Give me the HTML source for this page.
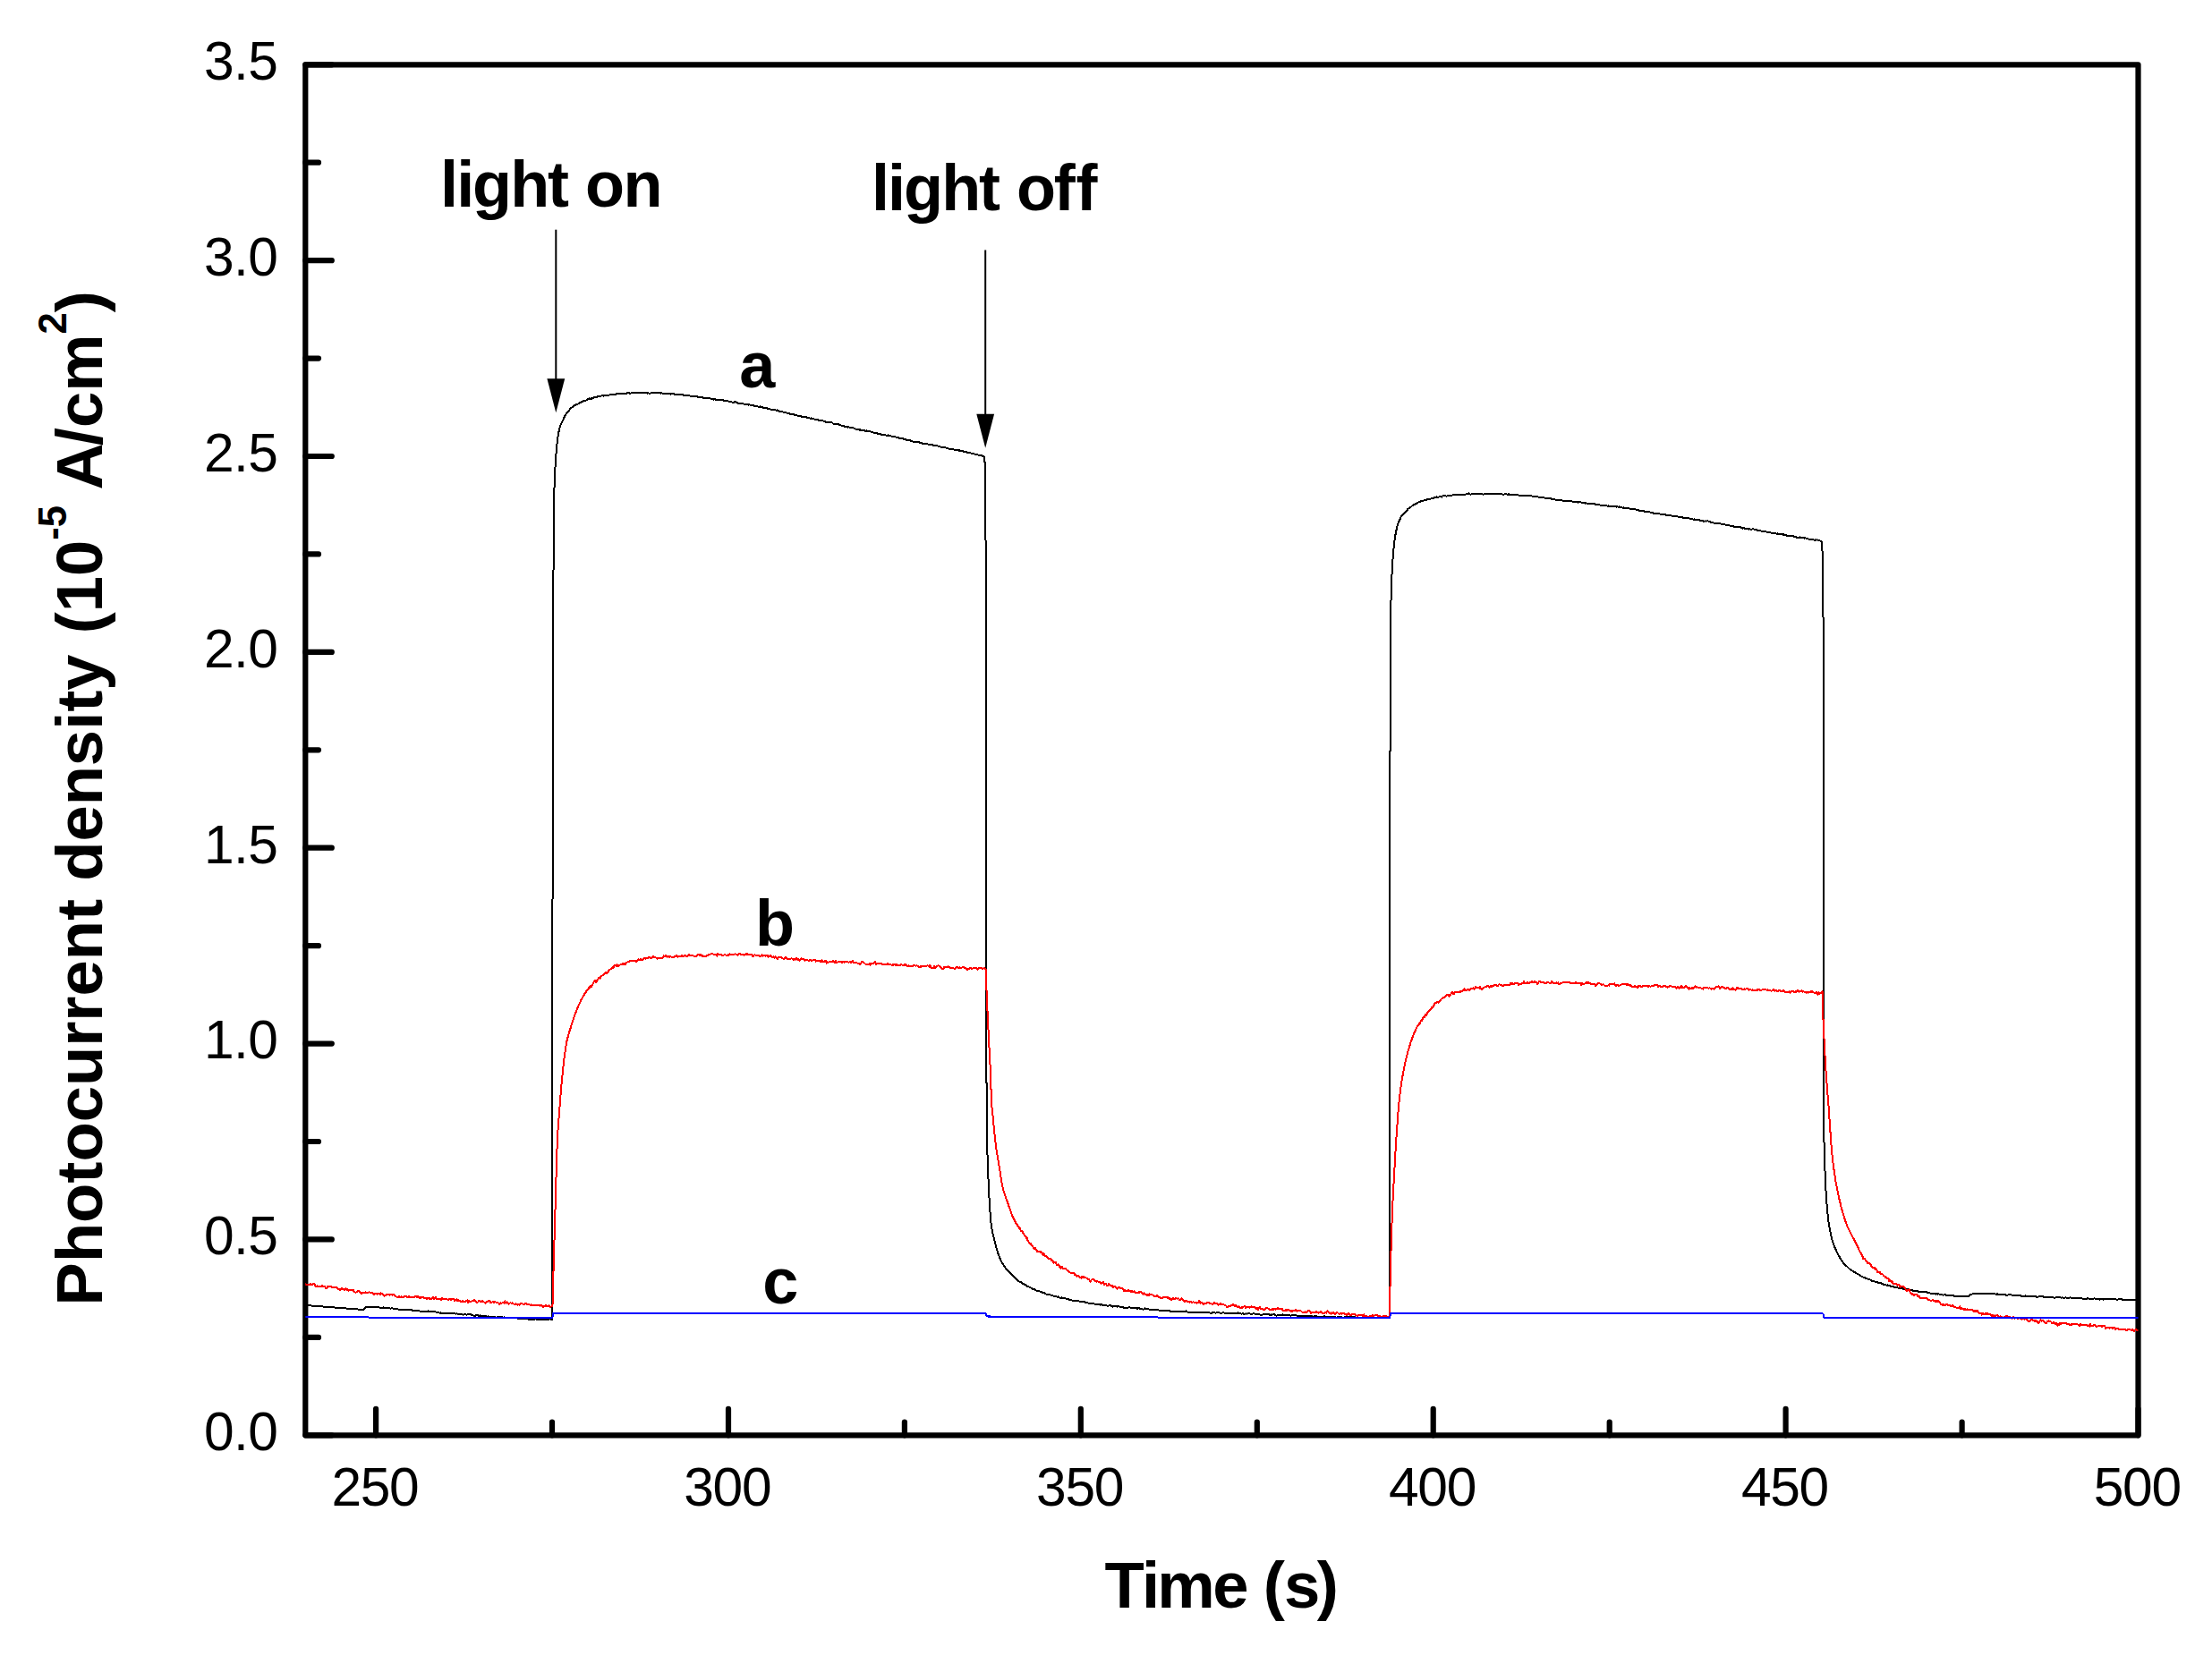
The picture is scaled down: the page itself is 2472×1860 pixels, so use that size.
<!DOCTYPE html>
<html lang="en">
<head>
<meta charset="utf-8">
<title>Photocurrent density vs time</title>
<style>
html,body{margin:0;padding:0;background:#ffffff;}
body{width:2472px;height:1860px;}
svg{display:block;}
</style>
</head>
<body>
<svg width="2472" height="1860" viewBox="0 0 2472 1860">
<rect x="0" y="0" width="2472" height="1860" fill="#ffffff"/>
<g fill="none" stroke="#000000" stroke-width="6.2" stroke-linecap="round" stroke-linejoin="round">
<path d="M341.3,72.3 L2389.5,72.3 L2389.5,1604.3 L341.3,1604.3 Z"/>
<path d="M341.3,1604.3 h29.5 M341.3,1494.9 h14.7 M341.3,1385.4 h29.5 M341.3,1276.0 h14.7 M341.3,1166.6 h29.5 M341.3,1057.2 h14.7 M341.3,947.7 h29.5 M341.3,838.3 h14.7 M341.3,728.9 h29.5 M341.3,619.4 h14.7 M341.3,510.0 h29.5 M341.3,400.6 h14.7 M341.3,291.2 h29.5 M341.3,181.7 h14.7 M341.3,72.3 h29.5 M420.1,1604.3 v-29.5 M617.0,1604.3 v-14.7 M814.0,1604.3 v-29.5 M1010.9,1604.3 v-14.7 M1207.8,1604.3 v-29.5 M1404.8,1604.3 v-14.7 M1601.7,1604.3 v-29.5 M1798.7,1604.3 v-14.7 M1995.6,1604.3 v-29.5 M2192.6,1604.3 v-14.7 M2389.5,1604.3 v-29.5"/>
</g>
<clipPath id="plot"><rect x="341.3" y="72.3" width="2048.2" height="1532.0"/></clipPath>
<g fill="none" stroke-width="2.0" stroke-linejoin="round" stroke-linecap="butt" clip-path="url(#plot)" shape-rendering="crispEdges">
<path stroke="#000000" d="M340.0,1458.9 L405.9,1464.0 L408.3,1461.5 L424.0,1461.4 L425.0,1461.7 L426.0,1461.9 L427.0,1461.5 L428.0,1461.7 L429.0,1461.4 L430.0,1462.2 L431.0,1461.9 L432.0,1462.0 L433.0,1462.4 L434.0,1462.3 L435.0,1462.3 L436.0,1462.5 L437.0,1462.5 L438.0,1462.3 L439.0,1462.6 L440.0,1462.6 L441.0,1462.6 L442.1,1463.3 L443.1,1463.4 L444.1,1463.2 L445.1,1463.5 L446.1,1463.7 L447.1,1463.9 L448.1,1463.7 L449.1,1463.9 L450.1,1464.4 L451.1,1464.1 L452.1,1464.2 L453.1,1464.4 L454.1,1464.2 L455.1,1464.1 L456.1,1464.3 L457.1,1463.5 L458.1,1464.4 L459.1,1464.2 L460.1,1464.1 L461.1,1464.8 L462.1,1464.9 L463.1,1464.9 L464.1,1464.7 L465.1,1465.0 L466.1,1464.9 L467.1,1465.1 L468.1,1465.3 L469.1,1465.6 L470.1,1465.9 L471.1,1465.8 L472.1,1465.5 L473.1,1465.7 L474.2,1466.0 L475.2,1465.7 L476.2,1465.7 L477.2,1465.9 L478.2,1465.4 L479.2,1466.4 L480.2,1466.3 L481.2,1466.0 L482.2,1466.3 L483.2,1465.8 L484.2,1466.3 L485.2,1465.7 L486.2,1466.1 L487.2,1466.6 L488.2,1467.0 L489.2,1466.5 L490.2,1467.1 L491.2,1467.6 L492.2,1467.4 L493.2,1468.2 L494.2,1467.6 L495.2,1467.9 L496.2,1467.6 L497.2,1467.9 L498.2,1467.7 L499.2,1467.7 L500.2,1467.6 L501.2,1468.4 L502.3,1468.1 L503.3,1468.1 L504.3,1468.2 L505.3,1468.0 L506.3,1467.9 L507.3,1468.0 L508.3,1468.0 L509.3,1468.7 L510.3,1468.3 L510.8,1468.5 L511.3,1468.5 L512.3,1468.6 L513.3,1468.9 L514.3,1468.6 L515.3,1468.8 L516.3,1469.3 L517.3,1469.5 L518.3,1469.5 L519.3,1469.4 L520.3,1469.4 L521.3,1469.6 L522.3,1469.5 L523.3,1469.4 L524.3,1469.2 L525.3,1469.4 L526.3,1469.4 L527.4,1469.9 L528.4,1470.0 L529.4,1470.7 L530.4,1470.5 L531.4,1470.6 L532.4,1469.9 L533.4,1470.3 L534.4,1470.4 L535.4,1470.8 L536.4,1470.2 L537.4,1471.0 L538.4,1471.1 L539.4,1470.6 L540.4,1471.0 L541.4,1471.0 L542.4,1471.2 L543.4,1471.5 L544.4,1471.9 L545.4,1471.5 L546.4,1471.8 L547.4,1471.6 L548.4,1472.0 L549.4,1471.9 L550.4,1472.2 L551.5,1472.0 L552.5,1472.1 L553.5,1472.3 L554.5,1472.7 L555.5,1472.4 L556.5,1472.4 L557.5,1472.1 L558.5,1472.4 L559.5,1472.2 L560.5,1472.1 L561.5,1472.5 L562.5,1472.8 L563.5,1472.5 L564.5,1472.7 L565.5,1472.6 L566.5,1472.8 L567.5,1473.3 L568.5,1473.2 L569.5,1473.2 L570.5,1473.3 L571.5,1473.2 L572.5,1473.4 L573.6,1472.9 L574.6,1472.9 L575.6,1473.2 L576.6,1473.0 L577.6,1473.4 L578.6,1473.7 L579.6,1473.9 L580.6,1474.1 L581.6,1473.6 L582.6,1473.7 L583.6,1473.9 L584.6,1474.0 L585.6,1474.5 L586.6,1473.9 L587.6,1474.4 L588.6,1474.1 L589.6,1474.4 L590.6,1474.6 L591.6,1474.7 L592.7,1474.7 L593.7,1474.6 L594.7,1474.7 L595.7,1474.6 L596.7,1474.5 L597.7,1474.5 L598.7,1474.3 L599.7,1474.8 L600.0,1474.9 L600.7,1475.2 L601.7,1475.0 L602.7,1475.1 L603.7,1475.2 L604.7,1475.4 L605.7,1474.8 L606.7,1474.8 L607.7,1474.6 L608.7,1475.0 L609.8,1474.9 L610.8,1475.4 L611.8,1474.9 L612.8,1474.6 L613.8,1474.5 L614.8,1474.4 L615.8,1474.7 L616.8,1474.9 L617.0,1475.0 L617.0,1474.0 L617.0,1473.0 L617.0,1472.0 L617.0,1471.0 L617.0,1470.0 L617.0,1469.0 L617.0,1468.0 L617.0,1467.0 L617.0,1466.0 L617.0,1465.0 L617.0,1464.0 L617.0,1463.0 L617.0,1462.0 L617.0,1461.0 L617.0,1460.0 L617.0,1459.0 L617.0,1458.0 L617.0,1457.0 L617.0,1456.0 L617.0,1455.0 L617.0,1454.0 L617.0,1453.0 L617.0,1452.0 L617.0,1451.0 L617.0,1450.0 L617.0,1449.0 L617.0,1448.0 L617.0,1447.0 L617.0,1446.0 L617.0,1445.0 L617.0,1444.0 L617.0,1443.0 L617.0,1442.0 L617.0,1441.0 L617.0,1440.0 L617.0,1439.0 L617.0,1438.0 L617.0,1437.0 L617.0,1436.0 L617.0,1435.0 L617.0,1434.0 L617.0,1433.0 L617.0,1432.0 L617.0,1431.0 L617.0,1430.0 L617.0,1429.0 L617.0,1428.0 L617.0,1427.0 L617.0,1426.0 L617.0,1425.0 L617.0,1424.0 L617.0,1423.0 L617.0,1422.0 L617.0,1421.0 L617.0,1420.0 L617.0,1419.0 L617.0,1418.0 L617.0,1417.0 L617.0,1416.0 L617.0,1415.0 L617.0,1414.0 L617.0,1413.0 L617.0,1412.0 L617.0,1411.0 L617.0,1410.0 L617.0,1409.0 L617.0,1408.0 L617.0,1407.0 L617.0,1406.0 L617.0,1405.0 L617.0,1404.0 L617.0,1403.0 L617.0,1402.0 L617.0,1401.0 L617.0,1399.9 L617.0,1398.9 L617.0,1397.9 L617.0,1396.9 L617.0,1395.9 L617.0,1394.9 L617.0,1393.9 L617.0,1392.9 L617.0,1391.9 L617.0,1390.9 L617.0,1389.9 L617.0,1388.9 L617.0,1387.9 L617.0,1386.9 L617.0,1385.9 L617.0,1384.9 L617.0,1383.9 L617.0,1382.9 L617.0,1381.9 L617.0,1380.9 L617.0,1379.9 L617.0,1378.9 L617.0,1377.9 L617.0,1376.9 L617.0,1375.9 L617.0,1374.9 L617.0,1373.9 L617.0,1372.9 L617.0,1371.9 L617.0,1370.9 L617.0,1369.9 L617.0,1368.9 L617.0,1367.9 L617.0,1366.9 L617.0,1365.9 L617.0,1364.9 L617.0,1363.9 L617.0,1362.9 L617.0,1361.9 L617.0,1360.9 L617.0,1359.9 L617.0,1358.9 L617.0,1357.9 L617.0,1356.9 L617.0,1355.9 L617.0,1354.9 L617.1,1353.9 L617.1,1352.9 L617.1,1351.9 L617.1,1350.9 L617.1,1349.9 L617.1,1348.9 L617.1,1347.9 L617.1,1346.9 L617.1,1345.9 L617.1,1344.9 L617.1,1343.9 L617.1,1342.9 L617.1,1341.9 L617.1,1340.9 L617.1,1339.9 L617.1,1338.9 L617.1,1337.9 L617.1,1336.9 L617.1,1335.9 L617.1,1334.9 L617.1,1333.9 L617.1,1332.9 L617.1,1331.9 L617.1,1330.9 L617.1,1329.9 L617.1,1328.9 L617.1,1327.9 L617.1,1326.9 L617.1,1325.9 L617.1,1324.9 L617.1,1323.9 L617.1,1322.9 L617.1,1321.9 L617.1,1320.9 L617.1,1319.9 L617.1,1318.9 L617.1,1317.9 L617.1,1316.9 L617.1,1315.9 L617.1,1314.9 L617.1,1313.9 L617.1,1312.9 L617.1,1311.9 L617.1,1310.9 L617.1,1309.9 L617.1,1308.9 L617.1,1307.9 L617.1,1306.9 L617.1,1305.9 L617.1,1304.9 L617.1,1303.9 L617.1,1302.9 L617.1,1301.9 L617.1,1300.9 L617.1,1299.9 L617.1,1298.9 L617.1,1297.9 L617.1,1296.9 L617.1,1295.9 L617.1,1294.9 L617.1,1293.9 L617.1,1292.9 L617.1,1291.9 L617.1,1290.9 L617.1,1289.9 L617.1,1288.9 L617.1,1287.9 L617.1,1286.9 L617.1,1285.9 L617.1,1284.9 L617.1,1283.9 L617.1,1282.9 L617.1,1281.9 L617.1,1280.9 L617.1,1279.9 L617.1,1278.9 L617.1,1277.9 L617.1,1276.9 L617.1,1275.9 L617.1,1274.9 L617.1,1273.9 L617.1,1272.9 L617.1,1271.9 L617.1,1270.9 L617.1,1269.9 L617.1,1268.9 L617.1,1267.9 L617.1,1266.9 L617.1,1265.9 L617.1,1264.9 L617.1,1263.9 L617.1,1262.9 L617.1,1261.9 L617.1,1260.9 L617.1,1259.9 L617.1,1258.9 L617.1,1257.9 L617.1,1256.9 L617.1,1255.9 L617.1,1254.9 L617.1,1253.9 L617.1,1252.9 L617.1,1251.8 L617.1,1250.8 L617.1,1249.8 L617.1,1248.8 L617.1,1247.8 L617.1,1246.8 L617.1,1245.8 L617.1,1244.8 L617.1,1243.8 L617.1,1242.8 L617.1,1241.8 L617.2,1240.8 L617.2,1239.8 L617.2,1238.8 L617.2,1237.8 L617.2,1236.8 L617.2,1235.8 L617.2,1234.8 L617.2,1233.8 L617.2,1232.8 L617.2,1231.8 L617.2,1230.8 L617.2,1229.8 L617.2,1228.8 L617.2,1227.8 L617.2,1226.8 L617.2,1225.8 L617.2,1224.8 L617.2,1223.8 L617.2,1222.8 L617.2,1221.8 L617.2,1220.8 L617.2,1219.8 L617.2,1218.8 L617.2,1217.8 L617.2,1216.8 L617.2,1215.8 L617.2,1214.8 L617.2,1213.8 L617.2,1212.8 L617.2,1211.8 L617.2,1210.8 L617.2,1209.8 L617.2,1208.8 L617.2,1207.8 L617.2,1206.8 L617.2,1205.8 L617.2,1204.8 L617.2,1203.8 L617.2,1202.8 L617.2,1201.8 L617.2,1200.8 L617.2,1199.8 L617.2,1198.8 L617.2,1197.8 L617.2,1196.8 L617.2,1195.8 L617.2,1194.8 L617.2,1193.8 L617.2,1192.8 L617.2,1191.8 L617.2,1190.8 L617.2,1189.8 L617.2,1188.8 L617.2,1187.8 L617.2,1186.8 L617.2,1185.8 L617.2,1184.8 L617.2,1183.8 L617.2,1182.8 L617.2,1181.8 L617.2,1180.8 L617.2,1179.8 L617.2,1178.8 L617.2,1177.8 L617.2,1176.8 L617.2,1175.8 L617.2,1174.8 L617.2,1173.8 L617.2,1172.8 L617.2,1171.8 L617.2,1170.8 L617.2,1169.8 L617.2,1168.8 L617.2,1167.8 L617.2,1166.8 L617.2,1165.8 L617.2,1164.8 L617.2,1163.8 L617.2,1162.8 L617.2,1161.8 L617.2,1160.8 L617.2,1159.8 L617.2,1158.8 L617.2,1157.8 L617.2,1156.8 L617.2,1155.8 L617.2,1154.8 L617.3,1153.8 L617.3,1152.8 L617.3,1151.8 L617.3,1150.8 L617.3,1149.8 L617.3,1148.8 L617.3,1147.8 L617.3,1146.8 L617.3,1145.8 L617.3,1144.8 L617.3,1143.8 L617.3,1142.8 L617.3,1141.8 L617.3,1140.8 L617.3,1139.8 L617.3,1138.8 L617.3,1137.8 L617.3,1136.8 L617.3,1135.8 L617.3,1134.8 L617.3,1133.8 L617.3,1132.8 L617.3,1131.8 L617.3,1130.8 L617.3,1129.8 L617.3,1128.8 L617.3,1127.8 L617.3,1126.8 L617.3,1125.8 L617.3,1124.8 L617.3,1123.8 L617.3,1122.8 L617.3,1121.8 L617.3,1120.8 L617.3,1119.8 L617.3,1118.8 L617.3,1117.8 L617.3,1116.8 L617.3,1115.8 L617.3,1114.8 L617.3,1113.8 L617.3,1112.8 L617.3,1111.8 L617.3,1110.8 L617.3,1109.8 L617.3,1108.8 L617.3,1107.8 L617.3,1106.8 L617.3,1105.8 L617.3,1104.8 L617.3,1103.8 L617.3,1102.7 L617.3,1101.7 L617.3,1100.7 L617.3,1099.7 L617.3,1098.7 L617.3,1097.7 L617.3,1096.7 L617.3,1095.7 L617.3,1094.7 L617.3,1093.7 L617.3,1092.7 L617.3,1091.7 L617.3,1090.7 L617.3,1089.7 L617.3,1088.7 L617.3,1087.7 L617.3,1086.7 L617.3,1085.7 L617.3,1084.7 L617.3,1083.7 L617.3,1082.7 L617.3,1081.7 L617.3,1080.7 L617.3,1079.7 L617.3,1078.7 L617.3,1077.7 L617.4,1076.7 L617.4,1075.7 L617.4,1074.7 L617.4,1073.7 L617.4,1072.7 L617.4,1071.7 L617.4,1070.7 L617.4,1069.7 L617.4,1068.7 L617.4,1067.7 L617.4,1066.7 L617.4,1065.7 L617.4,1064.7 L617.4,1063.7 L617.4,1062.7 L617.4,1061.7 L617.4,1060.7 L617.4,1059.7 L617.4,1058.7 L617.4,1057.7 L617.4,1056.7 L617.4,1055.7 L617.4,1054.7 L617.4,1053.7 L617.4,1052.7 L617.4,1051.7 L617.4,1050.7 L617.4,1049.7 L617.4,1048.7 L617.4,1047.7 L617.4,1046.7 L617.4,1045.7 L617.4,1044.7 L617.4,1043.7 L617.4,1042.7 L617.4,1041.7 L617.4,1040.7 L617.4,1040.0 L617.4,1039.7 L617.4,1038.7 L617.4,1037.7 L617.4,1036.7 L617.4,1035.7 L617.4,1034.7 L617.4,1033.7 L617.4,1032.7 L617.4,1031.7 L617.4,1030.7 L617.4,1029.7 L617.4,1028.7 L617.4,1027.7 L617.4,1026.7 L617.4,1025.7 L617.4,1024.7 L617.4,1023.7 L617.4,1022.7 L617.4,1021.7 L617.4,1020.7 L617.4,1019.7 L617.4,1018.7 L617.4,1017.7 L617.4,1016.7 L617.4,1015.7 L617.4,1014.7 L617.4,1013.7 L617.4,1012.7 L617.4,1011.7 L617.4,1010.7 L617.4,1009.7 L617.4,1008.7 L617.4,1007.7 L617.4,1006.7 L617.4,1005.7 L617.5,1004.7 L617.5,1003.7 L617.5,1002.7 L617.5,1001.7 L617.5,1000.7 L617.5,999.7 L617.5,998.7 L617.5,997.7 L617.5,996.7 L617.5,995.7 L617.5,994.7 L617.5,993.7 L617.5,992.7 L617.5,991.7 L617.5,990.7 L617.5,989.7 L617.5,988.7 L617.5,987.7 L617.5,986.7 L617.5,985.7 L617.5,984.7 L617.5,983.7 L617.5,982.7 L617.5,981.7 L617.5,980.7 L617.5,979.7 L617.5,978.7 L617.5,977.7 L617.5,976.7 L617.5,975.7 L617.5,974.7 L617.5,973.7 L617.5,972.7 L617.5,971.7 L617.5,970.7 L617.5,969.7 L617.5,968.7 L617.5,967.7 L617.5,966.7 L617.5,965.7 L617.5,964.7 L617.5,963.7 L617.5,962.7 L617.5,961.7 L617.5,960.7 L617.5,959.7 L617.5,958.7 L617.5,957.7 L617.5,956.7 L617.5,955.7 L617.5,954.7 L617.5,953.6 L617.5,952.6 L617.5,951.6 L617.5,950.6 L617.5,949.6 L617.5,948.6 L617.5,947.6 L617.5,946.6 L617.5,945.6 L617.5,944.6 L617.6,943.6 L617.6,942.6 L617.6,941.6 L617.6,940.6 L617.6,939.6 L617.6,938.6 L617.6,937.6 L617.6,936.6 L617.6,935.6 L617.6,934.6 L617.6,933.6 L617.6,932.6 L617.6,931.6 L617.6,930.6 L617.6,929.6 L617.6,928.6 L617.6,927.6 L617.6,926.6 L617.6,925.6 L617.6,924.6 L617.6,923.6 L617.6,922.6 L617.6,921.6 L617.6,920.6 L617.6,919.6 L617.6,918.6 L617.6,917.6 L617.6,916.6 L617.6,915.6 L617.6,914.6 L617.6,913.6 L617.6,912.6 L617.6,911.6 L617.6,910.6 L617.6,909.6 L617.6,908.6 L617.6,907.6 L617.6,906.6 L617.6,905.6 L617.6,904.6 L617.6,903.6 L617.6,902.6 L617.6,901.6 L617.6,900.6 L617.6,899.6 L617.6,898.6 L617.6,897.6 L617.6,896.6 L617.6,895.6 L617.6,894.6 L617.6,893.6 L617.7,892.6 L617.7,891.6 L617.7,890.6 L617.7,889.6 L617.7,888.6 L617.7,887.6 L617.7,886.6 L617.7,885.6 L617.7,884.6 L617.7,883.6 L617.7,882.6 L617.7,881.6 L617.7,880.6 L617.7,879.6 L617.7,878.6 L617.7,877.6 L617.7,876.6 L617.7,875.6 L617.7,874.6 L617.7,873.6 L617.7,872.6 L617.7,871.6 L617.7,870.6 L617.7,869.6 L617.7,868.6 L617.7,867.6 L617.7,866.6 L617.7,865.6 L617.7,864.6 L617.7,863.6 L617.7,862.6 L617.7,861.6 L617.7,860.6 L617.7,859.6 L617.7,858.6 L617.7,857.6 L617.7,856.6 L617.7,855.6 L617.7,854.6 L617.7,853.6 L617.7,852.6 L617.7,851.6 L617.7,850.6 L617.7,849.6 L617.8,848.6 L617.8,847.6 L617.8,846.6 L617.8,845.6 L617.8,844.6 L617.8,843.6 L617.8,842.6 L617.8,841.6 L617.8,840.6 L617.8,839.6 L617.8,838.6 L617.8,837.6 L617.8,836.6 L617.8,835.6 L617.8,834.6 L617.8,833.6 L617.8,832.6 L617.8,831.6 L617.8,830.6 L617.8,829.6 L617.8,828.6 L617.8,827.6 L617.8,826.6 L617.8,825.6 L617.8,824.6 L617.8,823.6 L617.8,822.6 L617.8,821.6 L617.8,820.6 L617.8,819.6 L617.8,818.6 L617.8,817.6 L617.8,816.6 L617.8,815.6 L617.8,814.6 L617.8,813.6 L617.8,812.6 L617.8,811.6 L617.8,810.6 L617.9,809.6 L617.9,808.6 L617.9,807.6 L617.9,806.6 L617.9,805.6 L617.9,804.5 L617.9,803.5 L617.9,802.5 L617.9,801.5 L617.9,800.5 L617.9,799.5 L617.9,798.5 L617.9,797.5 L617.9,796.5 L617.9,795.5 L617.9,794.5 L617.9,793.5 L617.9,792.5 L617.9,791.5 L617.9,790.5 L617.9,789.5 L617.9,788.5 L617.9,787.5 L617.9,786.5 L617.9,785.5 L617.9,784.5 L617.9,783.5 L617.9,782.5 L617.9,781.5 L617.9,780.5 L617.9,779.5 L617.9,778.5 L617.9,777.5 L617.9,776.5 L617.9,775.5 L618.0,774.5 L618.0,773.5 L618.0,772.5 L618.0,771.5 L618.0,770.5 L618.0,769.5 L618.0,768.5 L618.0,767.5 L618.0,766.5 L618.0,765.5 L618.0,764.5 L618.0,763.5 L618.0,762.5 L618.0,761.5 L618.0,760.5 L618.0,759.5 L618.0,758.5 L618.0,757.5 L618.0,756.5 L618.0,755.5 L618.0,754.5 L618.0,753.5 L618.0,752.5 L618.0,751.5 L618.0,750.5 L618.0,749.5 L618.0,748.5 L618.0,747.5 L618.0,746.5 L618.0,745.5 L618.0,744.5 L618.0,743.5 L618.1,742.5 L618.1,741.5 L618.1,740.5 L618.1,739.5 L618.1,738.5 L618.1,737.5 L618.1,736.5 L618.1,735.5 L618.1,734.5 L618.1,733.5 L618.1,732.5 L618.1,731.5 L618.1,730.5 L618.1,729.5 L618.1,728.5 L618.1,727.5 L618.1,726.5 L618.1,725.5 L618.1,724.5 L618.1,723.5 L618.1,722.5 L618.1,721.5 L618.1,720.5 L618.1,719.5 L618.1,718.5 L618.1,717.5 L618.1,716.5 L618.1,715.5 L618.1,714.5 L618.2,713.5 L618.2,712.5 L618.2,711.5 L618.2,710.5 L618.2,709.5 L618.2,708.5 L618.2,707.5 L618.2,706.5 L618.2,705.5 L618.2,704.5 L618.2,703.5 L618.2,702.5 L618.2,701.5 L618.2,700.5 L618.2,700.0 L618.2,699.5 L618.2,698.5 L618.2,697.5 L618.2,696.5 L618.2,695.5 L618.2,694.5 L618.2,693.5 L618.2,692.5 L618.2,691.5 L618.2,690.5 L618.2,689.5 L618.2,688.5 L618.2,687.5 L618.2,686.5 L618.3,685.5 L618.3,684.5 L618.3,683.5 L618.3,682.5 L618.3,681.5 L618.3,680.5 L618.3,679.5 L618.3,678.5 L618.3,677.5 L618.3,676.5 L618.3,675.5 L618.3,674.5 L618.3,673.5 L618.3,672.5 L618.3,671.5 L618.3,670.5 L618.3,669.5 L618.3,668.5 L618.3,667.5 L618.3,666.5 L618.3,665.5 L618.3,664.5 L618.3,663.5 L618.3,662.5 L618.3,661.5 L618.3,660.5 L618.4,659.5 L618.4,658.4 L618.4,657.4 L618.4,656.4 L618.4,655.4 L618.4,654.4 L618.4,653.4 L618.4,652.4 L618.4,651.4 L618.4,650.4 L618.4,649.4 L618.4,648.4 L618.4,647.4 L618.4,646.4 L618.4,645.4 L618.4,644.4 L618.4,643.4 L618.4,642.4 L618.4,641.4 L618.4,640.4 L618.4,639.4 L618.4,638.4 L618.5,637.4 L618.5,636.4 L618.5,635.4 L618.5,634.4 L618.5,633.4 L618.5,632.4 L618.5,631.4 L618.5,630.4 L618.5,629.4 L618.5,628.4 L618.5,627.4 L618.5,626.4 L618.5,625.4 L618.5,624.4 L618.5,623.4 L618.5,622.4 L618.5,621.4 L618.5,620.4 L618.6,619.4 L618.6,618.4 L618.6,617.4 L618.6,616.4 L618.6,615.4 L618.6,614.4 L618.6,613.4 L618.6,612.4 L618.6,611.4 L618.6,610.4 L618.6,609.4 L618.6,608.4 L618.6,607.4 L618.6,606.4 L618.7,605.4 L618.7,604.4 L618.7,603.4 L618.7,602.4 L618.7,601.4 L618.7,600.4 L618.7,599.4 L618.7,598.4 L618.7,597.4 L618.7,596.4 L618.7,595.4 L618.7,594.4 L618.7,593.4 L618.8,592.4 L618.8,591.4 L618.8,590.4 L618.8,589.4 L618.8,588.4 L618.8,587.4 L618.8,586.4 L618.8,585.4 L618.8,584.4 L618.8,583.4 L618.8,582.4 L618.9,581.4 L618.9,580.4 L618.9,579.4 L618.9,578.4 L618.9,577.4 L618.9,576.4 L618.9,575.4 L618.9,574.4 L618.9,573.4 L619.0,572.4 L619.0,571.4 L619.0,570.4 L619.0,569.4 L619.0,568.4 L619.0,567.4 L619.0,566.4 L619.0,565.4 L619.0,564.4 L619.1,563.4 L619.1,562.4 L619.1,561.4 L619.1,560.4 L619.1,560.0 L619.1,559.4 L619.1,558.4 L619.1,557.4 L619.2,556.4 L619.2,555.4 L619.2,554.4 L619.2,553.4 L619.2,552.4 L619.3,551.4 L619.3,550.4 L619.3,549.4 L619.4,548.4 L619.4,547.4 L619.4,546.4 L619.5,545.4 L619.5,544.4 L619.5,543.4 L619.6,542.4 L619.6,541.4 L619.7,540.4 L619.7,539.4 L619.7,538.4 L619.8,537.4 L619.8,536.4 L619.9,535.4 L619.9,534.4 L620.0,533.4 L620.0,532.4 L620.0,531.4 L620.1,530.4 L620.1,529.4 L620.2,528.4 L620.2,528.0 L620.2,527.4 L620.3,526.4 L620.3,525.4 L620.4,524.4 L620.4,523.4 L620.5,522.4 L620.5,521.4 L620.6,520.4 L620.7,519.4 L620.7,518.4 L620.8,517.4 L620.8,516.4 L620.9,515.4 L621.0,514.4 L621.0,513.4 L621.1,512.4 L621.2,511.4 L621.3,510.4 L621.3,509.4 L621.4,508.4 L621.5,507.4 L621.6,506.4 L621.7,505.4 L621.7,504.4 L621.8,503.4 L621.9,502.4 L622.0,501.4 L622.1,500.4 L622.2,499.4 L622.3,498.4 L622.4,497.4 L622.5,496.4 L622.6,495.4 L622.7,494.5 L622.8,493.5 L622.9,492.8 L622.9,492.5 L623.1,491.5 L623.2,490.5 L623.3,489.5 L623.5,488.5 L623.6,487.5 L623.8,486.5 L623.9,485.5 L624.1,484.5 L624.3,483.5 L624.5,482.5 L624.7,481.5 L624.9,480.6 L625.1,479.6 L625.3,478.6 L625.6,477.7 L625.6,477.6 L625.9,476.7 L626.2,475.8 L626.5,474.9 L626.9,474.0 L627.4,473.0 L627.8,472.1 L628.3,471.2 L628.7,470.3 L629.2,469.4 L629.4,469.0 L629.6,468.5 L630.1,467.6 L630.5,466.7 L631.0,465.8 L631.4,464.9 L631.9,464.0 L632.4,463.1 L632.9,462.3 L633.5,461.6 L634.0,460.6 L634.3,460.2 L634.6,460.0 L635.3,459.6 L636.0,458.7 L636.7,457.5 L637.4,457.2 L638.2,455.8 L639.0,455.5 L639.8,455.1 L640.7,454.7 L641.5,453.9 L642.3,453.0 L643.2,452.9 L643.5,452.5 L644.0,452.0 L644.9,451.9 L645.7,451.7 L646.6,451.4 L647.5,450.9 L648.4,449.8 L649.3,450.0 L650.2,449.1 L651.1,448.6 L652.0,448.4 L653.0,447.9 L653.9,448.0 L654.9,447.6 L655.8,446.8 L656.7,446.4 L657.7,446.0 L658.7,445.4 L659.6,445.6 L660.6,445.1 L660.9,445.8 L661.5,445.4 L662.5,445.1 L663.4,445.1 L664.4,443.9 L665.4,444.1 L666.3,444.0 L667.3,443.5 L668.3,443.3 L669.3,442.9 L670.3,442.8 L671.3,442.8 L672.3,442.4 L673.3,442.2 L674.2,442.6 L675.2,441.9 L676.2,441.9 L677.2,442.1 L677.2,442.0 L678.2,441.6 L679.2,441.6 L680.2,441.8 L681.2,441.4 L682.2,441.4 L683.2,441.1 L684.2,440.8 L685.1,440.9 L686.1,441.0 L687.1,441.1 L688.1,441.0 L689.1,440.2 L690.1,440.6 L691.1,440.0 L692.1,439.8 L693.1,440.1 L694.1,439.9 L695.1,440.1 L696.1,440.1 L697.1,439.7 L698.1,439.5 L699.1,439.6 L700.1,439.7 L701.0,439.5 L701.1,439.1 L702.1,439.1 L703.1,439.4 L704.1,439.8 L705.1,439.4 L706.1,439.4 L707.1,439.4 L708.1,439.1 L709.1,439.4 L710.1,439.3 L711.1,438.9 L712.1,439.0 L713.1,439.0 L714.1,438.9 L715.1,439.5 L716.1,439.4 L717.1,439.5 L718.1,439.1 L719.1,439.2 L720.1,439.5 L721.1,439.3 L722.1,438.9 L722.7,439.2 L723.1,439.6 L724.1,439.4 L725.1,439.6 L726.1,439.9 L727.1,439.4 L728.1,439.3 L729.1,439.1 L730.1,439.2 L731.1,439.5 L732.1,439.2 L733.1,439.0 L734.1,438.9 L735.1,439.2 L736.1,439.4 L737.1,439.1 L738.1,439.6 L739.1,439.3 L740.1,439.6 L741.1,439.9 L742.1,439.9 L743.1,439.8 L744.1,439.9 L745.1,440.0 L746.1,439.8 L747.1,440.2 L748.1,440.3 L749.1,440.6 L750.1,440.3 L751.1,440.2 L752.1,440.5 L753.1,440.3 L754.1,440.7 L755.1,441.1 L755.3,441.1 L756.1,440.9 L757.1,441.0 L758.1,440.5 L759.1,441.0 L760.1,440.9 L761.1,441.1 L762.1,441.0 L763.1,441.4 L764.1,441.7 L765.1,442.0 L766.1,441.7 L767.0,442.2 L768.0,441.9 L769.0,442.1 L770.0,442.5 L771.0,442.4 L772.0,442.7 L773.0,442.6 L774.0,442.8 L775.0,443.0 L776.0,443.0 L777.0,443.0 L778.0,443.2 L779.0,443.3 L780.0,443.7 L780.0,443.6 L780.9,443.9 L781.9,444.0 L782.9,443.8 L783.9,444.3 L784.9,444.3 L785.9,444.7 L786.9,444.7 L787.9,444.6 L788.9,444.7 L789.9,445.4 L790.9,445.3 L791.9,445.3 L792.9,445.5 L793.8,445.4 L794.8,445.7 L795.8,446.0 L796.8,445.6 L797.8,446.6 L798.8,446.3 L799.8,446.4 L800.0,446.7 L800.8,446.7 L801.8,446.5 L802.8,446.8 L803.7,446.9 L804.7,446.9 L805.7,446.8 L806.7,446.9 L807.7,447.3 L808.7,447.6 L809.7,447.9 L810.7,448.4 L811.7,448.2 L812.6,448.1 L813.6,448.3 L814.6,448.8 L815.6,448.7 L816.6,449.1 L817.6,449.4 L818.6,449.7 L819.6,449.8 L820.4,449.6 L820.5,449.2 L821.5,449.2 L822.5,449.4 L823.5,450.0 L824.5,450.5 L825.5,450.7 L826.5,450.8 L827.5,450.7 L828.4,451.0 L829.4,451.4 L830.4,451.2 L831.4,451.9 L832.4,452.1 L833.4,452.4 L834.4,452.0 L835.3,452.1 L836.3,452.6 L837.3,452.3 L838.3,452.7 L839.3,452.9 L840.3,453.0 L841.2,452.9 L842.2,453.4 L843.2,453.7 L844.2,453.7 L845.2,454.0 L846.1,454.2 L847.1,454.6 L848.1,454.7 L849.1,455.0 L849.3,454.3 L850.1,455.0 L851.1,455.0 L852.0,455.3 L853.0,455.7 L854.0,455.5 L855.0,455.8 L855.9,456.2 L856.9,456.3 L857.9,456.6 L858.9,456.8 L859.8,457.3 L860.8,457.5 L861.8,457.9 L862.8,458.3 L863.8,458.1 L864.7,458.1 L865.7,458.1 L866.7,458.4 L867.7,458.7 L868.6,458.5 L869.6,458.7 L870.4,459.2 L870.6,459.2 L871.6,460.2 L872.5,460.2 L873.5,460.4 L874.5,460.4 L875.5,460.8 L876.4,460.6 L877.4,460.9 L878.4,461.1 L879.4,461.6 L880.3,461.7 L881.3,461.9 L882.3,462.4 L883.3,462.7 L884.2,462.9 L885.2,462.8 L886.2,463.5 L887.2,463.2 L888.2,463.8 L889.1,463.8 L890.1,464.2 L891.1,464.6 L892.1,464.6 L893.0,464.9 L894.0,465.0 L895.0,465.1 L896.0,466.0 L896.9,465.8 L897.9,465.6 L898.9,466.2 L899.9,466.1 L900.8,465.7 L901.8,466.6 L902.8,467.1 L903.8,467.3 L904.7,467.2 L905.7,467.8 L906.7,467.4 L907.2,467.7 L907.7,467.9 L908.7,468.0 L909.6,468.5 L910.6,468.6 L911.6,468.7 L912.6,469.2 L913.5,468.9 L914.5,469.5 L915.5,470.1 L916.5,469.9 L917.4,470.3 L918.4,470.0 L919.4,470.3 L920.4,470.7 L921.3,471.1 L922.3,471.5 L923.3,471.7 L924.3,471.8 L925.3,471.9 L926.2,471.8 L927.2,472.2 L928.2,472.5 L929.2,472.4 L930.1,472.6 L931.1,473.5 L932.1,473.8 L933.1,474.0 L934.0,474.1 L935.0,474.2 L936.0,474.2 L936.1,474.2 L937.0,474.1 L937.9,474.9 L938.9,474.9 L939.9,475.4 L940.9,476.0 L941.8,476.3 L942.8,476.2 L943.8,476.7 L944.8,476.5 L945.7,476.6 L946.7,477.0 L947.7,477.6 L948.6,477.3 L949.6,478.0 L950.6,477.9 L951.6,477.7 L952.5,478.1 L953.5,478.4 L954.5,478.7 L955.5,479.1 L956.4,479.8 L957.4,479.7 L958.4,480.1 L959.4,480.1 L960.3,480.5 L960.8,480.7 L961.3,480.4 L962.3,480.7 L963.3,480.6 L964.2,480.8 L965.2,481.0 L966.2,481.4 L967.2,481.7 L968.2,481.4 L969.1,482.0 L970.1,481.9 L971.1,482.3 L972.1,482.4 L973.1,482.5 L974.0,483.1 L975.0,483.3 L976.0,483.5 L977.0,483.6 L977.9,483.9 L978.9,484.4 L979.9,484.3 L980.9,484.6 L981.9,484.5 L982.8,485.0 L983.8,485.2 L984.8,485.8 L985.8,485.9 L986.8,485.8 L987.7,486.0 L988.7,485.8 L989.7,486.4 L990.7,486.9 L991.7,487.2 L992.6,486.4 L993.6,486.9 L994.0,486.8 L994.6,486.8 L995.6,487.4 L996.5,487.7 L997.5,488.1 L998.5,488.3 L999.5,488.2 L1000.5,488.4 L1001.4,488.5 L1002.4,489.1 L1003.4,488.8 L1004.4,489.3 L1005.4,490.1 L1006.3,490.1 L1007.3,490.2 L1008.3,490.3 L1009.3,490.4 L1010.2,490.8 L1011.2,491.5 L1012.2,491.3 L1013.2,491.8 L1014.2,491.6 L1015.1,491.8 L1016.1,492.3 L1017.1,492.3 L1018.1,492.7 L1019.0,492.9 L1020.0,493.4 L1021.0,493.8 L1022.0,493.4 L1022.9,494.0 L1023.0,493.8 L1023.9,493.9 L1024.9,493.9 L1025.9,494.4 L1026.9,494.1 L1027.9,494.6 L1028.8,494.9 L1029.8,495.3 L1030.8,495.6 L1031.8,495.6 L1032.8,495.7 L1033.7,495.7 L1034.7,495.6 L1035.7,496.3 L1036.7,496.4 L1037.7,496.6 L1038.6,497.1 L1039.6,496.7 L1040.6,496.9 L1041.6,496.6 L1042.6,497.5 L1043.5,498.0 L1044.5,497.8 L1045.5,498.1 L1046.5,498.2 L1047.5,498.0 L1048.4,498.8 L1049.4,499.0 L1050.4,499.1 L1051.2,499.5 L1051.4,499.6 L1052.4,499.7 L1053.3,500.3 L1054.3,499.8 L1055.3,500.2 L1056.3,500.3 L1057.3,500.6 L1058.2,500.5 L1059.2,500.9 L1060.2,501.5 L1061.2,501.8 L1062.2,501.5 L1063.1,501.5 L1064.1,501.8 L1065.1,501.6 L1066.1,502.6 L1067.1,502.5 L1068.0,503.1 L1069.0,502.7 L1070.0,503.3 L1071.0,503.3 L1072.0,503.8 L1072.9,503.4 L1073.9,504.2 L1074.9,504.2 L1075.9,504.3 L1076.9,505.0 L1077.8,505.3 L1078.8,505.4 L1079.8,505.1 L1080.8,505.7 L1080.8,505.7 L1081.7,505.7 L1082.7,506.1 L1083.7,506.3 L1084.7,506.5 L1085.6,506.7 L1086.6,507.1 L1087.6,506.8 L1088.5,507.2 L1089.5,507.9 L1090.5,507.7 L1091.5,508.2 L1092.4,508.3 L1093.4,508.6 L1094.4,508.8 L1095.3,508.9 L1096.3,509.1 L1097.3,509.5 L1098.2,509.8 L1099.2,509.8 L1100.4,511.5 L1100.4,512.5 L1100.4,513.5 L1100.4,514.5 L1100.4,515.5 L1100.5,516.5 L1100.5,517.5 L1100.5,518.5 L1100.5,519.5 L1100.5,520.5 L1100.5,521.5 L1100.5,522.5 L1100.5,523.5 L1100.6,524.5 L1100.6,525.5 L1100.6,526.5 L1100.6,527.5 L1100.6,528.5 L1100.6,529.5 L1100.6,530.5 L1100.6,531.5 L1100.6,532.5 L1100.7,533.5 L1100.7,534.5 L1100.7,535.5 L1100.7,536.5 L1100.7,537.5 L1100.7,538.5 L1100.7,539.5 L1100.7,540.5 L1100.8,541.5 L1100.8,542.5 L1100.8,543.5 L1100.8,544.5 L1100.8,545.5 L1100.8,546.5 L1100.8,547.5 L1100.8,548.6 L1100.9,549.6 L1100.9,550.6 L1100.9,551.6 L1100.9,552.6 L1100.9,553.6 L1100.9,554.6 L1100.9,555.6 L1100.9,556.6 L1100.9,557.6 L1101.0,558.6 L1101.0,559.6 L1101.0,560.6 L1101.0,561.6 L1101.0,562.6 L1101.0,563.6 L1101.0,564.6 L1101.0,565.6 L1101.1,566.6 L1101.1,567.6 L1101.1,568.6 L1101.1,569.6 L1101.1,570.6 L1101.1,571.6 L1101.1,572.6 L1101.1,573.6 L1101.1,574.6 L1101.2,575.6 L1101.2,576.6 L1101.2,577.6 L1101.2,578.6 L1101.2,579.6 L1101.2,580.6 L1101.2,581.6 L1101.2,582.6 L1101.2,583.6 L1101.3,584.6 L1101.3,585.6 L1101.3,586.6 L1101.3,587.6 L1101.3,588.6 L1101.3,589.6 L1101.3,590.6 L1101.3,591.6 L1101.3,592.6 L1101.4,593.6 L1101.4,594.6 L1101.4,595.6 L1101.4,596.6 L1101.4,597.6 L1101.4,598.6 L1101.4,599.6 L1101.4,600.6 L1101.4,601.6 L1101.4,602.6 L1101.5,603.6 L1101.5,604.6 L1101.5,605.6 L1101.5,606.6 L1101.5,607.6 L1101.5,608.6 L1101.5,609.6 L1101.5,610.6 L1101.5,611.6 L1101.5,612.6 L1101.6,613.6 L1101.6,614.6 L1101.6,615.6 L1101.6,616.6 L1101.6,617.6 L1101.6,618.6 L1101.6,619.6 L1101.6,620.6 L1101.6,621.6 L1101.6,622.7 L1101.6,623.7 L1101.6,624.7 L1101.7,625.7 L1101.7,626.7 L1101.7,627.7 L1101.7,628.7 L1101.7,629.7 L1101.7,630.7 L1101.7,631.7 L1101.7,632.7 L1101.7,633.7 L1101.7,634.7 L1101.7,635.7 L1101.7,636.7 L1101.7,637.7 L1101.7,638.7 L1101.8,639.7 L1101.8,640.7 L1101.8,641.7 L1101.8,642.7 L1101.8,643.7 L1101.8,644.7 L1101.8,645.7 L1101.8,646.7 L1101.8,647.7 L1101.8,648.7 L1101.8,649.7 L1101.8,650.7 L1101.8,651.7 L1101.8,652.7 L1101.8,653.7 L1101.8,654.7 L1101.8,655.7 L1101.8,656.7 L1101.8,657.7 L1101.9,658.7 L1101.9,659.7 L1101.9,660.7 L1101.9,661.7 L1101.9,662.7 L1101.9,663.7 L1101.9,664.7 L1101.9,665.7 L1101.9,666.7 L1101.9,667.7 L1101.9,668.7 L1101.9,669.7 L1101.9,670.7 L1101.9,671.7 L1101.9,672.7 L1101.9,673.7 L1101.9,674.7 L1101.9,675.7 L1101.9,676.7 L1101.9,677.7 L1101.9,678.7 L1101.9,679.7 L1101.9,680.0 L1101.9,680.7 L1101.9,681.7 L1101.9,682.7 L1101.9,683.7 L1101.9,684.7 L1101.9,685.7 L1101.9,686.7 L1101.9,687.7 L1101.9,688.7 L1101.9,689.7 L1101.9,690.7 L1101.9,691.7 L1101.9,692.7 L1101.9,693.7 L1101.9,694.7 L1101.9,695.8 L1101.9,696.8 L1101.9,697.8 L1101.9,698.8 L1101.9,699.8 L1101.9,700.8 L1101.9,701.8 L1101.9,702.8 L1101.9,703.8 L1101.9,704.8 L1101.9,705.8 L1101.9,706.8 L1101.9,707.8 L1101.9,708.8 L1101.9,709.8 L1101.9,710.8 L1101.9,711.8 L1101.9,712.8 L1101.9,713.8 L1101.9,714.8 L1101.9,715.8 L1101.9,716.8 L1101.9,717.8 L1101.9,718.8 L1101.9,719.8 L1101.9,720.8 L1101.9,721.8 L1101.9,722.8 L1101.9,723.8 L1101.9,724.8 L1101.9,725.8 L1101.9,726.8 L1101.9,727.8 L1101.9,728.8 L1101.9,729.8 L1101.9,730.8 L1101.9,731.8 L1101.9,732.8 L1101.9,733.8 L1101.9,734.8 L1101.9,735.8 L1101.9,736.8 L1101.9,737.8 L1101.9,738.8 L1101.9,739.8 L1101.9,740.8 L1101.9,741.8 L1101.9,742.8 L1101.9,743.8 L1101.9,744.8 L1101.9,745.8 L1101.9,746.8 L1101.9,747.8 L1101.9,748.8 L1101.9,749.8 L1101.9,750.8 L1101.9,751.8 L1101.9,752.8 L1101.9,753.8 L1101.9,754.8 L1101.9,755.8 L1101.9,756.8 L1101.9,757.8 L1101.9,758.8 L1101.9,759.8 L1101.9,760.8 L1101.9,761.8 L1101.9,762.8 L1101.9,763.8 L1101.9,764.8 L1101.9,765.8 L1101.9,766.8 L1101.9,767.9 L1101.9,768.9 L1101.9,769.9 L1101.9,770.9 L1101.9,771.9 L1101.9,772.9 L1101.9,773.9 L1101.9,774.9 L1101.9,775.9 L1101.9,776.9 L1101.9,777.9 L1101.9,778.9 L1101.9,779.9 L1101.9,780.9 L1101.9,781.9 L1101.9,782.9 L1101.9,783.9 L1101.9,784.9 L1101.9,785.9 L1101.9,786.9 L1101.9,787.9 L1101.9,788.9 L1101.9,789.9 L1101.9,790.9 L1101.9,791.9 L1101.9,792.9 L1101.9,793.9 L1101.9,794.9 L1101.9,795.9 L1101.9,796.9 L1101.9,797.9 L1101.9,798.9 L1101.9,799.9 L1101.9,800.9 L1101.9,801.9 L1101.9,802.9 L1101.9,803.9 L1101.9,804.9 L1101.9,805.9 L1101.9,806.9 L1101.9,807.9 L1101.9,808.9 L1101.9,809.9 L1101.9,810.9 L1101.9,811.9 L1101.9,812.9 L1101.9,813.9 L1101.9,814.9 L1101.9,815.9 L1101.9,816.9 L1101.9,817.9 L1101.9,818.9 L1101.9,819.9 L1101.9,820.9 L1101.9,821.9 L1101.9,822.9 L1101.9,823.9 L1101.9,824.9 L1101.9,825.9 L1101.9,826.9 L1101.9,827.9 L1101.9,828.9 L1101.9,829.9 L1101.9,830.9 L1101.9,831.9 L1101.9,832.9 L1101.9,833.9 L1101.9,834.9 L1101.9,835.9 L1101.9,836.9 L1101.9,837.9 L1101.9,839.0 L1101.9,840.0 L1101.9,841.0 L1101.9,842.0 L1101.9,843.0 L1101.9,844.0 L1101.9,845.0 L1101.9,846.0 L1101.9,847.0 L1101.9,848.0 L1101.9,849.0 L1101.9,850.0 L1101.9,851.0 L1101.9,852.0 L1101.9,853.0 L1101.9,854.0 L1101.9,855.0 L1101.9,856.0 L1101.9,857.0 L1101.9,858.0 L1101.9,859.0 L1101.9,860.0 L1101.9,861.0 L1101.9,862.0 L1101.9,863.0 L1101.9,864.0 L1101.9,865.0 L1101.9,866.0 L1101.9,867.0 L1101.9,868.0 L1101.9,869.0 L1101.9,870.0 L1101.9,871.0 L1101.9,872.0 L1101.9,873.0 L1101.9,874.0 L1101.9,875.0 L1101.9,876.0 L1101.9,877.0 L1101.9,878.0 L1101.9,879.0 L1101.9,880.0 L1101.9,881.0 L1101.9,882.0 L1102.0,883.0 L1102.0,884.0 L1102.0,885.0 L1102.0,886.0 L1102.0,887.0 L1102.0,888.0 L1102.0,889.0 L1102.0,890.0 L1102.0,891.0 L1102.0,892.0 L1102.0,893.0 L1102.0,894.0 L1102.0,895.0 L1102.0,896.0 L1102.0,897.0 L1102.0,898.0 L1102.0,899.0 L1102.0,900.0 L1102.0,901.0 L1102.0,902.0 L1102.0,903.0 L1102.0,904.0 L1102.0,905.0 L1102.0,906.0 L1102.0,907.0 L1102.0,908.0 L1102.0,909.0 L1102.0,910.1 L1102.0,911.1 L1102.0,912.1 L1102.0,913.1 L1102.0,914.1 L1102.0,915.1 L1102.0,916.1 L1102.0,917.1 L1102.0,918.1 L1102.0,919.1 L1102.0,920.1 L1102.0,921.1 L1102.0,922.1 L1102.0,923.1 L1102.0,924.1 L1102.0,925.1 L1102.0,926.1 L1102.0,927.1 L1102.0,928.1 L1102.0,929.1 L1102.0,930.1 L1102.0,931.1 L1102.0,932.1 L1102.0,933.1 L1102.0,934.1 L1102.0,935.1 L1102.0,936.1 L1102.0,937.1 L1102.0,938.1 L1102.0,939.1 L1102.0,940.1 L1102.0,941.1 L1102.0,942.1 L1102.0,943.1 L1102.0,944.1 L1102.0,945.1 L1102.0,946.1 L1102.0,947.1 L1102.0,948.1 L1102.0,949.1 L1102.0,950.1 L1102.0,951.1 L1102.0,952.1 L1102.0,953.1 L1102.0,954.1 L1102.0,955.1 L1102.0,956.1 L1102.0,957.1 L1102.0,958.1 L1102.0,959.1 L1102.0,960.1 L1102.0,961.1 L1102.0,962.1 L1102.0,963.1 L1102.0,964.1 L1102.0,965.1 L1102.0,966.1 L1102.0,967.1 L1102.0,968.1 L1102.0,969.1 L1102.0,970.1 L1102.0,971.1 L1102.0,972.1 L1102.0,973.1 L1102.0,974.1 L1102.0,975.1 L1102.0,976.1 L1102.0,977.1 L1102.0,978.1 L1102.0,979.1 L1102.0,980.1 L1102.0,981.2 L1102.0,982.2 L1102.0,983.2 L1102.0,984.2 L1102.0,985.2 L1102.0,986.2 L1102.0,987.2 L1102.0,988.2 L1102.0,989.2 L1102.0,990.2 L1102.0,991.2 L1102.0,992.2 L1102.0,993.2 L1102.0,994.2 L1102.0,995.2 L1102.0,996.2 L1102.0,997.2 L1102.0,998.2 L1102.0,999.2 L1102.0,1000.2 L1102.0,1001.2 L1102.0,1002.2 L1102.0,1003.2 L1102.0,1004.2 L1102.0,1005.2 L1102.0,1006.2 L1102.0,1007.2 L1102.0,1008.2 L1102.0,1009.2 L1102.0,1010.2 L1102.0,1011.2 L1102.0,1012.2 L1102.0,1013.2 L1102.0,1014.2 L1102.0,1015.2 L1102.0,1016.2 L1102.0,1017.2 L1102.0,1018.2 L1102.0,1019.2 L1102.0,1020.2 L1102.0,1021.2 L1102.0,1022.2 L1102.0,1023.2 L1102.0,1024.2 L1102.0,1025.2 L1102.0,1026.2 L1102.0,1027.2 L1102.0,1028.2 L1102.0,1029.2 L1102.0,1030.2 L1102.0,1031.2 L1102.0,1032.2 L1102.0,1033.2 L1102.0,1034.2 L1102.0,1035.2 L1102.0,1036.2 L1102.0,1037.2 L1102.0,1038.2 L1102.0,1039.2 L1102.0,1040.2 L1102.0,1041.2 L1102.0,1042.2 L1102.0,1043.2 L1102.0,1044.2 L1102.0,1045.2 L1102.0,1046.2 L1102.0,1047.2 L1102.0,1048.2 L1102.0,1049.2 L1102.0,1050.2 L1102.0,1051.2 L1102.0,1052.3 L1102.0,1053.3 L1102.0,1054.3 L1102.0,1055.3 L1102.0,1056.3 L1102.0,1057.3 L1102.0,1058.3 L1102.0,1059.3 L1102.0,1060.3 L1102.0,1061.3 L1102.0,1062.3 L1102.0,1063.3 L1102.0,1064.3 L1102.0,1065.3 L1102.0,1066.3 L1102.0,1067.3 L1102.0,1068.3 L1102.0,1069.3 L1102.0,1070.3 L1102.0,1071.3 L1102.0,1072.3 L1102.0,1073.3 L1102.0,1074.3 L1102.0,1075.3 L1102.0,1076.3 L1102.0,1077.3 L1102.0,1078.3 L1102.0,1079.3 L1102.0,1080.3 L1102.0,1081.3 L1102.0,1082.3 L1102.0,1083.0 L1102.0,1083.3 L1102.0,1084.3 L1102.0,1085.3 L1102.0,1086.3 L1102.0,1087.3 L1102.0,1088.3 L1102.0,1089.3 L1102.0,1090.3 L1102.0,1091.3 L1102.0,1092.3 L1102.0,1093.3 L1102.0,1094.3 L1102.0,1095.3 L1102.0,1096.3 L1102.0,1097.3 L1102.0,1098.3 L1102.0,1099.3 L1102.0,1100.3 L1102.0,1101.3 L1102.0,1102.3 L1102.0,1103.3 L1102.0,1104.3 L1102.0,1105.3 L1102.0,1106.3 L1102.0,1107.3 L1102.0,1108.3 L1102.0,1109.3 L1102.0,1110.3 L1102.0,1111.3 L1102.0,1112.3 L1102.0,1113.3 L1102.1,1114.3 L1102.1,1115.3 L1102.1,1116.3 L1102.1,1117.3 L1102.1,1118.3 L1102.1,1119.3 L1102.1,1120.3 L1102.1,1121.3 L1102.1,1122.3 L1102.1,1123.4 L1102.1,1124.4 L1102.1,1125.4 L1102.1,1126.4 L1102.1,1127.4 L1102.1,1128.4 L1102.1,1129.4 L1102.1,1130.4 L1102.1,1131.4 L1102.1,1132.4 L1102.1,1133.4 L1102.1,1134.4 L1102.1,1135.4 L1102.1,1136.4 L1102.1,1137.4 L1102.1,1138.4 L1102.1,1139.4 L1102.1,1140.4 L1102.1,1141.4 L1102.1,1142.4 L1102.1,1143.4 L1102.1,1144.4 L1102.2,1145.4 L1102.2,1146.4 L1102.2,1147.4 L1102.2,1148.4 L1102.2,1149.4 L1102.2,1150.4 L1102.2,1151.4 L1102.2,1152.4 L1102.2,1153.4 L1102.2,1154.4 L1102.2,1155.4 L1102.2,1156.4 L1102.2,1157.4 L1102.2,1158.4 L1102.2,1159.4 L1102.2,1160.4 L1102.2,1161.4 L1102.2,1162.4 L1102.2,1163.4 L1102.2,1164.4 L1102.2,1165.4 L1102.2,1166.4 L1102.2,1167.4 L1102.2,1168.4 L1102.3,1169.4 L1102.3,1170.4 L1102.3,1171.4 L1102.3,1172.4 L1102.3,1173.4 L1102.3,1174.4 L1102.3,1175.4 L1102.3,1176.4 L1102.3,1177.4 L1102.3,1178.4 L1102.3,1179.4 L1102.3,1180.0 L1102.3,1180.4 L1102.3,1181.4 L1102.3,1182.4 L1102.3,1183.4 L1102.3,1184.4 L1102.3,1185.4 L1102.3,1186.4 L1102.3,1187.4 L1102.3,1188.4 L1102.3,1189.4 L1102.3,1190.4 L1102.4,1191.4 L1102.4,1192.4 L1102.4,1193.4 L1102.4,1194.4 L1102.4,1195.5 L1102.4,1196.5 L1102.4,1197.5 L1102.4,1198.5 L1102.4,1199.5 L1102.4,1200.5 L1102.4,1201.5 L1102.4,1202.5 L1102.4,1203.5 L1102.4,1204.5 L1102.4,1205.5 L1102.4,1206.5 L1102.4,1207.5 L1102.4,1208.5 L1102.4,1209.5 L1102.5,1210.5 L1102.5,1211.5 L1102.5,1212.5 L1102.5,1213.5 L1102.5,1214.5 L1102.5,1215.5 L1102.5,1216.5 L1102.5,1217.5 L1102.5,1218.5 L1102.5,1219.5 L1102.5,1220.5 L1102.5,1221.5 L1102.5,1222.5 L1102.5,1223.5 L1102.5,1224.5 L1102.6,1225.5 L1102.6,1226.5 L1102.6,1227.5 L1102.6,1228.5 L1102.6,1229.5 L1102.6,1230.5 L1102.6,1231.5 L1102.6,1232.5 L1102.6,1233.5 L1102.6,1234.5 L1102.6,1235.5 L1102.6,1236.5 L1102.6,1237.5 L1102.7,1238.5 L1102.7,1239.5 L1102.7,1240.5 L1102.7,1241.5 L1102.7,1242.5 L1102.7,1243.5 L1102.7,1244.5 L1102.7,1245.5 L1102.7,1246.5 L1102.7,1247.5 L1102.7,1248.5 L1102.8,1249.5 L1102.8,1250.5 L1102.8,1251.5 L1102.8,1252.5 L1102.8,1253.5 L1102.8,1254.5 L1102.8,1255.5 L1102.8,1256.5 L1102.8,1257.5 L1102.9,1258.5 L1102.9,1259.5 L1102.9,1260.5 L1102.9,1261.5 L1102.9,1262.5 L1102.9,1263.5 L1102.9,1264.5 L1102.9,1265.5 L1103.0,1266.5 L1103.0,1267.6 L1103.0,1268.6 L1103.0,1269.6 L1103.0,1270.4 L1103.0,1270.6 L1103.0,1271.6 L1103.0,1272.6 L1103.0,1273.6 L1103.1,1274.6 L1103.1,1275.6 L1103.1,1276.6 L1103.1,1277.6 L1103.1,1278.6 L1103.2,1279.6 L1103.2,1280.6 L1103.2,1281.6 L1103.2,1282.6 L1103.3,1283.6 L1103.3,1284.6 L1103.3,1285.6 L1103.3,1286.6 L1103.4,1287.6 L1103.4,1288.6 L1103.4,1289.6 L1103.5,1290.6 L1103.5,1291.6 L1103.5,1292.6 L1103.6,1293.6 L1103.6,1294.6 L1103.6,1295.6 L1103.7,1296.6 L1103.7,1297.6 L1103.7,1298.6 L1103.8,1299.6 L1103.8,1300.6 L1103.8,1301.6 L1103.9,1302.6 L1103.9,1303.6 L1103.9,1304.6 L1104.0,1305.6 L1104.0,1306.6 L1104.1,1307.6 L1104.1,1308.6 L1104.1,1309.6 L1104.2,1310.6 L1104.2,1311.6 L1104.3,1312.6 L1104.3,1313.6 L1104.4,1314.6 L1104.4,1315.6 L1104.4,1316.6 L1104.5,1317.6 L1104.5,1318.6 L1104.6,1319.6 L1104.6,1320.6 L1104.7,1321.6 L1104.7,1322.6 L1104.8,1323.6 L1104.8,1324.6 L1104.8,1324.7 L1104.8,1325.6 L1104.9,1326.6 L1104.9,1327.6 L1105.0,1328.6 L1105.0,1329.6 L1105.1,1330.6 L1105.1,1331.6 L1105.2,1332.6 L1105.2,1333.6 L1105.3,1334.6 L1105.3,1335.6 L1105.4,1336.6 L1105.4,1337.6 L1105.5,1338.6 L1105.5,1339.6 L1105.6,1340.6 L1105.6,1341.6 L1105.7,1342.6 L1105.7,1343.6 L1105.8,1344.6 L1105.9,1345.6 L1105.9,1346.6 L1106.0,1347.6 L1106.1,1348.6 L1106.1,1349.6 L1106.2,1350.6 L1106.3,1351.6 L1106.3,1352.6 L1106.4,1353.6 L1106.5,1354.6 L1106.6,1355.6 L1106.6,1356.6 L1106.7,1357.6 L1106.8,1358.6 L1106.9,1359.6 L1107.0,1360.6 L1107.1,1361.6 L1107.2,1362.6 L1107.2,1363.6 L1107.3,1364.6 L1107.4,1365.6 L1107.5,1366.6 L1107.6,1367.6 L1107.7,1368.1 L1107.8,1368.6 L1107.9,1369.5 L1108.0,1370.5 L1108.1,1371.5 L1108.3,1372.5 L1108.4,1373.5 L1108.6,1374.5 L1108.8,1375.5 L1109.0,1376.5 L1109.2,1377.4 L1109.4,1378.4 L1109.6,1379.4 L1109.8,1380.4 L1110.0,1381.4 L1110.3,1382.4 L1110.5,1383.3 L1110.7,1384.3 L1111.0,1385.3 L1111.2,1386.3 L1111.5,1387.2 L1111.7,1388.2 L1112.0,1389.2 L1112.2,1390.1 L1112.5,1391.1 L1112.6,1391.6 L1112.7,1392.1 L1113.0,1393.0 L1113.3,1394.0 L1113.5,1395.0 L1113.8,1396.0 L1114.1,1396.9 L1114.4,1397.9 L1114.7,1398.9 L1115.0,1399.8 L1115.3,1400.8 L1115.6,1401.8 L1116.0,1402.7 L1116.3,1403.7 L1116.7,1404.6 L1117.0,1405.5 L1117.4,1406.4 L1117.8,1407.4 L1118.2,1408.3 L1118.6,1409.1 L1118.9,1409.7 L1119.1,1410.0 L1119.5,1410.9 L1120.0,1411.7 L1120.5,1412.6 L1121.0,1413.4 L1121.6,1414.3 L1122.2,1414.9 L1122.8,1415.7 L1123.4,1416.5 L1124.0,1417.8 L1124.6,1418.6 L1125.3,1418.6 L1125.9,1420.4 L1126.6,1420.6 L1127.3,1421.7 L1127.9,1421.8 L1128.6,1422.7 L1128.9,1422.7 L1129.3,1423.5 L1130.0,1424.3 L1130.7,1424.7 L1131.4,1425.3 L1132.1,1426.3 L1132.9,1426.6 L1133.6,1427.4 L1134.4,1428.1 L1135.2,1429.2 L1135.9,1429.8 L1136.7,1430.4 L1137.5,1431.5 L1138.3,1432.0 L1139.1,1432.7 L1140.0,1432.7 L1140.6,1433.1 L1140.8,1433.5 L1141.6,1433.4 L1142.4,1434.2 L1143.3,1435.1 L1144.1,1435.4 L1145.0,1436.1 L1145.9,1436.3 L1146.8,1436.7 L1147.7,1437.7 L1148.6,1437.9 L1149.5,1438.1 L1150.4,1438.6 L1151.3,1439.0 L1152.2,1439.5 L1153.1,1440.1 L1154.0,1440.8 L1154.9,1440.6 L1155.1,1440.9 L1155.8,1440.9 L1156.8,1441.9 L1157.7,1442.5 L1158.6,1442.7 L1159.5,1442.8 L1160.5,1442.9 L1161.4,1443.0 L1162.3,1443.7 L1163.3,1444.4 L1164.2,1444.3 L1165.2,1445.2 L1166.1,1445.3 L1167.1,1445.4 L1168.0,1446.2 L1169.0,1446.6 L1169.9,1446.6 L1170.9,1446.8 L1171.9,1447.3 L1172.8,1447.2 L1173.8,1447.5 L1174.7,1447.8 L1175.7,1447.9 L1176.7,1448.1 L1176.8,1448.3 L1177.6,1448.7 L1178.6,1449.1 L1179.6,1448.7 L1180.5,1449.2 L1181.5,1449.9 L1182.5,1449.4 L1183.4,1450.3 L1184.4,1450.7 L1185.4,1450.8 L1186.4,1450.5 L1187.3,1450.8 L1188.3,1450.5 L1189.3,1451.3 L1190.3,1451.0 L1191.3,1451.6 L1192.3,1451.7 L1193.2,1452.3 L1194.2,1452.2 L1195.2,1452.9 L1196.2,1453.2 L1197.2,1453.2 L1198.2,1453.7 L1199.1,1453.5 L1200.1,1453.6 L1201.1,1453.8 L1202.1,1454.4 L1202.1,1454.0 L1203.1,1454.2 L1204.1,1454.2 L1205.1,1454.4 L1206.0,1454.5 L1207.0,1454.9 L1208.0,1455.0 L1209.0,1455.0 L1210.0,1455.1 L1211.0,1455.4 L1212.0,1455.0 L1212.9,1455.8 L1213.9,1455.7 L1214.9,1456.1 L1215.9,1456.5 L1216.9,1456.7 L1217.9,1456.5 L1218.9,1456.7 L1219.9,1457.1 L1220.9,1457.1 L1221.9,1457.5 L1222.9,1457.4 L1223.8,1457.7 L1224.8,1458.3 L1225.8,1458.4 L1226.8,1458.1 L1227.8,1458.0 L1228.8,1457.8 L1229.8,1458.7 L1230.8,1458.3 L1231.8,1458.7 L1232.8,1459.1 L1233.8,1459.5 L1234.7,1459.1 L1234.8,1459.1 L1235.8,1459.2 L1236.7,1459.5 L1237.7,1459.7 L1238.7,1459.6 L1239.7,1459.3 L1240.7,1459.1 L1241.7,1459.9 L1242.7,1460.0 L1243.7,1460.6 L1244.7,1460.2 L1245.7,1460.4 L1246.7,1460.1 L1247.7,1460.1 L1248.7,1460.6 L1249.7,1460.4 L1250.7,1460.5 L1251.7,1460.7 L1252.7,1460.5 L1253.7,1460.9 L1254.7,1461.1 L1255.7,1461.8 L1256.7,1461.7 L1257.7,1461.7 L1258.7,1461.8 L1259.7,1461.5 L1260.7,1461.6 L1261.7,1461.2 L1262.7,1461.5 L1263.7,1461.8 L1264.7,1461.7 L1265.7,1462.3 L1266.7,1462.0 L1267.7,1462.4 L1268.6,1462.2 L1269.6,1462.2 L1270.6,1462.4 L1270.8,1462.8 L1271.6,1462.3 L1272.6,1462.5 L1273.6,1462.4 L1274.6,1463.2 L1275.6,1463.1 L1276.6,1463.3 L1277.6,1463.7 L1278.6,1463.1 L1279.6,1462.5 L1280.6,1462.7 L1281.6,1462.7 L1282.6,1463.5 L1283.6,1463.2 L1284.6,1463.7 L1285.6,1463.7 L1286.6,1463.9 L1287.6,1463.9 L1288.6,1464.1 L1289.6,1464.1 L1290.6,1464.0 L1291.6,1464.3 L1292.6,1464.3 L1293.6,1464.2 L1294.6,1464.5 L1295.6,1464.6 L1296.6,1464.9 L1297.6,1464.8 L1298.6,1465.4 L1299.6,1464.9 L1300.6,1464.8 L1301.6,1465.3 L1302.6,1465.1 L1303.6,1465.2 L1304.6,1465.2 L1305.6,1465.2 L1306.6,1465.1 L1307.6,1465.5 L1308.6,1465.8 L1309.6,1465.8 L1310.6,1465.9 L1311.6,1466.2 L1312.6,1465.7 L1313.6,1465.7 L1314.6,1465.6 L1315.6,1465.7 L1316.6,1466.0 L1317.6,1465.8 L1318.6,1466.0 L1319.6,1466.0 L1320.6,1466.0 L1321.6,1466.3 L1322.6,1466.4 L1323.6,1466.1 L1324.6,1466.1 L1325.1,1465.9 L1325.6,1465.5 L1326.6,1466.5 L1327.6,1466.7 L1328.6,1466.8 L1329.6,1467.0 L1330.6,1466.9 L1331.6,1467.1 L1332.6,1466.6 L1333.6,1466.7 L1334.6,1466.9 L1335.6,1467.0 L1336.6,1466.9 L1337.6,1466.8 L1338.6,1466.6 L1339.6,1467.3 L1340.6,1467.0 L1341.6,1467.0 L1342.6,1467.1 L1343.6,1466.9 L1344.6,1467.5 L1345.6,1467.2 L1346.6,1467.4 L1347.6,1467.0 L1348.6,1467.0 L1349.6,1467.3 L1350.6,1466.9 L1351.6,1467.2 L1352.6,1467.8 L1353.6,1467.7 L1354.6,1467.5 L1355.6,1467.3 L1356.6,1467.2 L1357.6,1467.2 L1358.6,1467.7 L1359.6,1467.1 L1360.6,1467.3 L1361.6,1467.0 L1362.6,1467.3 L1363.6,1467.6 L1364.6,1467.6 L1365.6,1467.6 L1366.6,1467.4 L1367.6,1467.5 L1368.6,1467.5 L1369.6,1467.7 L1370.6,1468.1 L1371.6,1468.1 L1372.6,1468.0 L1373.6,1467.9 L1374.6,1467.9 L1375.6,1468.3 L1376.6,1468.0 L1377.6,1467.7 L1378.6,1468.3 L1379.3,1468.0 L1379.6,1468.2 L1380.6,1467.6 L1381.6,1467.7 L1382.6,1467.9 L1383.6,1467.4 L1384.6,1467.9 L1385.6,1467.9 L1386.6,1468.5 L1387.6,1468.5 L1388.6,1468.4 L1389.6,1468.5 L1390.6,1468.9 L1391.6,1468.7 L1392.7,1468.4 L1393.7,1468.7 L1394.7,1468.3 L1395.7,1468.2 L1396.7,1468.4 L1397.7,1468.9 L1398.7,1469.0 L1399.7,1468.7 L1400.7,1468.4 L1401.7,1468.5 L1402.7,1468.9 L1403.7,1468.9 L1404.7,1468.8 L1405.7,1469.0 L1406.7,1468.8 L1407.7,1469.4 L1408.7,1469.6 L1409.7,1469.6 L1410.7,1469.7 L1411.7,1469.4 L1412.7,1469.0 L1413.7,1468.9 L1414.7,1469.3 L1415.7,1469.1 L1416.7,1468.7 L1417.7,1468.7 L1418.7,1469.5 L1419.7,1470.0 L1420.7,1469.5 L1421.7,1469.6 L1422.7,1469.4 L1423.7,1469.1 L1424.7,1469.8 L1425.7,1470.3 L1426.7,1470.7 L1427.7,1469.9 L1428.7,1470.5 L1429.7,1470.1 L1430.7,1470.1 L1431.7,1469.5 L1432.7,1469.6 L1433.6,1469.5 L1433.7,1469.8 L1434.7,1470.2 L1435.7,1469.6 L1436.7,1469.9 L1437.7,1469.7 L1438.7,1470.1 L1439.7,1470.3 L1440.7,1469.7 L1441.7,1470.5 L1442.7,1470.6 L1443.7,1470.3 L1444.7,1470.1 L1445.7,1469.9 L1446.7,1469.7 L1447.7,1469.9 L1448.7,1470.5 L1449.7,1470.5 L1450.7,1470.9 L1451.7,1470.8 L1452.7,1470.8 L1453.7,1470.6 L1454.7,1470.7 L1455.7,1471.0 L1456.7,1471.1 L1457.7,1471.0 L1458.7,1470.8 L1459.7,1470.8 L1460.7,1471.2 L1461.7,1471.1 L1462.7,1470.7 L1463.7,1471.3 L1464.7,1471.4 L1465.7,1471.5 L1466.7,1471.3 L1467.7,1471.7 L1468.7,1471.2 L1469.7,1470.9 L1470.7,1471.1 L1471.7,1471.6 L1472.7,1471.9 L1473.7,1471.8 L1474.7,1471.8 L1475.7,1471.8 L1476.7,1471.5 L1477.7,1471.5 L1478.7,1471.9 L1479.7,1471.1 L1480.7,1471.8 L1481.7,1472.2 L1482.7,1471.7 L1483.7,1471.7 L1484.7,1472.3 L1485.7,1472.0 L1486.7,1472.0 L1487.7,1471.8 L1488.7,1471.9 L1489.7,1471.9 L1490.7,1472.0 L1491.7,1472.1 L1492.7,1472.6 L1493.7,1472.6 L1494.7,1472.1 L1495.7,1472.1 L1496.7,1472.2 L1497.7,1471.9 L1498.7,1471.7 L1499.7,1472.5 L1500.7,1472.6 L1501.7,1472.5 L1502.7,1472.3 L1503.0,1472.4 L1503.7,1472.4 L1504.7,1471.9 L1505.7,1472.2 L1506.7,1472.2 L1507.7,1472.3 L1508.7,1472.0 L1509.7,1472.1 L1510.7,1472.4 L1511.7,1472.4 L1512.7,1472.4 L1513.7,1472.1 L1514.7,1472.6 L1515.7,1472.6 L1516.8,1473.0 L1517.8,1472.6 L1518.8,1473.0 L1519.8,1472.5 L1520.8,1472.5 L1521.8,1472.6 L1522.8,1472.0 L1523.8,1472.1 L1524.8,1472.8 L1525.8,1472.3 L1526.8,1472.7 L1527.8,1472.9 L1528.8,1472.9 L1529.8,1472.4 L1530.8,1472.4 L1531.8,1472.4 L1532.8,1472.7 L1533.8,1473.1 L1534.8,1473.0 L1535.8,1472.7 L1536.8,1473.0 L1537.8,1472.8 L1538.8,1473.0 L1539.8,1473.1 L1540.8,1473.0 L1541.8,1473.4 L1542.8,1472.8 L1543.8,1473.3 L1544.8,1473.4 L1545.8,1473.3 L1546.8,1473.4 L1547.8,1472.5 L1548.8,1472.9 L1549.8,1472.5 L1550.8,1472.6 L1551.8,1472.4 L1552.8,1472.6 L1553.0,1473.0 L1553.0,1472.0 L1553.0,1471.0 L1553.0,1470.0 L1553.0,1469.0 L1553.0,1468.0 L1553.0,1467.0 L1553.0,1466.0 L1553.0,1465.0 L1553.0,1464.0 L1553.0,1463.0 L1553.0,1462.0 L1553.0,1461.0 L1553.0,1460.0 L1553.0,1459.0 L1553.0,1458.0 L1553.0,1457.0 L1553.0,1456.0 L1553.0,1455.0 L1553.0,1454.0 L1553.0,1453.0 L1553.0,1452.0 L1553.0,1451.0 L1553.0,1450.0 L1553.0,1449.0 L1553.0,1448.0 L1553.0,1447.0 L1553.0,1446.0 L1553.0,1445.0 L1553.0,1444.0 L1553.0,1443.0 L1553.0,1442.0 L1553.0,1441.0 L1553.0,1440.0 L1553.0,1439.0 L1553.0,1438.0 L1553.0,1437.0 L1553.0,1436.0 L1553.0,1435.0 L1553.0,1434.0 L1553.0,1433.0 L1553.0,1432.0 L1553.0,1431.0 L1553.0,1430.0 L1553.0,1429.0 L1553.0,1428.0 L1553.0,1427.0 L1553.0,1426.0 L1553.0,1425.0 L1553.0,1424.0 L1553.0,1423.0 L1553.0,1422.0 L1553.0,1421.0 L1553.0,1420.0 L1553.0,1419.0 L1553.0,1418.0 L1553.0,1417.0 L1553.0,1416.0 L1553.0,1415.0 L1553.0,1413.9 L1553.0,1412.9 L1553.0,1411.9 L1553.0,1410.9 L1553.0,1409.9 L1553.0,1408.9 L1553.0,1407.9 L1553.0,1406.9 L1553.0,1405.9 L1553.0,1404.9 L1553.0,1403.9 L1553.0,1402.9 L1553.0,1401.9 L1553.0,1400.9 L1553.0,1399.9 L1553.0,1398.9 L1553.0,1397.9 L1553.0,1396.9 L1553.0,1395.9 L1553.0,1394.9 L1553.0,1393.9 L1553.0,1392.9 L1553.0,1391.9 L1553.0,1390.9 L1553.0,1389.9 L1553.0,1388.9 L1553.0,1387.9 L1553.0,1386.9 L1553.0,1385.9 L1553.0,1384.9 L1553.0,1383.9 L1553.0,1382.9 L1553.0,1381.9 L1553.0,1380.9 L1553.0,1379.9 L1553.0,1378.9 L1553.0,1377.9 L1553.0,1376.9 L1553.0,1375.9 L1553.0,1374.9 L1553.0,1373.9 L1553.0,1372.9 L1553.0,1371.9 L1553.0,1370.9 L1553.0,1369.9 L1553.0,1368.9 L1553.0,1367.9 L1553.0,1366.9 L1553.0,1365.9 L1553.0,1364.9 L1553.0,1363.9 L1553.0,1362.9 L1553.0,1361.9 L1553.0,1360.9 L1553.0,1359.9 L1553.0,1358.9 L1553.0,1357.9 L1553.0,1356.9 L1553.0,1355.9 L1553.0,1354.9 L1553.0,1353.9 L1553.0,1352.9 L1553.0,1351.9 L1553.0,1350.9 L1553.0,1349.9 L1553.0,1348.9 L1553.0,1347.9 L1553.0,1346.9 L1553.0,1345.9 L1553.0,1344.9 L1553.0,1343.9 L1553.0,1342.9 L1553.0,1341.9 L1553.0,1340.9 L1553.0,1339.9 L1553.0,1338.9 L1553.0,1337.9 L1553.0,1336.9 L1553.0,1335.9 L1553.0,1334.9 L1553.0,1333.9 L1553.0,1332.9 L1553.0,1331.9 L1553.0,1330.9 L1553.0,1329.9 L1553.0,1328.9 L1553.0,1327.9 L1553.0,1326.9 L1553.0,1325.9 L1553.0,1324.9 L1553.0,1323.9 L1553.0,1322.9 L1553.0,1321.9 L1553.0,1320.9 L1553.0,1319.9 L1553.0,1318.9 L1553.0,1317.9 L1553.0,1316.9 L1553.0,1315.9 L1553.0,1314.9 L1553.0,1313.9 L1553.0,1312.9 L1553.0,1311.9 L1553.0,1310.9 L1553.0,1309.9 L1553.0,1308.9 L1553.0,1307.9 L1553.0,1306.9 L1553.0,1305.9 L1553.0,1304.9 L1553.0,1303.9 L1553.0,1302.9 L1553.0,1301.9 L1553.0,1300.9 L1553.0,1299.9 L1553.0,1298.9 L1553.0,1297.9 L1553.0,1296.9 L1553.0,1295.8 L1553.0,1294.8 L1553.0,1293.8 L1553.0,1292.8 L1553.0,1291.8 L1553.0,1290.8 L1553.0,1289.8 L1553.0,1288.8 L1553.0,1287.8 L1553.0,1286.8 L1553.0,1285.8 L1553.0,1284.8 L1553.0,1283.8 L1553.0,1282.8 L1553.0,1281.8 L1553.0,1280.8 L1553.0,1279.8 L1553.0,1278.8 L1553.0,1277.8 L1553.0,1276.8 L1553.0,1275.8 L1553.0,1274.8 L1553.0,1273.8 L1553.0,1272.8 L1553.0,1271.8 L1553.0,1270.8 L1553.0,1269.8 L1553.0,1268.8 L1553.0,1267.8 L1553.0,1266.8 L1553.0,1265.8 L1553.0,1264.8 L1553.0,1263.8 L1553.0,1262.8 L1553.0,1261.8 L1553.0,1260.8 L1553.0,1259.8 L1553.0,1258.8 L1553.0,1257.8 L1553.0,1256.8 L1553.0,1255.8 L1553.0,1254.8 L1553.0,1253.8 L1553.0,1252.8 L1553.0,1251.8 L1553.0,1250.8 L1553.0,1249.8 L1553.0,1248.8 L1553.0,1247.8 L1553.0,1246.8 L1553.0,1245.8 L1553.0,1244.8 L1553.0,1243.8 L1553.0,1242.8 L1553.0,1241.8 L1553.0,1240.8 L1553.0,1239.8 L1553.0,1238.8 L1553.0,1237.8 L1553.0,1236.8 L1553.0,1235.8 L1553.0,1234.8 L1553.0,1233.8 L1553.0,1232.8 L1553.0,1231.8 L1553.0,1230.8 L1553.0,1229.8 L1553.0,1228.8 L1553.0,1227.8 L1553.0,1226.8 L1553.0,1225.8 L1553.0,1224.8 L1553.0,1223.8 L1553.0,1222.8 L1553.0,1221.8 L1553.0,1220.8 L1553.0,1219.8 L1553.0,1218.8 L1553.0,1217.8 L1553.0,1216.8 L1553.0,1215.8 L1553.0,1214.8 L1553.0,1213.8 L1553.0,1212.8 L1553.0,1211.8 L1553.0,1210.8 L1553.0,1209.8 L1553.0,1208.8 L1553.0,1207.8 L1553.0,1206.8 L1553.0,1205.8 L1553.0,1204.8 L1553.0,1203.8 L1553.0,1202.8 L1553.0,1201.8 L1553.0,1200.8 L1553.0,1199.8 L1553.0,1198.8 L1553.0,1197.8 L1553.0,1196.8 L1553.0,1195.8 L1553.0,1194.8 L1553.0,1193.8 L1553.0,1192.8 L1553.0,1191.8 L1553.0,1190.8 L1553.0,1189.8 L1553.0,1188.8 L1553.0,1187.8 L1553.0,1186.8 L1553.0,1185.8 L1553.0,1184.8 L1553.0,1183.8 L1553.0,1182.8 L1553.0,1181.8 L1553.0,1180.8 L1553.0,1179.8 L1553.0,1178.7 L1553.0,1177.7 L1553.0,1176.7 L1553.0,1175.7 L1553.0,1174.7 L1553.0,1173.7 L1553.0,1172.7 L1553.0,1171.7 L1553.0,1170.7 L1553.0,1169.7 L1553.0,1168.7 L1553.0,1167.7 L1553.0,1166.7 L1553.0,1165.7 L1553.0,1164.7 L1553.0,1163.7 L1553.0,1162.7 L1553.0,1161.7 L1553.0,1160.7 L1553.0,1159.7 L1553.0,1158.7 L1553.0,1157.7 L1553.0,1156.7 L1553.0,1155.7 L1553.0,1154.7 L1553.0,1153.7 L1553.0,1152.7 L1553.0,1151.7 L1553.0,1150.7 L1553.0,1149.7 L1553.0,1148.7 L1553.0,1147.7 L1553.0,1146.7 L1553.0,1145.7 L1553.0,1144.7 L1553.0,1143.7 L1553.0,1142.7 L1553.0,1141.7 L1553.0,1140.7 L1553.0,1139.7 L1553.0,1138.7 L1553.0,1137.7 L1553.0,1136.7 L1553.0,1135.7 L1553.0,1134.7 L1553.0,1133.7 L1553.0,1132.7 L1553.0,1131.7 L1553.0,1130.7 L1553.0,1129.7 L1553.0,1128.7 L1553.0,1127.7 L1553.0,1126.7 L1553.0,1125.7 L1553.0,1124.7 L1553.0,1123.7 L1553.0,1122.7 L1553.0,1121.7 L1553.0,1120.7 L1553.0,1119.7 L1553.0,1118.7 L1553.0,1117.7 L1553.0,1116.7 L1553.0,1115.7 L1553.0,1114.7 L1553.0,1113.7 L1553.0,1112.7 L1553.0,1111.7 L1553.0,1110.7 L1553.0,1109.7 L1553.0,1108.7 L1553.0,1107.7 L1553.0,1106.7 L1553.0,1105.7 L1553.0,1104.7 L1553.0,1103.7 L1553.0,1102.7 L1553.0,1101.7 L1553.0,1100.7 L1553.0,1100.0 L1553.0,1099.7 L1553.0,1098.7 L1553.0,1097.7 L1553.0,1096.7 L1553.0,1095.7 L1553.0,1094.7 L1553.0,1093.7 L1553.0,1092.7 L1553.0,1091.7 L1553.0,1090.7 L1553.0,1089.7 L1553.0,1088.7 L1553.0,1087.7 L1553.0,1086.7 L1553.0,1085.7 L1553.0,1084.7 L1553.0,1083.7 L1553.0,1082.7 L1553.0,1081.7 L1553.0,1080.7 L1553.0,1079.7 L1553.0,1078.7 L1553.0,1077.7 L1553.0,1076.7 L1553.0,1075.7 L1553.0,1074.7 L1553.0,1073.7 L1553.0,1072.7 L1553.0,1071.7 L1553.0,1070.7 L1553.0,1069.7 L1553.0,1068.7 L1553.0,1067.7 L1553.0,1066.7 L1553.0,1065.7 L1553.0,1064.7 L1553.0,1063.7 L1553.0,1062.7 L1553.0,1061.7 L1553.0,1060.6 L1553.0,1059.6 L1553.0,1058.6 L1553.0,1057.6 L1553.0,1056.6 L1553.0,1055.6 L1553.0,1054.6 L1553.0,1053.6 L1553.0,1052.6 L1553.0,1051.6 L1553.0,1050.6 L1553.0,1049.6 L1553.0,1048.6 L1553.0,1047.6 L1553.0,1046.6 L1553.0,1045.6 L1553.0,1044.6 L1553.0,1043.6 L1553.0,1042.6 L1553.0,1041.6 L1553.0,1040.6 L1553.0,1039.6 L1553.0,1038.6 L1553.0,1037.6 L1553.0,1036.6 L1553.0,1035.6 L1553.0,1034.6 L1553.0,1033.6 L1553.0,1032.6 L1553.0,1031.6 L1553.0,1030.6 L1553.0,1029.6 L1553.0,1028.6 L1553.0,1027.6 L1553.1,1026.6 L1553.1,1025.6 L1553.1,1024.6 L1553.1,1023.6 L1553.1,1022.6 L1553.1,1021.6 L1553.1,1020.6 L1553.1,1019.6 L1553.1,1018.6 L1553.1,1017.6 L1553.1,1016.6 L1553.1,1015.6 L1553.1,1014.6 L1553.1,1013.6 L1553.1,1012.6 L1553.1,1011.6 L1553.1,1010.6 L1553.1,1009.6 L1553.1,1008.6 L1553.1,1007.6 L1553.1,1006.6 L1553.1,1005.6 L1553.1,1004.6 L1553.1,1003.6 L1553.1,1002.6 L1553.1,1001.6 L1553.1,1000.6 L1553.1,999.6 L1553.1,998.6 L1553.1,997.6 L1553.1,996.6 L1553.1,995.6 L1553.1,994.6 L1553.1,993.6 L1553.1,992.6 L1553.1,991.6 L1553.1,990.6 L1553.1,989.6 L1553.1,988.6 L1553.1,987.6 L1553.1,986.6 L1553.1,985.6 L1553.1,984.6 L1553.1,983.6 L1553.1,982.6 L1553.1,981.6 L1553.1,980.6 L1553.1,979.6 L1553.1,978.6 L1553.1,977.6 L1553.1,976.6 L1553.1,975.6 L1553.1,974.6 L1553.1,973.6 L1553.1,972.6 L1553.1,971.6 L1553.1,970.6 L1553.1,969.6 L1553.1,968.6 L1553.1,967.6 L1553.2,966.6 L1553.2,965.6 L1553.2,964.6 L1553.2,963.6 L1553.2,962.6 L1553.2,961.6 L1553.2,960.6 L1553.2,959.6 L1553.2,958.6 L1553.2,957.6 L1553.2,956.6 L1553.2,955.6 L1553.2,954.6 L1553.2,953.6 L1553.2,952.6 L1553.2,951.6 L1553.2,950.6 L1553.2,949.6 L1553.2,948.6 L1553.2,947.6 L1553.2,946.6 L1553.2,945.6 L1553.2,944.6 L1553.2,943.6 L1553.2,942.5 L1553.2,941.5 L1553.2,940.5 L1553.2,939.5 L1553.2,938.5 L1553.2,937.5 L1553.2,936.5 L1553.2,935.5 L1553.2,934.5 L1553.2,933.5 L1553.2,932.5 L1553.2,931.5 L1553.2,930.5 L1553.2,929.5 L1553.2,928.5 L1553.2,927.5 L1553.2,926.5 L1553.2,925.5 L1553.2,924.5 L1553.2,923.5 L1553.2,922.5 L1553.3,921.5 L1553.3,920.5 L1553.3,919.5 L1553.3,918.5 L1553.3,917.5 L1553.3,916.5 L1553.3,915.5 L1553.3,914.5 L1553.3,913.5 L1553.3,912.5 L1553.3,911.5 L1553.3,910.5 L1553.3,909.5 L1553.3,908.5 L1553.3,907.5 L1553.3,906.5 L1553.3,905.5 L1553.3,904.5 L1553.3,903.5 L1553.3,902.5 L1553.3,901.5 L1553.3,900.5 L1553.3,899.5 L1553.3,898.5 L1553.3,897.5 L1553.3,896.5 L1553.3,895.5 L1553.3,894.5 L1553.3,893.5 L1553.3,892.5 L1553.3,891.5 L1553.3,890.5 L1553.3,889.5 L1553.3,888.5 L1553.3,887.5 L1553.3,886.5 L1553.3,885.5 L1553.3,884.5 L1553.3,883.5 L1553.3,882.5 L1553.3,881.5 L1553.3,880.5 L1553.4,879.5 L1553.4,878.5 L1553.4,877.5 L1553.4,876.5 L1553.4,875.5 L1553.4,874.5 L1553.4,873.5 L1553.4,872.5 L1553.4,871.5 L1553.4,870.5 L1553.4,869.5 L1553.4,868.5 L1553.4,867.5 L1553.4,866.5 L1553.4,865.5 L1553.4,864.5 L1553.4,863.5 L1553.4,862.5 L1553.4,861.5 L1553.4,860.5 L1553.4,859.5 L1553.4,858.5 L1553.4,857.5 L1553.4,856.5 L1553.4,855.5 L1553.4,854.5 L1553.4,853.5 L1553.4,852.5 L1553.4,851.5 L1553.4,850.5 L1553.4,849.5 L1553.4,848.5 L1553.4,847.5 L1553.4,846.5 L1553.4,845.5 L1553.4,844.5 L1553.4,843.5 L1553.4,842.5 L1553.4,841.5 L1553.4,840.5 L1553.5,839.5 L1553.5,838.5 L1553.5,837.5 L1553.5,836.5 L1553.5,835.5 L1553.5,834.5 L1553.5,833.5 L1553.5,832.5 L1553.5,831.5 L1553.5,830.5 L1553.5,829.5 L1553.5,828.5 L1553.5,827.5 L1553.5,826.5 L1553.5,825.5 L1553.5,824.4 L1553.5,823.4 L1553.5,822.4 L1553.5,821.4 L1553.5,820.4 L1553.5,820.0 L1553.5,819.4 L1553.5,818.4 L1553.5,817.4 L1553.5,816.4 L1553.5,815.4 L1553.5,814.4 L1553.5,813.4 L1553.5,812.4 L1553.5,811.4 L1553.5,810.4 L1553.5,809.4 L1553.5,808.4 L1553.5,807.4 L1553.5,806.4 L1553.5,805.4 L1553.5,804.4 L1553.5,803.4 L1553.5,802.4 L1553.5,801.4 L1553.5,800.4 L1553.5,799.4 L1553.5,798.4 L1553.6,797.4 L1553.6,796.4 L1553.6,795.4 L1553.6,794.4 L1553.6,793.4 L1553.6,792.4 L1553.6,791.4 L1553.6,790.4 L1553.6,789.4 L1553.6,788.4 L1553.6,787.4 L1553.6,786.4 L1553.6,785.4 L1553.6,784.4 L1553.6,783.4 L1553.6,782.4 L1553.6,781.4 L1553.6,780.4 L1553.6,779.4 L1553.6,778.4 L1553.6,777.4 L1553.6,776.4 L1553.6,775.4 L1553.6,774.4 L1553.6,773.4 L1553.6,772.4 L1553.6,771.4 L1553.6,770.4 L1553.6,769.4 L1553.6,768.4 L1553.6,767.4 L1553.6,766.4 L1553.6,765.4 L1553.6,764.4 L1553.6,763.4 L1553.6,762.4 L1553.6,761.4 L1553.6,760.4 L1553.6,759.4 L1553.6,758.4 L1553.6,757.4 L1553.6,756.4 L1553.7,755.4 L1553.7,754.4 L1553.7,753.4 L1553.7,752.4 L1553.7,751.4 L1553.7,750.4 L1553.7,749.4 L1553.7,748.4 L1553.7,747.4 L1553.7,746.4 L1553.7,745.4 L1553.7,744.4 L1553.7,743.4 L1553.7,742.4 L1553.7,741.4 L1553.7,740.4 L1553.7,739.4 L1553.7,738.4 L1553.7,737.4 L1553.7,736.4 L1553.7,735.4 L1553.7,734.4 L1553.7,733.4 L1553.7,732.4 L1553.7,731.4 L1553.7,730.4 L1553.7,729.4 L1553.8,728.4 L1553.8,727.4 L1553.8,726.4 L1553.8,725.4 L1553.8,724.4 L1553.8,723.4 L1553.8,722.4 L1553.8,721.4 L1553.8,720.4 L1553.8,719.4 L1553.8,718.4 L1553.8,717.4 L1553.8,716.4 L1553.8,715.4 L1553.8,714.4 L1553.8,713.4 L1553.8,712.4 L1553.8,711.4 L1553.8,710.4 L1553.8,709.4 L1553.9,708.4 L1553.9,707.3 L1553.9,706.3 L1553.9,705.3 L1553.9,704.3 L1553.9,703.3 L1553.9,702.3 L1553.9,701.3 L1553.9,700.8 L1553.9,700.3 L1553.9,699.3 L1553.9,698.3 L1553.9,697.3 L1553.9,696.3 L1553.9,695.3 L1554.0,694.3 L1554.0,693.3 L1554.0,692.3 L1554.0,691.3 L1554.0,690.3 L1554.0,689.3 L1554.1,688.3 L1554.1,687.3 L1554.1,686.3 L1554.1,685.3 L1554.1,684.3 L1554.2,683.3 L1554.2,682.3 L1554.2,681.3 L1554.2,680.3 L1554.2,679.3 L1554.3,678.3 L1554.3,677.3 L1554.3,676.3 L1554.3,675.3 L1554.4,674.3 L1554.4,673.3 L1554.4,672.3 L1554.5,671.3 L1554.5,670.3 L1554.5,669.3 L1554.5,668.3 L1554.6,667.3 L1554.6,666.3 L1554.6,665.3 L1554.7,664.3 L1554.7,663.3 L1554.7,662.3 L1554.8,661.3 L1554.8,660.3 L1554.8,659.3 L1554.9,658.3 L1554.9,657.3 L1554.9,656.3 L1555.0,655.3 L1555.0,654.3 L1555.0,653.3 L1555.1,652.3 L1555.1,651.3 L1555.2,650.3 L1555.2,649.3 L1555.2,648.3 L1555.3,647.3 L1555.3,646.6 L1555.3,646.3 L1555.4,645.3 L1555.4,644.3 L1555.4,643.3 L1555.5,642.3 L1555.5,641.3 L1555.6,640.3 L1555.6,639.3 L1555.7,638.3 L1555.7,637.3 L1555.8,636.3 L1555.8,635.3 L1555.9,634.3 L1556.0,633.3 L1556.0,632.3 L1556.1,631.3 L1556.1,630.3 L1556.2,629.3 L1556.3,628.3 L1556.3,627.3 L1556.4,626.3 L1556.5,625.3 L1556.6,624.3 L1556.6,623.3 L1556.7,622.3 L1556.8,621.3 L1556.9,620.3 L1557.0,619.3 L1557.0,618.3 L1557.1,617.6 L1557.1,617.3 L1557.2,616.4 L1557.3,615.4 L1557.4,614.4 L1557.5,613.4 L1557.6,612.4 L1557.7,611.4 L1557.8,610.4 L1557.9,609.4 L1558.0,608.4 L1558.1,607.4 L1558.2,606.4 L1558.4,605.4 L1558.5,604.4 L1558.6,603.4 L1558.8,602.4 L1558.9,601.4 L1559.1,600.4 L1559.2,599.4 L1559.4,598.4 L1559.5,597.5 L1559.7,596.5 L1559.8,595.9 L1559.9,595.5 L1560.1,594.5 L1560.3,593.5 L1560.5,592.5 L1560.7,591.5 L1560.9,590.6 L1561.2,589.6 L1561.4,588.6 L1561.7,587.6 L1562.0,586.6 L1562.3,585.7 L1562.6,584.8 L1562.9,583.8 L1563.3,582.9 L1563.5,582.4 L1563.7,582.0 L1564.1,581.2 L1564.5,580.3 L1565.1,579.4 L1565.6,577.9 L1566.2,577.1 L1566.8,576.4 L1567.4,575.8 L1568.1,574.5 L1568.7,574.1 L1569.4,573.4 L1569.8,573.3 L1570.0,572.9 L1570.7,572.3 L1571.4,571.5 L1572.1,570.4 L1572.8,570.0 L1573.5,568.8 L1574.3,568.5 L1575.0,568.0 L1575.8,567.1 L1576.6,566.8 L1577.4,566.1 L1578.2,565.4 L1578.8,565.2 L1579.0,564.9 L1579.8,564.4 L1580.7,563.8 L1581.6,563.5 L1582.5,563.1 L1583.4,562.3 L1584.3,562.2 L1585.2,561.4 L1586.1,561.2 L1587.1,560.9 L1588.0,560.3 L1589.0,560.3 L1589.9,559.7 L1590.9,559.7 L1591.8,559.1 L1592.8,558.7 L1593.3,559.0 L1593.7,559.0 L1594.7,558.4 L1595.6,558.2 L1596.6,557.8 L1597.6,557.6 L1598.5,557.6 L1599.5,557.2 L1600.5,556.7 L1601.5,556.8 L1602.5,556.6 L1603.4,556.2 L1604.4,556.2 L1605.4,555.2 L1606.4,555.7 L1607.4,555.7 L1608.4,555.3 L1609.4,555.0 L1610.4,555.4 L1611.3,555.6 L1611.4,555.0 L1612.3,554.4 L1613.3,554.4 L1614.3,554.3 L1615.3,554.4 L1616.3,554.6 L1617.3,554.4 L1618.3,553.9 L1619.3,554.0 L1620.3,554.2 L1621.3,554.4 L1622.3,553.9 L1623.3,553.5 L1624.3,553.3 L1625.3,553.3 L1626.3,552.8 L1627.3,553.4 L1628.3,553.2 L1629.3,553.1 L1630.3,552.6 L1631.3,552.6 L1632.3,552.6 L1633.3,552.9 L1634.3,552.6 L1635.3,552.7 L1636.3,553.0 L1637.3,552.5 L1638.3,552.5 L1638.5,552.4 L1639.3,552.0 L1640.3,552.2 L1641.3,551.4 L1642.3,552.2 L1643.3,552.6 L1644.3,552.4 L1645.3,552.3 L1646.3,552.0 L1647.3,551.9 L1648.3,551.8 L1649.3,551.9 L1650.3,552.0 L1651.3,552.3 L1652.3,552.2 L1653.3,552.2 L1654.3,552.1 L1655.3,552.2 L1656.3,552.1 L1657.3,552.6 L1658.3,552.4 L1659.3,551.8 L1660.3,552.0 L1661.3,552.1 L1662.3,551.9 L1663.3,552.2 L1664.3,551.7 L1665.3,552.0 L1666.3,552.0 L1667.3,552.0 L1668.3,552.0 L1669.3,552.0 L1670.3,552.1 L1671.0,552.0 L1671.3,552.3 L1672.3,552.4 L1673.3,552.1 L1674.3,551.8 L1675.3,551.6 L1676.3,551.5 L1677.3,551.6 L1678.3,552.1 L1679.3,552.7 L1680.3,552.6 L1681.3,552.4 L1682.3,552.3 L1683.3,552.4 L1684.3,552.6 L1685.3,552.7 L1686.3,552.2 L1687.3,553.0 L1688.3,552.6 L1689.3,552.8 L1690.3,552.8 L1691.3,552.5 L1692.3,552.5 L1693.3,553.5 L1694.3,553.4 L1695.3,553.0 L1696.3,553.2 L1697.3,553.7 L1698.3,553.5 L1699.3,553.8 L1700.3,554.0 L1701.3,553.9 L1701.8,553.9 L1702.3,553.7 L1703.3,553.6 L1704.3,553.8 L1705.3,553.6 L1706.3,554.1 L1707.2,553.7 L1708.2,553.9 L1709.2,553.9 L1710.2,554.0 L1711.2,554.4 L1712.2,554.5 L1713.2,554.6 L1714.2,555.1 L1715.2,555.1 L1716.2,554.9 L1717.2,555.4 L1718.2,555.1 L1719.2,555.5 L1720.2,555.6 L1721.2,555.7 L1722.1,555.5 L1723.1,555.7 L1724.1,555.8 L1725.1,555.9 L1726.1,556.6 L1727.1,556.6 L1728.1,556.7 L1729.1,557.2 L1730.1,556.8 L1731.1,556.7 L1731.5,557.1 L1732.1,557.3 L1733.1,557.4 L1734.1,557.9 L1735.0,557.4 L1736.0,557.9 L1737.0,558.2 L1738.0,558.5 L1739.0,558.5 L1740.0,558.7 L1741.0,558.8 L1742.0,558.8 L1743.0,559.0 L1744.0,559.2 L1745.0,558.8 L1746.0,559.5 L1746.9,559.5 L1747.9,559.7 L1748.9,559.6 L1749.9,560.0 L1750.9,559.7 L1751.9,560.3 L1752.9,559.8 L1753.9,560.2 L1754.9,560.1 L1755.9,560.3 L1756.9,560.4 L1757.9,561.0 L1758.9,561.1 L1759.8,561.5 L1760.4,561.1 L1760.8,561.0 L1761.8,560.7 L1762.8,561.3 L1763.8,561.6 L1764.8,561.3 L1765.8,561.3 L1766.8,561.4 L1767.8,561.9 L1768.8,561.5 L1769.8,562.4 L1770.8,562.3 L1771.8,562.6 L1772.8,562.3 L1773.8,562.9 L1774.8,562.6 L1775.7,562.8 L1776.7,562.9 L1777.7,562.7 L1778.7,563.1 L1779.7,563.2 L1780.7,563.2 L1781.7,563.3 L1782.7,563.6 L1783.7,563.7 L1784.7,563.7 L1785.7,564.1 L1786.7,564.0 L1787.7,564.3 L1788.7,564.7 L1789.7,565.0 L1790.7,564.9 L1791.6,564.9 L1792.6,565.0 L1793.6,564.9 L1794.6,565.5 L1795.6,565.4 L1796.6,565.8 L1797.6,565.4 L1798.6,565.6 L1799.6,565.5 L1800.6,565.8 L1801.2,565.7 L1801.6,565.6 L1802.6,566.4 L1803.6,566.5 L1804.5,566.4 L1805.5,566.5 L1806.5,566.5 L1807.5,566.4 L1808.5,566.8 L1809.5,566.4 L1810.5,567.2 L1811.5,567.1 L1812.5,567.3 L1813.5,567.9 L1814.5,567.5 L1815.4,567.6 L1816.4,568.1 L1817.4,567.9 L1818.4,568.3 L1819.4,568.1 L1820.4,568.2 L1821.4,568.7 L1822.4,568.7 L1823.4,568.8 L1824.3,569.1 L1825.3,569.2 L1826.3,569.4 L1827.3,569.4 L1828.3,569.6 L1829.3,570.2 L1830.0,570.6 L1830.3,570.5 L1831.3,570.3 L1832.3,570.8 L1833.2,571.1 L1834.2,570.8 L1835.2,570.7 L1836.2,571.4 L1837.2,571.2 L1838.2,571.8 L1839.2,571.6 L1840.2,571.9 L1841.1,572.1 L1842.1,572.1 L1843.1,572.4 L1844.1,572.6 L1845.1,572.7 L1846.1,573.0 L1847.1,573.1 L1848.1,573.7 L1849.0,573.9 L1850.0,573.7 L1851.0,573.7 L1852.0,573.8 L1853.0,574.0 L1854.0,574.3 L1855.0,574.4 L1855.5,574.6 L1856.0,575.0 L1856.9,574.9 L1857.9,575.1 L1858.9,574.8 L1859.9,575.2 L1860.9,575.2 L1861.9,575.6 L1862.9,576.2 L1863.9,576.2 L1864.8,576.5 L1865.8,576.2 L1866.8,576.4 L1867.8,576.3 L1868.8,576.9 L1869.8,577.2 L1870.8,576.8 L1871.8,577.0 L1872.8,577.0 L1873.7,577.3 L1874.7,577.5 L1875.7,577.8 L1876.7,577.9 L1877.7,578.3 L1878.7,578.0 L1879.7,578.2 L1880.7,578.7 L1881.6,578.8 L1882.6,579.0 L1883.6,578.9 L1884.6,579.1 L1885.6,579.1 L1886.6,579.5 L1887.6,579.3 L1888.6,579.7 L1889.6,579.9 L1890.5,579.9 L1891.5,580.3 L1892.5,580.6 L1893.5,580.5 L1894.5,580.9 L1895.5,580.7 L1896.5,580.9 L1897.5,581.4 L1898.4,580.9 L1899.4,581.6 L1900.0,581.8 L1900.4,581.8 L1901.4,581.9 L1902.4,581.8 L1903.4,582.5 L1904.4,582.7 L1905.3,582.3 L1906.3,582.7 L1907.3,582.3 L1908.3,582.1 L1909.3,582.6 L1910.3,583.0 L1911.3,583.1 L1912.2,584.3 L1913.2,583.8 L1914.2,584.3 L1915.2,584.6 L1916.2,585.0 L1917.2,584.6 L1918.2,585.2 L1919.1,584.9 L1920.1,585.3 L1921.1,585.4 L1922.1,585.3 L1923.1,585.6 L1924.1,586.0 L1925.1,586.3 L1926.0,586.3 L1927.0,586.2 L1928.0,586.5 L1929.0,587.0 L1930.0,587.1 L1930.0,587.0 L1931.0,587.1 L1932.0,587.2 L1932.9,587.5 L1933.9,587.6 L1934.9,587.9 L1935.9,587.6 L1936.9,588.3 L1937.9,588.8 L1938.9,589.2 L1939.8,589.5 L1940.8,588.9 L1941.8,588.8 L1942.8,589.1 L1943.8,589.0 L1944.8,589.2 L1945.8,590.3 L1946.8,590.3 L1947.7,590.6 L1948.7,590.3 L1949.7,590.6 L1950.7,590.5 L1951.7,590.6 L1952.7,591.1 L1953.7,590.8 L1954.6,591.6 L1955.6,591.2 L1956.6,592.1 L1957.6,591.6 L1958.6,591.3 L1959.6,591.3 L1960.6,591.8 L1961.6,592.5 L1962.5,592.4 L1963.0,592.3 L1963.5,592.3 L1964.5,593.4 L1965.5,593.0 L1966.5,592.9 L1967.5,593.3 L1968.5,593.6 L1969.5,593.9 L1970.4,593.7 L1971.4,593.9 L1972.4,594.2 L1973.4,594.2 L1974.4,594.6 L1975.4,594.9 L1976.4,595.3 L1977.4,595.0 L1978.3,595.3 L1979.3,595.6 L1980.3,595.7 L1981.3,595.7 L1982.3,596.0 L1983.3,596.1 L1984.3,596.2 L1985.3,596.7 L1986.2,596.4 L1987.2,596.8 L1988.2,596.6 L1989.2,596.7 L1990.2,596.9 L1991.2,597.2 L1991.9,597.1 L1992.2,597.6 L1993.1,597.3 L1994.1,597.9 L1995.1,598.1 L1996.1,598.0 L1997.1,598.7 L1998.1,598.9 L1999.1,598.7 L2000.1,599.0 L2001.0,599.2 L2002.0,599.1 L2003.0,599.4 L2004.0,599.3 L2005.0,600.0 L2006.0,599.7 L2007.0,600.2 L2008.0,600.7 L2008.9,600.8 L2009.9,600.6 L2010.9,600.7 L2011.9,600.4 L2012.9,600.8 L2013.9,601.2 L2014.9,600.8 L2015.9,601.0 L2016.8,601.6 L2017.8,601.4 L2018.8,601.9 L2019.8,602.4 L2020.8,602.4 L2021.8,602.7 L2022.8,603.2 L2023.7,603.3 L2024.7,603.4 L2025.7,603.4 L2026.7,603.5 L2027.7,603.9 L2028.7,603.3 L2029.7,603.7 L2030.7,603.4 L2031.6,603.9 L2032.6,604.2 L2033.6,604.4 L2034.6,604.6 L2036.3,606.0 L2036.3,607.0 L2036.3,608.0 L2036.3,609.0 L2036.4,610.0 L2036.4,611.0 L2036.4,612.0 L2036.4,613.0 L2036.4,614.0 L2036.4,615.0 L2036.5,616.0 L2036.5,617.0 L2036.5,618.0 L2036.5,619.0 L2036.5,620.0 L2036.5,621.0 L2036.6,622.0 L2036.6,623.0 L2036.6,624.0 L2036.6,625.0 L2036.6,626.0 L2036.6,627.0 L2036.6,628.0 L2036.7,629.0 L2036.7,630.0 L2036.7,631.0 L2036.7,632.0 L2036.7,633.0 L2036.7,634.0 L2036.8,635.0 L2036.8,636.1 L2036.8,637.1 L2036.8,638.1 L2036.8,639.1 L2036.8,640.1 L2036.9,641.1 L2036.9,642.1 L2036.9,643.1 L2036.9,644.1 L2036.9,645.1 L2036.9,646.1 L2037.0,647.1 L2037.0,648.1 L2037.0,649.1 L2037.0,650.1 L2037.0,651.1 L2037.0,652.1 L2037.0,653.1 L2037.1,654.1 L2037.1,655.1 L2037.1,656.1 L2037.1,657.1 L2037.1,658.1 L2037.1,659.1 L2037.1,660.1 L2037.2,661.1 L2037.2,662.1 L2037.2,663.1 L2037.2,664.1 L2037.2,665.1 L2037.2,666.1 L2037.2,667.1 L2037.2,668.1 L2037.3,669.1 L2037.3,670.1 L2037.3,671.1 L2037.3,672.1 L2037.3,673.1 L2037.3,674.1 L2037.3,675.1 L2037.3,676.1 L2037.3,677.1 L2037.4,678.1 L2037.4,679.1 L2037.4,680.1 L2037.4,681.1 L2037.4,682.1 L2037.4,683.1 L2037.4,684.1 L2037.4,685.1 L2037.4,686.1 L2037.4,687.1 L2037.4,688.1 L2037.4,689.1 L2037.5,690.1 L2037.5,691.1 L2037.5,692.1 L2037.5,693.1 L2037.5,694.1 L2037.5,695.2 L2037.5,696.2 L2037.5,697.2 L2037.5,698.2 L2037.5,699.2 L2037.5,700.0 L2037.5,700.2 L2037.5,701.2 L2037.5,702.2 L2037.5,703.2 L2037.5,704.2 L2037.5,705.2 L2037.5,706.2 L2037.5,707.2 L2037.5,708.2 L2037.5,709.2 L2037.5,710.2 L2037.5,711.2 L2037.5,712.2 L2037.5,713.2 L2037.5,714.2 L2037.5,715.2 L2037.5,716.2 L2037.5,717.2 L2037.5,718.2 L2037.6,719.2 L2037.6,720.2 L2037.6,721.2 L2037.6,722.2 L2037.6,723.2 L2037.6,724.2 L2037.6,725.2 L2037.6,726.2 L2037.6,727.2 L2037.6,728.2 L2037.6,729.2 L2037.6,730.2 L2037.6,731.2 L2037.6,732.2 L2037.6,733.2 L2037.6,734.2 L2037.6,735.2 L2037.6,736.2 L2037.6,737.2 L2037.6,738.2 L2037.6,739.2 L2037.6,740.2 L2037.6,741.2 L2037.6,742.2 L2037.6,743.2 L2037.6,744.2 L2037.6,745.2 L2037.6,746.2 L2037.6,747.2 L2037.6,748.2 L2037.6,749.2 L2037.6,750.2 L2037.6,751.2 L2037.6,752.2 L2037.6,753.3 L2037.6,754.3 L2037.6,755.3 L2037.6,756.3 L2037.6,757.3 L2037.6,758.3 L2037.6,759.3 L2037.6,760.3 L2037.7,761.3 L2037.7,762.3 L2037.7,763.3 L2037.7,764.3 L2037.7,765.3 L2037.7,766.3 L2037.7,767.3 L2037.7,768.3 L2037.7,769.3 L2037.7,770.3 L2037.7,771.3 L2037.7,772.3 L2037.7,773.3 L2037.7,774.3 L2037.7,775.3 L2037.7,776.3 L2037.7,777.3 L2037.7,778.3 L2037.7,779.3 L2037.7,780.3 L2037.7,781.3 L2037.7,782.3 L2037.7,783.3 L2037.7,784.3 L2037.7,785.3 L2037.7,786.3 L2037.7,787.3 L2037.7,788.3 L2037.7,789.3 L2037.7,790.3 L2037.7,791.3 L2037.7,792.3 L2037.7,793.3 L2037.7,794.3 L2037.7,795.3 L2037.7,796.3 L2037.7,797.3 L2037.7,798.3 L2037.7,799.3 L2037.7,800.3 L2037.7,801.3 L2037.7,802.3 L2037.7,803.3 L2037.7,804.3 L2037.7,805.3 L2037.7,806.3 L2037.7,807.3 L2037.7,808.3 L2037.7,809.3 L2037.8,810.4 L2037.8,811.4 L2037.8,812.4 L2037.8,813.4 L2037.8,814.4 L2037.8,815.4 L2037.8,816.4 L2037.8,817.4 L2037.8,818.4 L2037.8,819.4 L2037.8,820.4 L2037.8,821.4 L2037.8,822.4 L2037.8,823.4 L2037.8,824.4 L2037.8,825.4 L2037.8,826.4 L2037.8,827.4 L2037.8,828.4 L2037.8,829.4 L2037.8,830.4 L2037.8,831.4 L2037.8,832.4 L2037.8,833.4 L2037.8,834.4 L2037.8,835.4 L2037.8,836.4 L2037.8,837.4 L2037.8,838.4 L2037.8,839.4 L2037.8,840.4 L2037.8,841.4 L2037.8,842.4 L2037.8,843.4 L2037.8,844.4 L2037.8,845.4 L2037.8,846.4 L2037.8,847.4 L2037.8,848.4 L2037.8,849.4 L2037.8,850.4 L2037.8,851.4 L2037.8,852.4 L2037.8,853.4 L2037.8,854.4 L2037.8,855.4 L2037.8,856.4 L2037.8,857.4 L2037.8,858.4 L2037.8,859.4 L2037.8,860.4 L2037.8,861.4 L2037.8,862.4 L2037.8,863.4 L2037.8,864.4 L2037.8,865.4 L2037.8,866.5 L2037.8,867.5 L2037.8,868.5 L2037.8,869.5 L2037.8,870.5 L2037.9,871.5 L2037.9,872.5 L2037.9,873.5 L2037.9,874.5 L2037.9,875.5 L2037.9,876.5 L2037.9,877.5 L2037.9,878.5 L2037.9,879.5 L2037.9,880.5 L2037.9,881.5 L2037.9,882.5 L2037.9,883.5 L2037.9,884.5 L2037.9,885.5 L2037.9,886.5 L2037.9,887.5 L2037.9,888.5 L2037.9,889.5 L2037.9,890.5 L2037.9,891.5 L2037.9,892.5 L2037.9,893.5 L2037.9,894.5 L2037.9,895.5 L2037.9,896.5 L2037.9,897.5 L2037.9,898.5 L2037.9,899.5 L2037.9,900.5 L2037.9,901.5 L2037.9,902.5 L2037.9,903.5 L2037.9,904.5 L2037.9,905.5 L2037.9,906.5 L2037.9,907.5 L2037.9,908.5 L2037.9,909.5 L2037.9,910.5 L2037.9,911.5 L2037.9,912.5 L2037.9,913.5 L2037.9,914.5 L2037.9,915.5 L2037.9,916.5 L2037.9,917.5 L2037.9,918.5 L2037.9,919.5 L2037.9,920.5 L2037.9,921.5 L2037.9,922.5 L2037.9,923.6 L2037.9,924.6 L2037.9,925.6 L2037.9,926.6 L2037.9,927.6 L2037.9,928.6 L2037.9,929.6 L2037.9,930.6 L2037.9,931.6 L2037.9,932.6 L2037.9,933.6 L2037.9,934.6 L2037.9,935.6 L2037.9,936.6 L2037.9,937.6 L2037.9,938.6 L2037.9,939.6 L2037.9,940.6 L2037.9,941.6 L2037.9,942.6 L2037.9,943.6 L2037.9,944.6 L2037.9,945.6 L2037.9,946.6 L2037.9,947.6 L2037.9,948.6 L2037.9,949.6 L2037.9,950.6 L2037.9,951.6 L2037.9,952.6 L2037.9,953.6 L2037.9,954.6 L2037.9,955.6 L2037.9,956.6 L2037.9,957.6 L2037.9,958.6 L2037.9,959.6 L2037.9,960.6 L2037.9,961.6 L2037.9,962.6 L2037.9,963.6 L2038.0,964.6 L2038.0,965.6 L2038.0,966.6 L2038.0,967.6 L2038.0,968.6 L2038.0,969.6 L2038.0,970.6 L2038.0,971.6 L2038.0,972.6 L2038.0,973.6 L2038.0,974.6 L2038.0,975.6 L2038.0,976.6 L2038.0,977.6 L2038.0,978.6 L2038.0,979.7 L2038.0,980.7 L2038.0,981.7 L2038.0,982.7 L2038.0,983.7 L2038.0,984.7 L2038.0,985.7 L2038.0,986.7 L2038.0,987.7 L2038.0,988.7 L2038.0,989.7 L2038.0,990.7 L2038.0,991.7 L2038.0,992.7 L2038.0,993.7 L2038.0,994.7 L2038.0,995.7 L2038.0,996.7 L2038.0,997.7 L2038.0,998.7 L2038.0,999.7 L2038.0,1000.7 L2038.0,1001.7 L2038.0,1002.7 L2038.0,1003.7 L2038.0,1004.7 L2038.0,1005.7 L2038.0,1006.7 L2038.0,1007.7 L2038.0,1008.7 L2038.0,1009.7 L2038.0,1010.7 L2038.0,1011.7 L2038.0,1012.7 L2038.0,1013.7 L2038.0,1014.7 L2038.0,1015.7 L2038.0,1016.7 L2038.0,1017.7 L2038.0,1018.7 L2038.0,1019.7 L2038.0,1020.7 L2038.0,1021.7 L2038.0,1022.7 L2038.0,1023.7 L2038.0,1024.7 L2038.0,1025.7 L2038.0,1026.7 L2038.0,1027.7 L2038.0,1028.7 L2038.0,1029.7 L2038.0,1030.7 L2038.0,1031.7 L2038.0,1032.7 L2038.0,1033.7 L2038.0,1034.7 L2038.0,1035.8 L2038.0,1036.8 L2038.0,1037.8 L2038.0,1038.8 L2038.0,1039.8 L2038.0,1040.8 L2038.0,1041.8 L2038.0,1042.8 L2038.0,1043.8 L2038.0,1044.8 L2038.0,1045.8 L2038.0,1046.8 L2038.0,1047.8 L2038.0,1048.8 L2038.0,1049.8 L2038.0,1050.8 L2038.0,1051.8 L2038.0,1052.8 L2038.0,1053.8 L2038.0,1054.8 L2038.0,1055.8 L2038.0,1056.8 L2038.0,1057.8 L2038.0,1058.8 L2038.0,1059.8 L2038.0,1060.8 L2038.0,1061.8 L2038.0,1062.8 L2038.0,1063.8 L2038.0,1064.8 L2038.0,1065.8 L2038.0,1066.8 L2038.0,1067.8 L2038.0,1068.8 L2038.0,1069.8 L2038.0,1070.8 L2038.0,1071.8 L2038.0,1072.8 L2038.0,1073.8 L2038.0,1074.8 L2038.0,1075.8 L2038.0,1076.8 L2038.0,1077.8 L2038.0,1078.8 L2038.0,1079.8 L2038.0,1080.8 L2038.0,1081.8 L2038.0,1082.8 L2038.0,1083.8 L2038.0,1084.8 L2038.0,1085.8 L2038.0,1086.8 L2038.0,1087.8 L2038.0,1088.8 L2038.0,1089.8 L2038.0,1090.8 L2038.0,1091.9 L2038.0,1092.9 L2038.0,1093.9 L2038.0,1094.9 L2038.0,1095.9 L2038.0,1096.9 L2038.0,1097.9 L2038.0,1098.9 L2038.0,1099.9 L2038.0,1100.0 L2038.0,1100.9 L2038.0,1101.9 L2038.0,1102.9 L2038.0,1103.9 L2038.0,1104.9 L2038.0,1105.9 L2038.0,1106.9 L2038.0,1107.9 L2038.0,1108.9 L2038.0,1109.9 L2038.0,1110.9 L2038.0,1111.9 L2038.0,1112.9 L2038.0,1113.9 L2038.0,1114.9 L2038.0,1115.9 L2038.0,1116.9 L2038.0,1117.9 L2038.0,1118.9 L2038.0,1119.9 L2038.0,1120.9 L2038.0,1121.9 L2038.0,1122.9 L2038.0,1123.9 L2038.0,1124.9 L2038.0,1125.9 L2038.0,1126.9 L2038.0,1127.9 L2038.0,1128.9 L2038.0,1129.9 L2038.0,1130.9 L2038.0,1131.9 L2038.0,1132.9 L2038.0,1133.9 L2038.0,1134.9 L2038.0,1135.9 L2038.0,1136.9 L2038.0,1137.9 L2038.0,1138.9 L2038.0,1139.9 L2038.0,1140.9 L2038.0,1141.9 L2038.0,1142.9 L2038.0,1143.9 L2038.0,1144.9 L2038.0,1145.9 L2038.0,1146.9 L2038.0,1148.0 L2038.0,1149.0 L2038.0,1150.0 L2038.0,1151.0 L2038.0,1152.0 L2038.0,1153.0 L2038.0,1154.0 L2038.0,1155.0 L2038.0,1156.0 L2038.0,1157.0 L2038.0,1158.0 L2038.0,1159.0 L2038.0,1160.0 L2038.0,1161.0 L2038.0,1162.0 L2038.0,1163.0 L2038.0,1164.0 L2038.0,1165.0 L2038.0,1166.0 L2038.0,1167.0 L2038.0,1168.0 L2038.0,1169.0 L2038.0,1170.0 L2038.0,1171.0 L2038.0,1172.0 L2038.0,1173.0 L2038.0,1174.0 L2038.0,1175.0 L2038.0,1176.0 L2038.0,1177.0 L2038.0,1178.0 L2038.0,1179.0 L2038.0,1180.0 L2038.0,1181.0 L2038.0,1182.0 L2038.0,1183.0 L2038.0,1184.0 L2038.0,1185.0 L2038.0,1186.0 L2038.0,1187.0 L2038.0,1188.0 L2038.0,1189.0 L2038.0,1190.0 L2038.0,1191.0 L2038.0,1192.0 L2038.0,1193.0 L2038.0,1194.0 L2038.0,1195.0 L2038.0,1196.0 L2038.0,1197.0 L2038.0,1198.0 L2038.0,1199.0 L2038.0,1200.0 L2038.0,1200.0 L2038.0,1201.0 L2038.0,1202.0 L2038.0,1203.0 L2038.0,1204.0 L2038.0,1205.1 L2038.0,1206.1 L2038.0,1207.1 L2038.0,1208.1 L2038.0,1209.1 L2038.0,1210.1 L2038.0,1211.1 L2038.0,1212.1 L2038.0,1213.1 L2038.0,1214.1 L2038.0,1215.1 L2038.0,1216.1 L2038.0,1217.1 L2038.0,1218.1 L2038.0,1219.1 L2038.0,1220.1 L2038.0,1221.1 L2038.0,1222.1 L2038.0,1223.1 L2038.1,1224.1 L2038.1,1225.1 L2038.1,1226.1 L2038.1,1227.1 L2038.1,1228.1 L2038.1,1229.1 L2038.1,1230.1 L2038.1,1231.1 L2038.1,1232.1 L2038.1,1233.1 L2038.1,1234.1 L2038.1,1235.1 L2038.1,1236.1 L2038.1,1237.1 L2038.1,1238.1 L2038.1,1239.1 L2038.1,1240.1 L2038.1,1241.1 L2038.1,1242.1 L2038.2,1243.1 L2038.2,1244.1 L2038.2,1245.1 L2038.2,1246.1 L2038.2,1247.1 L2038.2,1248.1 L2038.2,1249.1 L2038.2,1250.1 L2038.2,1251.1 L2038.2,1252.1 L2038.2,1253.1 L2038.2,1254.1 L2038.2,1255.1 L2038.3,1256.1 L2038.3,1257.1 L2038.3,1258.1 L2038.3,1259.1 L2038.3,1260.2 L2038.3,1261.2 L2038.3,1262.2 L2038.3,1263.2 L2038.3,1264.2 L2038.3,1265.2 L2038.3,1266.2 L2038.4,1267.2 L2038.4,1268.2 L2038.4,1269.2 L2038.4,1270.2 L2038.4,1271.2 L2038.4,1272.2 L2038.4,1272.3 L2038.4,1273.2 L2038.4,1274.2 L2038.4,1275.2 L2038.4,1276.2 L2038.5,1277.2 L2038.5,1278.2 L2038.5,1279.2 L2038.5,1280.2 L2038.5,1281.2 L2038.6,1282.2 L2038.6,1283.2 L2038.6,1284.2 L2038.6,1285.2 L2038.7,1286.2 L2038.7,1287.2 L2038.7,1288.2 L2038.7,1289.2 L2038.8,1290.2 L2038.8,1291.2 L2038.8,1292.2 L2038.9,1293.2 L2038.9,1294.2 L2038.9,1295.2 L2039.0,1296.2 L2039.0,1297.2 L2039.0,1298.2 L2039.1,1299.2 L2039.1,1300.2 L2039.1,1301.2 L2039.2,1302.2 L2039.2,1303.2 L2039.3,1304.2 L2039.3,1305.2 L2039.3,1306.2 L2039.4,1307.2 L2039.4,1308.2 L2039.5,1309.2 L2039.5,1310.2 L2039.5,1311.2 L2039.6,1312.2 L2039.6,1313.2 L2039.7,1314.2 L2039.7,1315.2 L2039.7,1316.2 L2039.8,1317.2 L2039.8,1317.5 L2039.8,1318.2 L2039.9,1319.2 L2039.9,1320.2 L2040.0,1321.2 L2040.0,1322.2 L2040.1,1323.2 L2040.1,1324.2 L2040.2,1325.2 L2040.2,1326.2 L2040.3,1327.2 L2040.3,1328.2 L2040.4,1329.2 L2040.4,1330.2 L2040.5,1331.2 L2040.5,1332.2 L2040.6,1333.2 L2040.7,1334.3 L2040.7,1335.3 L2040.8,1336.3 L2040.9,1337.3 L2040.9,1338.3 L2041.0,1339.3 L2041.1,1340.3 L2041.1,1341.3 L2041.2,1342.3 L2041.3,1343.3 L2041.4,1344.3 L2041.4,1345.3 L2041.5,1346.3 L2041.6,1347.3 L2041.7,1348.2 L2041.8,1349.2 L2041.8,1350.2 L2041.9,1351.2 L2042.0,1352.2 L2042.1,1353.2 L2042.2,1354.2 L2042.3,1355.2 L2042.4,1356.2 L2042.5,1357.2 L2042.5,1357.3 L2042.6,1358.2 L2042.7,1359.2 L2042.8,1360.2 L2042.9,1361.2 L2043.1,1362.2 L2043.2,1363.2 L2043.3,1364.2 L2043.4,1365.2 L2043.6,1366.2 L2043.7,1367.2 L2043.9,1368.2 L2044.0,1369.2 L2044.2,1370.2 L2044.4,1371.2 L2044.5,1372.2 L2044.7,1373.1 L2044.9,1374.1 L2045.1,1375.1 L2045.3,1376.1 L2045.5,1377.1 L2045.7,1378.1 L2045.9,1379.1 L2046.1,1380.0 L2046.3,1381.0 L2046.5,1382.0 L2046.8,1383.0 L2047.0,1383.9 L2047.2,1384.9 L2047.5,1385.8 L2047.6,1386.3 L2047.7,1386.8 L2048.0,1387.7 L2048.3,1388.7 L2048.6,1389.6 L2048.9,1390.6 L2049.3,1391.5 L2049.7,1392.5 L2050.0,1393.4 L2050.4,1394.3 L2050.8,1395.3 L2051.3,1396.2 L2051.7,1397.1 L2052.1,1398.0 L2052.5,1398.9 L2053.0,1399.8 L2053.4,1400.7 L2053.4,1400.7 L2053.9,1401.6 L2054.3,1402.5 L2054.8,1403.4 L2055.3,1404.3 L2055.8,1405.2 L2056.3,1406.0 L2056.8,1406.9 L2057.3,1407.7 L2057.9,1408.8 L2058.5,1409.6 L2058.8,1409.7 L2059.1,1410.2 L2059.7,1411.3 L2060.3,1412.2 L2061.0,1412.7 L2061.7,1413.4 L2062.4,1414.4 L2063.1,1414.8 L2063.8,1415.3 L2064.6,1416.1 L2065.3,1416.8 L2066.1,1417.6 L2066.9,1418.6 L2067.7,1418.7 L2067.9,1418.6 L2068.4,1419.2 L2069.2,1419.8 L2070.0,1420.5 L2070.8,1420.9 L2071.7,1421.5 L2072.5,1421.9 L2073.4,1422.5 L2074.2,1423.3 L2075.1,1423.6 L2076.0,1424.1 L2076.8,1424.3 L2077.7,1424.9 L2078.6,1425.3 L2078.7,1425.4 L2079.5,1426.1 L2080.4,1426.8 L2081.3,1427.3 L2082.2,1427.5 L2083.1,1428.4 L2084.0,1428.4 L2085.0,1428.6 L2085.9,1428.9 L2086.8,1429.3 L2087.8,1429.9 L2088.7,1430.1 L2089.6,1430.5 L2090.6,1430.7 L2091.4,1431.4 L2091.5,1431.5 L2092.4,1431.8 L2093.4,1432.1 L2094.3,1432.0 L2095.3,1432.8 L2096.2,1433.2 L2097.2,1433.4 L2098.1,1433.3 L2099.1,1434.0 L2100.0,1434.4 L2101.0,1434.3 L2101.9,1434.3 L2102.9,1435.0 L2103.8,1435.0 L2104.8,1436.0 L2105.8,1436.2 L2106.7,1436.2 L2107.7,1436.4 L2108.7,1436.7 L2109.5,1437.1 L2109.6,1436.5 L2110.6,1436.9 L2111.6,1437.0 L2112.5,1437.5 L2113.5,1437.5 L2114.5,1438.2 L2115.5,1438.1 L2116.4,1438.3 L2117.4,1438.9 L2118.4,1438.8 L2119.4,1439.2 L2120.4,1439.4 L2121.4,1439.6 L2122.3,1439.8 L2123.3,1440.0 L2124.3,1440.2 L2125.3,1440.0 L2126.3,1440.3 L2127.3,1440.9 L2128.3,1441.0 L2129.2,1441.1 L2130.2,1441.3 L2131.2,1441.1 L2132.2,1441.5 L2133.2,1441.3 L2134.2,1441.7 L2135.2,1442.2 L2136.2,1442.2 L2136.6,1442.4 L2137.1,1442.3 L2138.1,1442.8 L2139.1,1442.9 L2140.1,1442.6 L2141.1,1442.9 L2142.1,1443.4 L2143.1,1443.1 L2144.1,1443.7 L2145.1,1443.6 L2146.0,1444.2 L2147.0,1444.3 L2148.0,1444.0 L2149.0,1444.0 L2150.0,1444.1 L2151.0,1444.3 L2152.0,1444.3 L2153.0,1444.1 L2154.0,1445.2 L2155.0,1445.2 L2156.0,1445.0 L2157.0,1445.6 L2157.9,1445.7 L2158.9,1446.0 L2159.9,1446.2 L2160.9,1446.2 L2161.9,1446.0 L2162.9,1446.2 L2163.7,1446.6 L2163.9,1446.5 L2164.9,1446.3 L2165.9,1446.6 L2166.9,1446.4 L2167.9,1446.9 L2168.9,1446.6 L2169.9,1447.1 L2170.9,1447.5 L2171.9,1447.6 L2172.9,1447.2 L2173.9,1446.9 L2174.8,1447.8 L2175.8,1448.1 L2176.8,1447.9 L2177.8,1448.2 L2178.8,1447.8 L2179.8,1448.1 L2180.8,1448.1 L2181.8,1448.0 L2182.8,1448.2 L2183.8,1448.9 L2184.8,1448.9 L2185.8,1448.9 L2186.8,1449.1 L2187.8,1448.7 L2188.8,1448.7 L2189.8,1449.0 L2190.8,1448.9 L2199.9,1449.0 L2202.6,1446.6 L2203.6,1446.7 L2204.6,1446.2 L2205.6,1446.1 L2206.6,1446.1 L2207.6,1446.3 L2208.6,1445.8 L2209.7,1446.0 L2210.7,1445.9 L2211.7,1445.8 L2212.7,1445.9 L2213.7,1446.0 L2214.7,1445.7 L2215.7,1446.0 L2216.1,1446.2 L2216.7,1446.1 L2217.7,1446.3 L2218.7,1446.0 L2219.7,1446.2 L2220.7,1446.1 L2221.7,1446.4 L2222.7,1446.0 L2223.8,1446.2 L2224.8,1446.1 L2225.8,1446.0 L2226.8,1446.3 L2227.8,1446.3 L2228.8,1446.4 L2229.8,1446.5 L2230.8,1446.8 L2231.8,1446.2 L2232.8,1446.9 L2233.8,1446.9 L2234.8,1446.7 L2235.8,1446.8 L2236.8,1446.9 L2237.8,1447.0 L2238.9,1447.0 L2239.9,1447.2 L2240.9,1447.3 L2241.9,1447.7 L2242.9,1447.6 L2243.9,1447.6 L2244.9,1447.4 L2245.9,1447.0 L2246.9,1447.5 L2247.9,1447.4 L2248.9,1447.8 L2249.9,1448.0 L2250.9,1448.4 L2251.9,1448.1 L2252.9,1448.1 L2254.0,1447.7 L2255.0,1448.3 L2256.0,1448.3 L2257.0,1448.2 L2258.0,1448.3 L2259.0,1448.7 L2260.0,1448.5 L2261.0,1448.7 L2262.0,1448.6 L2263.0,1448.6 L2263.2,1448.6 L2264.0,1448.4 L2265.0,1448.8 L2266.0,1448.8 L2267.0,1449.3 L2268.0,1448.8 L2269.1,1448.8 L2270.1,1448.9 L2271.1,1448.8 L2272.1,1448.8 L2273.1,1448.9 L2274.1,1449.2 L2275.1,1449.2 L2276.1,1449.7 L2277.1,1449.7 L2278.1,1449.4 L2279.1,1449.4 L2280.1,1449.6 L2281.1,1448.8 L2282.1,1449.3 L2283.2,1449.4 L2284.2,1449.8 L2285.2,1449.8 L2286.2,1450.1 L2287.2,1449.9 L2288.2,1450.0 L2289.2,1449.7 L2290.2,1450.0 L2291.2,1450.3 L2292.2,1449.8 L2293.2,1450.4 L2294.2,1450.0 L2295.2,1450.6 L2296.3,1450.5 L2297.3,1450.5 L2298.3,1450.1 L2299.3,1450.2 L2300.3,1449.8 L2301.3,1450.0 L2302.3,1450.1 L2303.3,1450.7 L2304.3,1450.4 L2305.3,1450.5 L2306.3,1450.8 L2307.3,1450.7 L2308.3,1450.3 L2309.4,1450.7 L2310.4,1450.8 L2311.4,1450.7 L2312.4,1450.8 L2313.4,1450.2 L2314.4,1450.7 L2315.4,1451.3 L2316.4,1451.1 L2317.4,1450.8 L2317.4,1450.7 L2318.4,1451.0 L2319.4,1450.8 L2320.4,1450.6 L2321.4,1451.4 L2322.5,1451.0 L2323.5,1451.2 L2324.5,1451.2 L2325.5,1451.4 L2326.5,1451.4 L2327.5,1451.8 L2328.5,1451.6 L2329.5,1451.7 L2330.5,1451.7 L2331.5,1451.8 L2332.5,1451.5 L2333.5,1451.1 L2334.5,1451.8 L2335.6,1452.0 L2336.6,1452.0 L2337.6,1451.6 L2338.6,1452.1 L2339.6,1451.7 L2340.6,1451.4 L2341.6,1451.6 L2342.6,1451.8 L2343.6,1451.7 L2344.6,1451.9 L2345.6,1452.0 L2346.6,1452.6 L2347.6,1452.2 L2348.7,1452.5 L2349.7,1452.2 L2350.7,1452.6 L2351.7,1452.0 L2352.7,1451.9 L2353.7,1452.1 L2354.7,1452.1 L2355.7,1451.6 L2356.7,1452.3 L2357.7,1452.3 L2358.7,1452.2 L2359.7,1452.2 L2360.8,1452.4 L2361.8,1452.5 L2362.8,1452.4 L2363.8,1452.3 L2364.8,1452.5 L2365.8,1452.6 L2366.8,1452.6 L2367.8,1452.1 L2368.8,1452.3 L2369.8,1451.9 L2370.8,1452.0 L2371.8,1452.7 L2372.9,1453.0 L2373.9,1452.8 L2374.9,1452.6 L2375.9,1452.6 L2376.9,1453.0 L2377.9,1453.0 L2378.9,1453.1 L2379.9,1452.6 L2380.9,1452.6 L2381.9,1452.8 L2382.9,1453.1 L2383.9,1452.8 L2385.0,1453.0 L2386.0,1452.9 L2386.1,1452.8 L2387.0,1453.1 L2388.0,1452.7 L2389.0,1453.1 L2390.0,1453.0 L2391.0,1453.4"/>
<path stroke="#ff0000" d="M340.0,1435.0 L341.0,1434.9 L342.0,1435.7 L343.0,1436.1 L344.0,1436.3 L345.0,1436.0 L346.0,1435.8 L347.0,1435.1 L347.9,1435.6 L348.9,1436.1 L349.9,1435.2 L350.9,1435.1 L351.9,1436.1 L352.9,1438.2 L353.9,1437.9 L354.9,1437.3 L355.9,1438.5 L356.9,1437.8 L357.9,1438.4 L358.9,1438.0 L359.9,1436.7 L360.9,1437.8 L361.9,1437.5 L362.9,1438.1 L363.9,1439.8 L364.9,1439.9 L365.9,1438.3 L366.8,1438.6 L367.8,1438.3 L368.8,1438.4 L369.8,1437.8 L370.8,1439.1 L371.8,1438.6 L372.8,1438.6 L373.8,1438.5 L374.8,1438.7 L375.8,1439.0 L376.8,1439.7 L377.8,1441.1 L378.8,1440.7 L379.8,1442.0 L380.8,1441.6 L381.8,1439.9 L382.8,1441.2 L383.8,1440.9 L384.8,1441.8 L385.8,1441.6 L386.8,1440.3 L387.8,1441.9 L388.8,1441.2 L389.8,1442.7 L390.8,1441.5 L391.8,1442.2 L392.8,1441.7 L393.8,1442.2 L394.8,1442.1 L395.8,1443.9 L396.8,1444.3 L397.7,1444.8 L398.7,1444.0 L399.7,1443.5 L400.7,1443.0 L401.7,1443.4 L402.7,1444.5 L403.7,1446.3 L404.7,1445.4 L405.7,1445.3 L406.7,1445.2 L407.7,1445.2 L408.7,1444.4 L409.7,1444.8 L410.7,1444.5 L411.7,1444.7 L412.7,1444.2 L413.7,1445.3 L414.7,1444.8 L415.7,1444.9 L416.7,1445.3 L417.7,1447.0 L418.7,1445.8 L419.7,1445.7 L420.7,1445.5 L421.7,1446.7 L422.7,1446.1 L423.7,1446.1 L424.7,1447.0 L425.7,1445.2 L425.8,1446.1 L426.7,1446.2 L427.7,1446.7 L428.7,1447.3 L429.7,1448.8 L430.7,1447.8 L431.7,1447.5 L432.7,1447.1 L433.7,1447.2 L434.7,1446.9 L435.7,1447.8 L436.7,1447.1 L437.8,1447.3 L438.8,1447.6 L439.8,1447.2 L440.8,1448.2 L441.8,1448.5 L442.8,1449.3 L443.8,1450.3 L444.8,1449.9 L445.8,1448.6 L446.8,1450.3 L447.8,1449.9 L448.8,1449.4 L449.8,1450.2 L450.8,1449.8 L451.8,1449.1 L452.8,1449.3 L453.8,1449.1 L454.8,1449.7 L455.8,1449.9 L456.8,1449.1 L457.8,1449.7 L458.8,1450.4 L459.8,1449.6 L460.8,1450.3 L461.8,1449.6 L462.8,1449.8 L463.9,1449.3 L464.9,1449.1 L465.9,1449.9 L466.9,1449.0 L467.9,1449.5 L468.9,1450.8 L469.9,1450.3 L470.9,1450.7 L471.9,1450.1 L472.9,1450.1 L473.9,1451.5 L474.9,1451.1 L475.9,1451.2 L476.9,1452.2 L477.9,1451.2 L478.9,1451.2 L479.9,1452.1 L480.9,1451.3 L481.9,1452.1 L483.0,1451.1 L484.0,1450.1 L485.0,1452.0 L486.0,1451.1 L487.0,1450.1 L488.0,1452.3 L489.0,1452.0 L490.0,1451.6 L491.0,1452.5 L492.0,1452.3 L493.0,1453.2 L494.0,1451.2 L495.0,1452.1 L496.0,1452.0 L497.0,1451.8 L498.0,1452.1 L499.0,1452.2 L500.0,1452.6 L501.1,1453.1 L502.1,1451.7 L503.1,1452.1 L504.1,1453.0 L505.1,1452.2 L506.1,1452.3 L507.1,1451.9 L508.1,1453.9 L509.1,1453.1 L510.1,1452.4 L510.8,1453.2 L511.1,1453.8 L512.1,1452.5 L513.1,1453.8 L514.1,1453.8 L515.1,1455.0 L516.1,1454.7 L517.1,1454.3 L518.1,1454.7 L519.1,1455.1 L520.1,1455.2 L521.2,1453.7 L522.2,1453.4 L523.2,1456.1 L524.2,1453.8 L525.2,1454.6 L526.2,1454.8 L527.2,1454.3 L528.2,1454.2 L529.2,1453.8 L530.2,1453.1 L531.2,1454.8 L532.2,1454.9 L533.2,1456.1 L534.2,1455.4 L535.2,1453.9 L536.2,1454.3 L537.2,1455.5 L538.2,1454.5 L539.2,1453.9 L540.3,1455.2 L541.3,1455.7 L542.3,1456.6 L543.3,1455.2 L544.3,1455.3 L545.3,1455.3 L546.3,1454.0 L547.3,1454.4 L548.3,1456.1 L549.3,1456.1 L550.3,1455.4 L551.3,1455.3 L552.3,1456.3 L553.3,1455.1 L554.3,1455.6 L555.3,1455.7 L556.3,1456.1 L557.3,1456.7 L558.3,1458.5 L559.3,1456.1 L560.4,1456.8 L561.4,1456.4 L562.4,1455.6 L563.4,1456.6 L564.4,1454.4 L565.0,1456.0 L565.4,1456.8 L566.4,1455.0 L567.4,1456.2 L568.4,1457.8 L569.4,1456.9 L570.4,1456.3 L571.4,1456.6 L572.4,1456.4 L573.4,1457.1 L574.4,1457.9 L575.4,1457.8 L576.4,1457.3 L577.4,1458.0 L578.4,1458.6 L579.4,1458.2 L580.4,1458.8 L581.5,1457.8 L582.5,1456.9 L583.5,1457.3 L584.5,1457.9 L585.5,1457.9 L586.5,1457.6 L587.5,1456.9 L588.5,1457.8 L589.5,1457.7 L590.5,1457.6 L591.5,1458.1 L592.5,1458.7 L593.5,1458.5 L594.5,1459.1 L595.5,1458.7 L596.5,1459.3 L597.5,1459.2 L598.5,1458.7 L599.5,1459.2 L600.5,1459.4 L601.5,1458.8 L602.5,1459.1 L603.5,1459.8 L604.6,1458.9 L605.6,1459.1 L606.6,1461.0 L607.6,1460.0 L608.6,1460.1 L609.6,1458.8 L610.6,1460.4 L611.6,1459.7 L612.6,1459.8 L613.6,1459.4 L614.6,1460.6 L615.6,1460.8 L616.6,1460.3 L617.4,1460.3 L617.4,1459.0 L617.5,1458.0 L617.5,1457.0 L617.5,1456.0 L617.5,1455.0 L617.6,1454.0 L617.6,1453.0 L617.6,1452.0 L617.6,1451.0 L617.7,1450.0 L617.7,1449.0 L617.7,1448.0 L617.8,1447.0 L617.8,1446.0 L617.8,1445.0 L617.8,1444.0 L617.9,1443.0 L617.9,1442.0 L617.9,1441.0 L617.9,1440.0 L618.0,1439.0 L618.0,1438.0 L618.0,1436.9 L618.1,1435.9 L618.1,1434.9 L618.1,1433.9 L618.1,1432.9 L618.2,1431.9 L618.2,1430.9 L618.2,1429.9 L618.2,1428.9 L618.3,1427.9 L618.3,1426.9 L618.3,1425.9 L618.4,1424.9 L618.4,1423.9 L618.4,1422.9 L618.4,1421.9 L618.5,1420.9 L618.5,1419.9 L618.5,1418.9 L618.6,1417.9 L618.6,1416.9 L618.6,1415.9 L618.6,1414.9 L618.7,1413.9 L618.7,1412.9 L618.7,1411.9 L618.7,1410.9 L618.8,1409.9 L618.8,1408.9 L618.8,1407.9 L618.9,1406.9 L618.9,1405.9 L618.9,1404.9 L618.9,1403.9 L619.0,1402.9 L619.0,1401.9 L619.0,1400.9 L619.1,1399.9 L619.1,1398.9 L619.1,1397.9 L619.1,1396.9 L619.2,1395.9 L619.2,1394.9 L619.2,1393.9 L619.3,1392.9 L619.3,1391.8 L619.3,1390.8 L619.3,1389.8 L619.4,1388.8 L619.4,1387.8 L619.4,1386.8 L619.5,1385.8 L619.5,1384.8 L619.5,1383.8 L619.5,1382.8 L619.6,1381.8 L619.6,1380.8 L619.6,1379.8 L619.7,1378.8 L619.7,1377.8 L619.7,1376.8 L619.8,1375.8 L619.8,1374.8 L619.8,1373.8 L619.8,1372.8 L619.9,1371.8 L619.9,1370.8 L619.9,1369.8 L620.0,1368.8 L620.0,1367.8 L620.0,1366.8 L620.0,1365.8 L620.1,1364.8 L620.1,1363.8 L620.1,1362.8 L620.2,1361.8 L620.2,1360.8 L620.2,1359.8 L620.2,1358.8 L620.3,1357.8 L620.3,1356.8 L620.3,1355.8 L620.4,1354.8 L620.4,1353.8 L620.4,1352.8 L620.5,1351.8 L620.5,1350.8 L620.5,1349.8 L620.5,1348.8 L620.6,1347.8 L620.6,1346.8 L620.6,1345.7 L620.7,1344.7 L620.7,1343.7 L620.7,1342.7 L620.7,1341.7 L620.8,1340.7 L620.8,1340.0 L620.8,1339.7 L620.8,1338.7 L620.9,1337.7 L620.9,1336.7 L620.9,1335.7 L621.0,1334.7 L621.0,1333.7 L621.0,1332.7 L621.0,1331.7 L621.1,1330.7 L621.1,1329.7 L621.1,1328.7 L621.1,1327.7 L621.2,1326.7 L621.2,1325.7 L621.2,1324.7 L621.3,1323.7 L621.3,1322.7 L621.3,1321.7 L621.3,1320.7 L621.4,1319.7 L621.4,1318.7 L621.4,1317.7 L621.4,1316.7 L621.5,1315.7 L621.5,1314.7 L621.5,1313.7 L621.5,1312.7 L621.6,1311.7 L621.6,1310.7 L621.6,1309.7 L621.7,1308.7 L621.7,1307.7 L621.7,1306.7 L621.7,1305.7 L621.8,1304.7 L621.8,1303.7 L621.8,1302.6 L621.9,1301.6 L621.9,1300.6 L621.9,1299.6 L621.9,1298.6 L622.0,1297.6 L622.0,1296.6 L622.0,1295.6 L622.1,1294.6 L622.1,1293.6 L622.1,1292.6 L622.2,1291.6 L622.2,1290.6 L622.2,1289.6 L622.3,1288.6 L622.3,1287.6 L622.3,1286.6 L622.4,1285.6 L622.4,1284.6 L622.5,1283.6 L622.5,1282.6 L622.5,1281.6 L622.6,1280.6 L622.6,1279.6 L622.6,1278.6 L622.7,1277.6 L622.7,1276.6 L622.8,1275.6 L622.8,1275.1 L622.8,1274.6 L622.9,1273.6 L622.9,1272.6 L623.0,1271.6 L623.0,1270.6 L623.1,1269.6 L623.1,1268.6 L623.2,1267.6 L623.3,1266.6 L623.3,1265.6 L623.4,1264.6 L623.4,1263.6 L623.5,1262.6 L623.6,1261.6 L623.7,1260.6 L623.7,1259.6 L623.8,1258.6 L623.9,1257.6 L623.9,1256.6 L624.0,1255.6 L624.1,1254.6 L624.2,1253.6 L624.2,1252.6 L624.3,1251.6 L624.4,1250.6 L624.5,1249.6 L624.5,1248.6 L624.6,1247.6 L624.7,1246.6 L624.8,1245.6 L624.9,1244.6 L624.9,1243.6 L625.0,1242.6 L625.1,1241.6 L625.2,1240.6 L625.2,1239.6 L625.3,1238.9 L625.3,1238.6 L625.4,1237.6 L625.5,1236.6 L625.6,1235.6 L625.6,1234.6 L625.7,1233.6 L625.8,1232.6 L625.9,1231.6 L625.9,1230.6 L626.0,1229.6 L626.1,1228.6 L626.2,1227.6 L626.2,1226.6 L626.3,1225.6 L626.4,1224.6 L626.5,1223.6 L626.6,1222.6 L626.6,1221.6 L626.7,1220.6 L626.8,1219.6 L626.9,1218.6 L627.0,1217.6 L627.1,1216.6 L627.1,1215.6 L627.2,1214.6 L627.3,1213.6 L627.4,1212.6 L627.5,1211.6 L627.6,1210.6 L627.7,1209.6 L627.8,1208.6 L627.9,1207.6 L628.0,1206.6 L628.0,1206.4 L628.1,1205.6 L628.2,1204.6 L628.3,1203.6 L628.4,1202.6 L628.5,1201.6 L628.6,1200.6 L628.7,1199.6 L628.8,1198.6 L628.9,1197.6 L629.0,1196.6 L629.1,1195.6 L629.2,1194.6 L629.3,1193.6 L629.4,1192.6 L629.5,1191.6 L629.6,1190.6 L629.7,1189.6 L629.8,1188.6 L629.9,1187.6 L630.0,1186.6 L630.2,1185.6 L630.3,1184.6 L630.4,1183.6 L630.5,1182.6 L630.6,1181.6 L630.8,1180.6 L630.9,1179.7 L631.0,1178.7 L631.2,1177.7 L631.3,1176.7 L631.5,1175.7 L631.6,1174.7 L631.7,1173.7 L631.9,1172.7 L632.0,1171.7 L632.2,1170.7 L632.4,1169.8 L632.5,1168.8 L632.7,1167.8 L632.9,1166.8 L632.9,1166.6 L633.0,1165.8 L633.2,1164.9 L633.4,1163.9 L633.7,1162.9 L633.9,1161.9 L634.1,1161.0 L634.4,1160.0 L634.6,1159.0 L634.9,1158.0 L635.1,1157.1 L635.4,1156.1 L635.7,1155.1 L636.0,1154.2 L636.3,1153.2 L636.6,1152.3 L636.9,1151.3 L637.2,1150.3 L637.5,1149.4 L637.8,1148.4 L638.1,1147.5 L638.4,1146.5 L638.7,1145.5 L638.9,1144.9 L639.0,1144.6 L639.3,1143.6 L639.6,1142.7 L639.9,1141.7 L640.2,1140.8 L640.5,1139.8 L640.9,1138.9 L641.2,1137.9 L641.5,1137.0 L641.8,1136.0 L642.2,1135.1 L642.5,1134.1 L642.9,1133.2 L643.2,1132.2 L643.6,1131.3 L643.9,1130.3 L644.3,1129.4 L644.6,1128.5 L645.0,1127.6 L645.4,1126.6 L645.8,1125.7 L646.1,1125.0 L646.2,1124.8 L646.6,1123.9 L647.0,1123.0 L647.4,1122.1 L647.8,1121.1 L648.3,1120.2 L648.7,1119.3 L649.2,1118.4 L649.6,1117.5 L650.1,1116.6 L650.6,1115.7 L651.0,1114.8 L651.5,1113.9 L652.0,1113.1 L652.5,1112.2 L653.1,1111.4 L653.6,1110.5 L654.1,1109.7 L654.2,1109.6 L654.7,1109.6 L655.3,1108.1 L655.8,1106.6 L656.4,1106.9 L657.1,1106.2 L657.7,1105.0 L658.3,1103.8 L659.0,1103.9 L659.7,1102.0 L660.3,1102.1 L661.0,1102.9 L661.7,1101.1 L662.4,1100.1 L663.1,1098.5 L663.8,1097.4 L664.6,1097.4 L665.1,1096.1 L665.3,1097.7 L666.0,1098.5 L666.7,1097.1 L667.5,1095.6 L668.3,1094.4 L669.0,1092.9 L669.8,1093.0 L670.6,1093.6 L671.4,1091.9 L672.2,1090.5 L673.0,1090.6 L673.8,1090.0 L674.6,1089.5 L675.5,1089.1 L676.3,1087.4 L677.1,1088.2 L677.8,1088.2 L677.9,1087.1 L678.7,1086.6 L679.5,1086.7 L680.4,1084.7 L681.2,1084.1 L682.0,1083.5 L682.8,1082.8 L683.7,1081.9 L684.5,1081.3 L685.3,1081.6 L686.2,1080.2 L687.0,1079.3 L687.9,1078.5 L688.8,1080.0 L689.7,1078.5 L690.4,1079.8 L690.6,1080.3 L691.5,1079.8 L692.4,1078.7 L693.3,1078.5 L694.3,1078.2 L695.2,1077.7 L696.2,1077.2 L697.1,1078.1 L698.1,1077.0 L699.1,1077.8 L700.1,1076.3 L701.1,1075.4 L702.1,1075.3 L703.0,1075.6 L704.0,1074.3 L705.0,1073.8 L706.0,1073.5 L707.0,1074.0 L708.0,1074.0 L708.5,1074.1 L709.0,1073.5 L710.0,1073.7 L710.9,1074.7 L711.9,1074.5 L712.9,1073.6 L713.9,1072.3 L714.9,1073.2 L715.9,1072.4 L716.9,1072.5 L717.9,1073.5 L718.9,1072.6 L719.8,1071.3 L720.8,1071.2 L721.8,1071.7 L722.8,1070.6 L723.8,1071.1 L724.8,1069.7 L725.8,1070.2 L726.8,1070.9 L727.8,1071.3 L728.8,1070.7 L729.8,1069.2 L730.8,1069.9 L731.8,1070.1 L732.8,1070.4 L733.8,1071.3 L734.8,1071.7 L735.6,1071.1 L735.8,1071.5 L736.8,1071.3 L737.8,1071.5 L738.8,1070.7 L739.8,1070.8 L740.8,1070.2 L741.8,1068.5 L742.8,1069.2 L743.8,1068.4 L744.8,1068.5 L745.8,1069.6 L746.8,1069.2 L747.8,1070.1 L748.8,1069.3 L749.8,1069.5 L750.8,1069.5 L751.8,1069.7 L752.8,1070.3 L753.8,1069.3 L754.8,1069.5 L755.8,1067.8 L756.8,1069.3 L757.8,1069.6 L758.8,1069.4 L759.8,1069.0 L760.8,1069.1 L761.8,1068.2 L762.7,1068.3 L762.8,1068.8 L763.8,1069.0 L764.8,1068.2 L765.8,1068.2 L766.9,1068.7 L767.9,1069.1 L768.9,1068.3 L769.9,1066.8 L770.9,1067.9 L771.9,1067.9 L772.9,1068.1 L773.9,1067.9 L774.9,1068.4 L775.9,1069.0 L776.9,1068.7 L777.9,1068.5 L778.9,1068.5 L779.9,1067.1 L780.9,1067.1 L781.9,1068.2 L782.9,1067.2 L783.9,1067.3 L784.9,1069.1 L785.9,1068.4 L786.9,1069.2 L787.9,1068.9 L788.9,1068.9 L789.9,1068.1 L795.3,1065.9 L796.3,1065.9 L797.3,1066.8 L798.3,1067.0 L799.3,1067.0 L800.3,1067.4 L801.3,1068.7 L802.3,1065.8 L803.3,1066.9 L804.4,1067.1 L805.4,1067.5 L806.4,1067.2 L807.4,1068.1 L808.4,1067.6 L809.4,1067.4 L810.4,1067.0 L811.4,1067.7 L812.4,1067.8 L813.4,1067.2 L814.4,1068.2 L815.4,1066.3 L816.4,1067.1 L817.4,1066.9 L818.4,1067.5 L819.4,1067.3 L820.4,1066.7 L821.4,1066.4 L822.4,1066.6 L823.4,1066.7 L824.5,1067.9 L825.5,1066.7 L826.5,1065.8 L827.5,1066.6 L828.5,1066.9 L829.5,1067.3 L830.5,1067.5 L831.5,1067.5 L832.5,1067.2 L833.5,1066.5 L834.5,1065.9 L835.1,1067.1 L835.5,1066.4 L836.5,1067.4 L837.5,1067.3 L838.5,1067.0 L839.5,1067.2 L840.5,1067.5 L841.5,1069.4 L842.5,1067.8 L843.5,1067.0 L844.5,1068.0 L845.5,1068.0 L846.5,1068.3 L847.5,1068.0 L848.5,1068.6 L849.5,1069.0 L850.5,1068.6 L851.5,1067.5 L852.5,1068.6 L853.5,1068.0 L854.5,1067.9 L855.5,1068.8 L856.5,1068.3 L857.5,1067.6 L858.5,1069.7 L859.5,1069.1 L860.5,1068.1 L861.5,1068.6 L862.5,1070.2 L863.5,1069.6 L864.5,1069.3 L865.6,1070.8 L866.6,1069.2 L867.6,1070.2 L868.6,1072.2 L869.6,1070.2 L870.6,1070.4 L871.6,1070.2 L872.6,1070.1 L873.6,1070.6 L874.6,1071.0 L875.6,1072.1 L876.6,1070.9 L877.6,1070.3 L878.6,1070.5 L879.6,1071.3 L880.6,1072.3 L881.6,1072.4 L882.6,1072.3 L883.6,1071.7 L884.6,1071.1 L885.6,1072.1 L886.6,1072.6 L887.6,1073.0 L888.6,1071.7 L889.3,1072.9 L889.6,1071.1 L890.6,1071.8 L891.6,1072.9 L892.6,1072.5 L893.6,1073.5 L894.6,1072.4 L895.6,1071.1 L896.6,1072.1 L897.6,1071.7 L898.6,1073.0 L899.6,1073.7 L900.6,1073.3 L901.6,1073.0 L902.6,1073.3 L903.6,1074.0 L904.6,1073.1 L905.7,1073.0 L906.7,1073.8 L907.7,1073.7 L908.7,1072.9 L909.7,1073.3 L910.7,1072.7 L911.7,1074.6 L912.7,1074.3 L913.7,1073.5 L914.7,1073.8 L915.7,1073.8 L916.7,1075.5 L917.7,1075.0 L918.7,1073.5 L919.7,1075.2 L920.7,1075.1 L921.7,1073.6 L922.7,1073.5 L923.7,1076.6 L924.7,1075.3 L925.7,1075.7 L926.7,1075.2 L927.7,1075.4 L928.7,1075.0 L929.8,1075.1 L930.8,1074.1 L931.8,1074.6 L932.8,1075.9 L933.8,1074.1 L934.8,1076.3 L935.8,1075.6 L936.8,1075.2 L937.8,1074.9 L938.8,1075.2 L939.8,1075.0 L940.8,1076.3 L941.8,1075.3 L942.8,1074.5 L943.6,1075.6 L943.8,1074.7 L944.8,1075.4 L945.8,1075.2 L946.8,1075.1 L947.8,1075.5 L948.8,1075.8 L949.8,1074.7 L950.8,1076.4 L951.8,1075.7 L952.9,1074.2 L953.9,1076.1 L954.9,1075.5 L955.9,1076.3 L956.9,1075.6 L957.9,1076.4 L958.9,1076.8 L959.9,1076.9 L960.9,1077.9 L961.9,1076.8 L962.9,1075.4 L963.9,1075.2 L964.9,1076.5 L965.9,1076.3 L966.9,1077.4 L967.9,1077.7 L968.9,1077.5 L969.9,1077.5 L970.9,1078.3 L971.9,1077.2 L972.9,1078.6 L973.9,1077.4 L974.9,1077.5 L975.9,1077.4 L976.9,1076.0 L978.0,1075.1 L979.0,1077.7 L980.0,1077.6 L981.0,1077.2 L982.0,1076.7 L983.0,1076.7 L984.0,1076.5 L985.0,1077.0 L986.0,1077.9 L987.0,1077.6 L988.0,1077.5 L989.0,1078.0 L990.0,1077.4 L991.0,1077.8 L992.0,1076.7 L993.0,1078.0 L994.0,1078.3 L995.0,1077.9 L996.0,1078.5 L997.0,1078.6 L997.8,1078.2 L998.0,1079.0 L999.0,1078.1 L1000.0,1078.3 L1001.0,1079.2 L1002.1,1078.3 L1003.1,1078.7 L1004.1,1079.5 L1005.1,1078.5 L1006.1,1079.3 L1007.1,1078.2 L1008.1,1078.6 L1009.1,1079.4 L1010.1,1078.4 L1011.1,1079.4 L1012.1,1078.2 L1013.1,1079.1 L1014.1,1079.9 L1015.1,1079.4 L1016.1,1079.9 L1017.1,1079.9 L1018.1,1079.7 L1019.1,1079.5 L1020.1,1079.9 L1021.1,1079.0 L1022.1,1079.3 L1023.1,1079.6 L1024.2,1079.4 L1025.2,1079.6 L1026.2,1080.0 L1027.2,1081.3 L1028.2,1080.4 L1029.2,1080.8 L1030.2,1080.1 L1031.2,1079.8 L1032.2,1080.0 L1033.2,1080.0 L1034.2,1080.4 L1035.2,1080.0 L1036.2,1079.4 L1037.2,1079.6 L1038.2,1080.7 L1039.2,1079.1 L1040.0,1080.4 L1040.2,1081.7 L1041.2,1082.2 L1042.2,1081.9 L1043.2,1081.7 L1044.2,1079.8 L1045.2,1082.0 L1046.2,1080.9 L1047.3,1080.0 L1048.3,1079.4 L1049.3,1079.6 L1050.3,1080.7 L1051.3,1081.5 L1052.3,1082.0 L1053.3,1082.9 L1054.3,1082.8 L1055.3,1081.0 L1056.3,1081.1 L1057.3,1080.7 L1058.3,1081.2 L1059.3,1080.2 L1060.3,1081.5 L1061.3,1080.8 L1062.3,1082.3 L1063.3,1081.9 L1064.3,1082.0 L1065.3,1082.4 L1066.3,1082.6 L1067.3,1083.1 L1068.3,1081.5 L1069.4,1081.0 L1070.4,1081.5 L1071.4,1082.1 L1072.4,1081.2 L1073.4,1082.4 L1074.4,1081.9 L1075.4,1081.3 L1076.4,1081.1 L1077.4,1081.3 L1078.4,1082.0 L1079.4,1082.1 L1080.4,1083.7 L1081.4,1083.8 L1082.4,1082.8 L1083.4,1083.2 L1084.4,1081.9 L1085.4,1082.5 L1086.4,1083.0 L1087.4,1082.2 L1088.4,1082.0 L1089.4,1082.0 L1090.4,1082.0 L1091.5,1082.4 L1092.5,1084.2 L1093.5,1082.3 L1094.5,1082.0 L1095.5,1082.1 L1096.5,1081.7 L1097.5,1082.4 L1098.5,1082.9 L1099.5,1082.2 L1100.5,1082.3 L1101.5,1083.4 L1101.5,1084.3 L1101.6,1085.3 L1101.6,1086.3 L1101.7,1087.3 L1101.7,1088.3 L1101.7,1089.3 L1101.8,1090.3 L1101.8,1091.3 L1101.8,1092.3 L1101.9,1093.3 L1101.9,1094.3 L1102.0,1095.3 L1102.0,1096.3 L1102.0,1097.3 L1102.1,1098.3 L1102.1,1099.3 L1102.2,1100.3 L1102.2,1101.3 L1102.3,1102.3 L1102.3,1103.3 L1102.3,1104.3 L1102.4,1105.3 L1102.4,1106.3 L1102.5,1107.3 L1102.5,1108.3 L1102.5,1109.3 L1102.6,1110.3 L1102.6,1111.3 L1102.7,1112.3 L1102.7,1113.3 L1102.8,1114.3 L1102.8,1115.3 L1102.9,1116.3 L1102.9,1117.3 L1102.9,1118.3 L1103.0,1119.3 L1103.0,1120.4 L1103.1,1121.4 L1103.1,1122.4 L1103.2,1123.4 L1103.2,1124.4 L1103.3,1125.4 L1103.3,1126.4 L1103.3,1127.4 L1103.4,1128.4 L1103.4,1129.4 L1103.5,1130.4 L1103.5,1131.4 L1103.6,1132.4 L1103.6,1133.4 L1103.7,1134.4 L1103.7,1135.4 L1103.8,1136.4 L1103.8,1137.4 L1103.9,1138.4 L1103.9,1139.4 L1103.9,1140.4 L1104.0,1141.4 L1104.0,1142.4 L1104.1,1143.4 L1104.1,1144.4 L1104.2,1145.4 L1104.2,1146.4 L1104.3,1147.4 L1104.3,1148.4 L1104.4,1149.4 L1104.4,1150.4 L1104.5,1151.4 L1104.5,1152.4 L1104.6,1153.4 L1104.6,1154.4 L1104.7,1155.4 L1104.7,1156.4 L1104.8,1157.4 L1104.8,1158.4 L1104.9,1159.4 L1104.9,1160.4 L1105.0,1161.4 L1105.0,1162.4 L1105.1,1163.4 L1105.1,1164.4 L1105.2,1165.4 L1105.2,1166.4 L1105.3,1167.4 L1105.3,1168.4 L1105.4,1169.4 L1105.4,1170.4 L1105.5,1171.4 L1105.5,1172.4 L1105.6,1173.4 L1105.6,1174.4 L1105.7,1175.4 L1105.7,1176.4 L1105.8,1177.4 L1105.8,1178.4 L1105.9,1179.4 L1105.9,1180.0 L1105.9,1180.4 L1106.0,1181.4 L1106.0,1182.4 L1106.1,1183.4 L1106.1,1184.4 L1106.2,1185.4 L1106.3,1186.4 L1106.3,1187.4 L1106.4,1188.4 L1106.4,1189.4 L1106.5,1190.4 L1106.6,1191.4 L1106.6,1192.4 L1106.7,1193.4 L1106.7,1194.4 L1106.8,1195.4 L1106.8,1196.4 L1106.9,1197.4 L1106.9,1198.4 L1107.0,1199.4 L1107.0,1200.0 L1107.0,1200.4 L1107.1,1201.4 L1107.1,1202.4 L1107.1,1203.4 L1107.1,1204.4 L1107.2,1205.4 L1107.2,1206.4 L1107.2,1207.4 L1107.2,1208.4 L1107.3,1209.4 L1107.3,1210.4 L1107.3,1211.4 L1107.3,1212.4 L1107.4,1213.5 L1107.4,1214.5 L1107.4,1215.5 L1107.4,1216.5 L1107.5,1217.5 L1107.5,1218.5 L1107.5,1219.5 L1107.5,1220.5 L1107.6,1221.5 L1107.6,1222.5 L1107.6,1223.5 L1107.7,1224.5 L1107.7,1225.2 L1107.7,1225.5 L1107.8,1226.5 L1107.8,1227.5 L1107.9,1228.5 L1107.9,1229.5 L1108.0,1230.5 L1108.0,1231.5 L1108.1,1232.5 L1108.2,1233.5 L1108.3,1234.5 L1108.3,1235.5 L1108.4,1236.5 L1108.5,1237.5 L1108.6,1238.5 L1108.7,1239.5 L1108.8,1240.5 L1108.9,1241.5 L1109.0,1242.5 L1109.1,1243.5 L1109.2,1244.5 L1109.3,1245.4 L1109.4,1246.4 L1109.5,1247.4 L1109.6,1248.4 L1109.7,1249.4 L1109.8,1250.4 L1109.9,1251.4 L1110.0,1252.4 L1110.1,1253.4 L1110.2,1254.4 L1110.3,1255.4 L1110.3,1255.9 L1110.4,1256.4 L1110.4,1257.4 L1110.5,1258.4 L1110.6,1259.4 L1110.7,1260.4 L1110.8,1261.4 L1110.9,1262.4 L1111.0,1263.4 L1111.1,1264.4 L1111.2,1265.4 L1111.3,1266.4 L1111.4,1267.4 L1111.5,1268.4 L1111.7,1269.4 L1111.8,1270.4 L1111.9,1271.4 L1112.0,1272.4 L1112.1,1273.4 L1112.2,1274.4 L1112.3,1275.4 L1112.4,1276.4 L1112.6,1277.4 L1112.7,1278.4 L1112.8,1279.3 L1112.9,1280.3 L1113.0,1281.3 L1113.2,1282.3 L1113.3,1283.3 L1113.4,1284.3 L1113.5,1284.9 L1113.6,1285.3 L1113.7,1286.3 L1113.8,1287.3 L1114.0,1288.3 L1114.1,1289.3 L1114.3,1290.3 L1114.5,1291.3 L1114.6,1292.2 L1114.8,1293.2 L1114.9,1294.2 L1115.1,1295.2 L1115.3,1296.2 L1115.5,1297.2 L1115.6,1298.2 L1115.8,1299.2 L1116.0,1300.1 L1116.2,1301.1 L1116.3,1302.1 L1116.5,1303.1 L1116.7,1304.1 L1116.8,1305.1 L1117.0,1306.1 L1117.1,1306.6 L1117.2,1307.1 L1117.3,1308.0 L1117.5,1309.0 L1117.6,1310.0 L1117.8,1311.0 L1117.9,1312.0 L1118.1,1313.0 L1118.2,1314.0 L1118.4,1315.0 L1118.5,1316.0 L1118.7,1317.0 L1118.8,1318.0 L1119.0,1319.0 L1119.2,1320.0 L1119.3,1321.0 L1119.5,1321.9 L1119.7,1322.9 L1119.9,1323.9 L1120.1,1324.9 L1120.3,1325.9 L1120.4,1326.5 L1120.5,1326.8 L1120.7,1327.8 L1120.9,1328.8 L1121.2,1329.7 L1121.5,1330.7 L1121.8,1331.6 L1122.0,1332.6 L1122.3,1333.6 L1122.7,1334.5 L1123.0,1335.5 L1123.3,1336.4 L1123.6,1337.4 L1124.0,1338.3 L1124.3,1339.3 L1124.6,1340.2 L1125.0,1341.2 L1125.3,1342.1 L1125.7,1343.1 L1126.0,1344.0 L1126.2,1344.6 L1126.3,1345.0 L1126.6,1345.9 L1127.0,1346.8 L1127.3,1347.8 L1127.6,1348.8 L1128.0,1349.7 L1128.3,1350.7 L1128.6,1351.6 L1128.9,1352.6 L1129.3,1353.5 L1129.6,1354.5 L1130.0,1355.4 L1130.3,1356.4 L1130.7,1357.3 L1131.1,1358.2 L1131.4,1359.2 L1131.8,1360.1 L1132.2,1361.0 L1132.6,1361.9 L1133.0,1362.8 L1133.4,1363.5 L1133.5,1363.7 L1133.9,1364.5 L1134.4,1365.4 L1134.9,1366.3 L1135.4,1367.1 L1136.0,1368.0 L1136.5,1368.2 L1137.1,1370.3 L1137.7,1370.3 L1138.2,1370.9 L1138.8,1372.7 L1139.4,1372.1 L1140.0,1374.0 L1140.6,1375.2 L1141.2,1376.2 L1141.8,1375.6 L1142.4,1375.9 L1142.4,1375.9 L1142.9,1376.8 L1143.5,1378.3 L1144.0,1379.1 L1144.6,1380.4 L1145.2,1381.5 L1145.7,1381.5 L1146.3,1381.5 L1146.9,1383.6 L1147.4,1383.2 L1148.0,1385.2 L1148.6,1387.0 L1149.2,1387.4 L1149.8,1388.7 L1150.4,1389.9 L1151.1,1390.3 L1151.5,1390.3 L1151.7,1390.9 L1152.4,1390.5 L1153.1,1392.1 L1153.8,1393.2 L1154.5,1394.1 L1155.2,1395.5 L1155.9,1396.1 L1156.7,1395.0 L1157.4,1396.8 L1158.2,1397.5 L1159.0,1399.0 L1159.7,1398.4 L1160.5,1398.6 L1161.3,1399.1 L1162.1,1399.2 L1162.3,1399.4 L1162.9,1399.6 L1163.6,1399.5 L1164.4,1400.8 L1165.2,1402.7 L1166.1,1401.1 L1166.9,1401.9 L1167.7,1404.1 L1168.5,1403.8 L1169.4,1404.8 L1170.2,1405.0 L1171.0,1405.9 L1171.8,1406.7 L1172.7,1407.1 L1173.5,1406.8 L1174.3,1407.0 L1175.0,1408.8 L1175.1,1408.5 L1176.0,1409.3 L1176.8,1409.9 L1177.6,1411.5 L1178.4,1410.6 L1179.2,1411.7 L1180.0,1410.5 L1180.8,1413.8 L1181.6,1414.1 L1182.4,1413.1 L1183.2,1413.8 L1184.0,1415.9 L1184.8,1415.5 L1185.6,1417.6 L1186.5,1417.1 L1187.3,1416.1 L1187.6,1418.1 L1188.2,1418.3 L1189.0,1418.2 L1189.9,1417.9 L1190.8,1418.2 L1191.7,1419.3 L1192.6,1419.8 L1193.5,1420.1 L1194.4,1421.9 L1195.3,1421.8 L1196.3,1422.8 L1197.2,1422.7 L1198.1,1423.3 L1199.0,1423.4 L1200.0,1422.7 L1200.9,1425.0 L1201.8,1424.3 L1202.8,1425.6 L1203.7,1426.8 L1204.7,1426.0 L1205.6,1427.3 L1205.7,1426.9 L1206.5,1427.6 L1207.5,1428.1 L1208.4,1428.5 L1209.3,1427.0 L1210.3,1427.8 L1211.2,1427.0 L1212.2,1428.4 L1213.1,1427.9 L1214.1,1428.7 L1215.0,1429.0 L1216.0,1429.7 L1216.9,1429.6 L1217.9,1431.7 L1218.8,1432.6 L1219.8,1430.6 L1220.8,1429.7 L1221.7,1430.2 L1222.7,1430.2 L1223.6,1431.7 L1224.6,1432.1 L1225.5,1432.5 L1225.6,1431.9 L1226.5,1432.1 L1227.4,1432.7 L1228.4,1432.9 L1229.4,1433.5 L1230.3,1434.9 L1231.3,1433.6 L1232.2,1433.7 L1233.2,1433.1 L1234.1,1435.9 L1235.1,1434.9 L1236.1,1434.8 L1237.0,1436.9 L1238.0,1436.7 L1239.0,1435.2 L1239.9,1435.9 L1240.9,1437.1 L1241.8,1437.0 L1242.8,1436.5 L1243.7,1439.0 L1243.8,1439.1 L1244.7,1437.6 L1245.7,1438.1 L1246.7,1438.6 L1247.6,1440.2 L1248.6,1440.9 L1249.6,1439.6 L1250.5,1438.8 L1251.5,1439.9 L1252.5,1440.0 L1253.4,1440.0 L1254.4,1440.5 L1255.4,1440.9 L1256.4,1443.1 L1257.3,1442.4 L1258.3,1443.0 L1259.3,1442.7 L1260.2,1443.2 L1261.2,1442.1 L1262.2,1442.9 L1263.2,1443.4 L1264.1,1443.9 L1265.1,1443.2 L1266.1,1444.4 L1267.1,1443.3 L1268.0,1443.5 L1269.0,1445.0 L1270.0,1445.1 L1270.8,1445.4 L1271.0,1445.2 L1272.0,1445.2 L1272.9,1444.0 L1273.9,1444.7 L1274.9,1444.1 L1275.9,1445.3 L1276.9,1445.3 L1277.8,1446.8 L1278.8,1445.3 L1279.8,1447.2 L1280.8,1447.1 L1281.8,1448.2 L1282.8,1447.2 L1283.8,1448.3 L1284.7,1446.4 L1285.7,1447.3 L1286.7,1447.2 L1287.7,1447.5 L1288.7,1447.8 L1289.7,1448.6 L1290.7,1449.2 L1291.7,1449.2 L1292.6,1448.3 L1293.6,1448.1 L1294.6,1449.7 L1295.6,1449.8 L1296.6,1451.0 L1297.6,1450.6 L1298.6,1450.8 L1299.6,1450.7 L1300.6,1449.9 L1301.6,1449.6 L1302.6,1450.0 L1303.5,1449.7 L1304.5,1450.7 L1305.5,1450.2 L1306.5,1451.2 L1307.0,1452.1 L1307.5,1451.4 L1308.5,1452.6 L1309.5,1452.7 L1310.5,1451.4 L1311.5,1451.0 L1312.5,1452.2 L1313.5,1451.4 L1314.5,1451.2 L1315.4,1451.9 L1316.4,1451.3 L1317.4,1451.8 L1318.4,1453.2 L1319.4,1452.7 L1320.4,1451.5 L1321.4,1453.0 L1322.4,1453.2 L1323.4,1455.0 L1324.4,1454.5 L1325.4,1453.6 L1326.4,1454.4 L1327.4,1454.9 L1328.4,1454.6 L1329.4,1455.7 L1330.4,1455.3 L1331.4,1455.5 L1332.4,1455.8 L1333.3,1455.3 L1334.3,1455.5 L1335.3,1456.0 L1336.3,1455.6 L1337.3,1456.7 L1338.3,1456.2 L1339.3,1456.5 L1340.3,1454.0 L1341.3,1456.8 L1342.3,1456.0 L1343.2,1455.8 L1343.3,1456.4 L1344.3,1456.8 L1345.3,1458.4 L1346.3,1456.8 L1347.3,1456.9 L1348.3,1456.6 L1349.3,1456.0 L1350.3,1456.5 L1351.3,1455.8 L1352.3,1457.3 L1353.3,1456.7 L1354.2,1457.8 L1355.2,1457.8 L1356.2,1457.0 L1357.2,1456.0 L1358.2,1457.4 L1359.2,1457.4 L1360.2,1456.8 L1361.2,1458.6 L1362.2,1457.6 L1363.2,1457.9 L1364.2,1456.9 L1365.2,1457.8 L1366.2,1458.2 L1367.2,1457.7 L1368.2,1458.7 L1369.2,1458.7 L1370.2,1459.6 L1371.2,1460.9 L1372.2,1461.1 L1373.2,1460.0 L1374.2,1460.3 L1375.2,1459.6 L1376.2,1458.6 L1377.2,1458.7 L1378.2,1458.0 L1379.2,1459.1 L1379.3,1459.4 L1380.2,1460.1 L1381.2,1459.1 L1382.2,1460.6 L1383.1,1461.2 L1384.1,1460.4 L1385.1,1461.0 L1386.1,1461.7 L1387.1,1461.4 L1388.1,1461.8 L1389.1,1460.7 L1390.1,1460.5 L1391.1,1460.4 L1392.1,1461.9 L1393.1,1461.2 L1394.1,1460.5 L1395.1,1461.1 L1396.1,1461.6 L1397.1,1461.4 L1398.1,1460.3 L1399.1,1460.7 L1400.1,1461.1 L1401.1,1461.5 L1402.1,1461.1 L1403.1,1462.5 L1404.1,1462.7 L1405.1,1461.8 L1406.1,1464.0 L1407.1,1461.6 L1408.1,1461.4 L1409.1,1463.2 L1410.1,1463.2 L1411.1,1463.4 L1412.1,1464.0 L1413.1,1464.2 L1414.1,1463.2 L1415.1,1462.2 L1416.1,1461.8 L1417.1,1462.5 L1418.1,1462.9 L1419.1,1464.3 L1420.1,1464.0 L1421.1,1463.6 L1422.1,1462.9 L1423.1,1463.9 L1424.1,1462.9 L1425.1,1463.6 L1426.1,1463.4 L1427.1,1463.1 L1428.1,1461.8 L1429.1,1463.3 L1430.1,1462.6 L1431.1,1462.5 L1432.1,1463.7 L1433.1,1463.2 L1433.6,1464.2 L1434.1,1465.3 L1435.1,1464.5 L1436.1,1465.3 L1437.1,1463.9 L1438.1,1464.8 L1439.1,1463.6 L1440.1,1463.5 L1441.1,1464.7 L1442.1,1465.6 L1443.1,1464.8 L1444.1,1466.3 L1445.1,1465.3 L1446.1,1465.0 L1447.1,1464.7 L1448.1,1464.2 L1449.1,1465.6 L1450.1,1465.4 L1451.1,1465.6 L1452.1,1465.0 L1453.1,1465.0 L1454.1,1465.6 L1455.1,1466.5 L1456.1,1467.1 L1457.1,1466.8 L1458.1,1466.4 L1459.1,1467.4 L1460.1,1467.2 L1461.1,1465.9 L1462.1,1465.2 L1463.1,1464.6 L1464.1,1465.7 L1465.1,1467.9 L1466.1,1466.8 L1467.1,1467.0 L1468.1,1467.0 L1469.1,1466.7 L1470.1,1467.5 L1471.1,1465.8 L1472.1,1467.2 L1473.1,1467.6 L1474.1,1466.6 L1475.1,1467.3 L1476.1,1466.1 L1477.1,1467.3 L1478.1,1468.4 L1479.1,1467.9 L1480.1,1468.3 L1481.1,1467.3 L1482.1,1467.6 L1483.1,1465.4 L1484.1,1466.0 L1485.1,1466.9 L1486.1,1468.3 L1487.1,1468.6 L1487.8,1467.2 L1488.1,1468.6 L1489.1,1467.7 L1490.1,1467.3 L1491.1,1468.5 L1492.1,1468.6 L1493.1,1467.5 L1494.1,1467.0 L1495.1,1467.6 L1496.1,1468.6 L1497.1,1469.3 L1498.1,1467.8 L1499.1,1468.7 L1500.1,1467.8 L1501.1,1468.3 L1502.1,1468.3 L1503.1,1469.4 L1504.1,1469.2 L1505.1,1469.8 L1506.1,1468.5 L1507.1,1468.1 L1508.1,1469.4 L1509.1,1469.7 L1510.1,1469.7 L1511.1,1468.9 L1512.1,1469.6 L1513.1,1468.6 L1514.1,1469.3 L1515.1,1470.2 L1516.1,1470.6 L1517.1,1470.8 L1518.1,1469.8 L1519.1,1469.9 L1520.1,1470.2 L1521.1,1469.5 L1522.1,1469.7 L1523.1,1470.9 L1524.1,1469.4 L1525.1,1471.3 L1526.1,1471.1 L1527.1,1471.4 L1528.1,1471.5 L1529.1,1471.5 L1530.1,1472.0 L1531.1,1471.0 L1532.1,1470.8 L1533.1,1471.3 L1534.1,1470.3 L1535.1,1471.0 L1536.1,1470.5 L1537.1,1470.2 L1538.1,1469.8 L1539.1,1470.0 L1540.1,1472.5 L1541.1,1471.0 L1542.1,1471.3 L1543.1,1472.3 L1544.1,1471.9 L1545.1,1471.7 L1546.1,1471.1 L1547.1,1470.9 L1548.1,1470.8 L1549.1,1470.6 L1550.1,1472.0 L1551.1,1472.3 L1552.1,1472.2 L1553.0,1471.7 L1553.0,1471.0 L1553.0,1470.0 L1553.0,1469.0 L1553.0,1468.0 L1553.0,1467.0 L1553.0,1466.0 L1553.1,1465.0 L1553.1,1464.0 L1553.1,1463.0 L1553.1,1462.0 L1553.1,1461.0 L1553.1,1460.0 L1553.1,1459.0 L1553.1,1458.0 L1553.1,1457.0 L1553.2,1456.0 L1553.2,1455.0 L1553.2,1454.0 L1553.2,1453.0 L1553.2,1452.0 L1553.2,1451.0 L1553.2,1449.9 L1553.3,1448.9 L1553.3,1447.9 L1553.3,1446.9 L1553.3,1445.9 L1553.3,1444.9 L1553.3,1443.9 L1553.4,1442.9 L1553.4,1441.9 L1553.4,1440.9 L1553.4,1439.9 L1553.4,1438.9 L1553.5,1437.9 L1553.5,1436.9 L1553.5,1435.9 L1553.5,1434.9 L1553.5,1433.9 L1553.6,1432.9 L1553.6,1431.9 L1553.6,1430.9 L1553.6,1429.9 L1553.7,1428.9 L1553.7,1427.9 L1553.7,1426.9 L1553.7,1425.9 L1553.7,1424.9 L1553.8,1423.9 L1553.8,1422.9 L1553.8,1421.9 L1553.8,1420.9 L1553.9,1419.9 L1553.9,1418.9 L1553.9,1417.9 L1553.9,1416.9 L1554.0,1415.9 L1554.0,1414.9 L1554.0,1413.9 L1554.0,1412.9 L1554.1,1411.9 L1554.1,1410.9 L1554.1,1409.9 L1554.2,1408.9 L1554.2,1407.9 L1554.2,1406.9 L1554.2,1405.9 L1554.3,1404.9 L1554.3,1403.9 L1554.3,1402.9 L1554.4,1401.9 L1554.4,1400.9 L1554.4,1399.9 L1554.4,1398.9 L1554.5,1397.9 L1554.5,1396.9 L1554.5,1395.9 L1554.6,1394.8 L1554.6,1393.8 L1554.6,1392.8 L1554.7,1391.8 L1554.7,1390.8 L1554.7,1389.8 L1554.8,1388.8 L1554.8,1387.8 L1554.8,1386.8 L1554.8,1385.8 L1554.9,1384.8 L1554.9,1383.8 L1554.9,1382.8 L1555.0,1381.8 L1555.0,1380.8 L1555.0,1379.8 L1555.1,1378.8 L1555.1,1377.8 L1555.1,1376.8 L1555.2,1375.8 L1555.2,1374.8 L1555.2,1373.8 L1555.3,1372.8 L1555.3,1371.8 L1555.3,1370.8 L1555.4,1369.8 L1555.4,1368.8 L1555.4,1367.8 L1555.5,1366.8 L1555.5,1365.8 L1555.5,1364.8 L1555.6,1363.8 L1555.6,1362.8 L1555.6,1361.8 L1555.7,1360.8 L1555.7,1360.0 L1555.7,1359.8 L1555.7,1358.8 L1555.8,1357.8 L1555.8,1356.8 L1555.9,1355.8 L1555.9,1354.8 L1555.9,1353.8 L1556.0,1352.8 L1556.0,1351.8 L1556.1,1350.8 L1556.1,1349.8 L1556.1,1348.8 L1556.2,1347.8 L1556.2,1346.8 L1556.3,1345.8 L1556.3,1344.8 L1556.4,1343.8 L1556.4,1342.8 L1556.5,1341.8 L1556.5,1340.8 L1556.6,1339.8 L1556.6,1338.8 L1556.7,1337.8 L1556.7,1336.8 L1556.8,1335.8 L1556.8,1334.8 L1556.9,1333.8 L1556.9,1332.8 L1557.0,1331.8 L1557.0,1330.8 L1557.1,1329.8 L1557.1,1328.8 L1557.2,1327.8 L1557.3,1326.8 L1557.3,1325.8 L1557.4,1324.8 L1557.4,1323.8 L1557.5,1322.8 L1557.5,1321.8 L1557.6,1320.8 L1557.6,1319.8 L1557.7,1318.8 L1557.8,1317.8 L1557.8,1316.8 L1557.9,1315.8 L1557.9,1314.8 L1558.0,1313.8 L1558.0,1313.2 L1558.0,1312.8 L1558.1,1311.8 L1558.1,1310.8 L1558.2,1309.8 L1558.2,1308.8 L1558.3,1307.8 L1558.4,1306.8 L1558.4,1305.8 L1558.5,1304.8 L1558.5,1303.8 L1558.6,1302.8 L1558.6,1301.8 L1558.7,1300.8 L1558.7,1299.8 L1558.8,1298.8 L1558.9,1297.8 L1558.9,1296.8 L1559.0,1295.8 L1559.0,1294.8 L1559.1,1293.8 L1559.1,1292.7 L1559.2,1291.7 L1559.3,1290.7 L1559.3,1289.7 L1559.4,1288.7 L1559.4,1287.7 L1559.5,1286.7 L1559.6,1285.7 L1559.6,1284.7 L1559.7,1283.7 L1559.7,1282.7 L1559.8,1281.7 L1559.9,1280.7 L1559.9,1279.7 L1560.0,1278.7 L1560.1,1277.7 L1560.1,1276.7 L1560.2,1275.7 L1560.3,1274.7 L1560.3,1273.7 L1560.4,1272.7 L1560.4,1271.7 L1560.5,1270.7 L1560.6,1269.7 L1560.6,1268.7 L1560.7,1268.0 L1560.7,1267.7 L1560.8,1266.7 L1560.9,1265.7 L1560.9,1264.7 L1561.0,1263.7 L1561.1,1262.7 L1561.1,1261.7 L1561.2,1260.7 L1561.3,1259.7 L1561.3,1258.7 L1561.4,1257.7 L1561.5,1256.7 L1561.5,1255.7 L1561.6,1254.7 L1561.7,1253.7 L1561.8,1252.7 L1561.8,1251.7 L1561.9,1250.7 L1562.0,1249.7 L1562.0,1248.7 L1562.1,1247.7 L1562.2,1246.7 L1562.3,1245.8 L1562.4,1244.8 L1562.4,1243.8 L1562.5,1242.8 L1562.6,1241.8 L1562.7,1240.8 L1562.8,1239.8 L1562.9,1238.8 L1562.9,1237.8 L1563.0,1236.8 L1563.1,1235.8 L1563.2,1234.8 L1563.3,1233.8 L1563.4,1232.8 L1563.5,1231.8 L1563.5,1231.8 L1563.6,1230.8 L1563.7,1229.8 L1563.8,1228.8 L1563.9,1227.8 L1564.0,1226.8 L1564.1,1225.8 L1564.3,1224.8 L1564.4,1223.8 L1564.5,1222.8 L1564.6,1221.8 L1564.7,1220.8 L1564.9,1219.8 L1565.0,1218.8 L1565.1,1217.8 L1565.3,1216.8 L1565.4,1215.9 L1565.5,1214.9 L1565.7,1213.9 L1565.8,1212.9 L1566.0,1211.9 L1566.1,1210.9 L1566.3,1209.9 L1566.4,1208.9 L1566.6,1207.9 L1566.7,1206.9 L1566.9,1205.9 L1567.1,1205.0 L1567.1,1204.7 L1567.2,1204.0 L1567.4,1203.0 L1567.6,1202.0 L1567.7,1201.0 L1567.9,1200.0 L1568.1,1199.0 L1568.3,1198.1 L1568.5,1197.1 L1568.7,1196.1 L1568.8,1195.1 L1569.0,1194.1 L1569.2,1193.1 L1569.4,1192.1 L1569.7,1191.2 L1569.9,1190.2 L1570.1,1189.2 L1570.3,1188.2 L1570.5,1187.2 L1570.7,1186.3 L1571.0,1185.3 L1571.2,1184.3 L1571.4,1183.3 L1571.7,1182.4 L1571.9,1181.4 L1572.2,1180.4 L1572.4,1179.4 L1572.7,1178.5 L1572.9,1177.5 L1573.2,1176.5 L1573.4,1175.7 L1573.4,1175.6 L1573.7,1174.6 L1574.0,1173.7 L1574.2,1172.7 L1574.5,1171.7 L1574.8,1170.8 L1575.1,1169.8 L1575.4,1168.8 L1575.7,1167.8 L1576.0,1166.9 L1576.3,1165.9 L1576.6,1165.0 L1576.9,1164.0 L1577.3,1163.0 L1577.6,1162.1 L1577.9,1161.1 L1578.3,1160.2 L1578.6,1159.2 L1579.0,1158.3 L1579.3,1157.4 L1579.7,1156.4 L1580.1,1155.5 L1580.5,1154.6 L1580.9,1153.7 L1581.3,1152.8 L1581.7,1151.9 L1582.1,1151.0 L1582.4,1150.4 L1582.5,1150.1 L1583.0,1149.2 L1583.4,1148.4 L1583.9,1147.5 L1584.4,1146.7 L1585.0,1145.8 L1585.5,1145.0 L1586.0,1144.1 L1586.6,1144.5 L1587.2,1143.3 L1587.7,1141.2 L1588.3,1140.1 L1588.9,1141.2 L1589.6,1138.4 L1590.2,1138.6 L1590.8,1137.5 L1591.4,1137.0 L1592.1,1136.6 L1592.7,1135.3 L1593.3,1133.9 L1594.0,1134.8 L1594.6,1133.0 L1595.1,1132.3 L1595.3,1132.7 L1595.9,1130.8 L1596.6,1130.8 L1597.2,1130.2 L1597.9,1128.7 L1598.6,1128.2 L1599.3,1127.9 L1600.0,1126.3 L1600.7,1126.8 L1601.4,1125.7 L1602.1,1124.2 L1602.8,1123.3 L1603.5,1121.1 L1604.3,1121.5 L1605.0,1121.0 L1605.8,1120.4 L1606.6,1120.2 L1607.3,1119.6 L1607.8,1120.7 L1608.1,1119.5 L1608.9,1119.1 L1609.7,1118.4 L1610.5,1116.9 L1611.4,1116.1 L1612.2,1116.5 L1613.1,1114.7 L1614.0,1114.6 L1614.8,1114.8 L1615.7,1112.9 L1616.6,1112.6 L1617.5,1112.0 L1618.4,1112.2 L1619.3,1113.6 L1620.2,1112.2 L1621.1,1111.7 L1622.0,1109.7 L1623.0,1109.0 L1623.9,1109.3 L1624.0,1111.3 L1624.8,1111.1 L1625.7,1109.0 L1626.7,1109.1 L1627.6,1109.5 L1628.6,1108.7 L1629.5,1109.1 L1630.5,1108.9 L1631.5,1108.2 L1632.4,1109.0 L1633.4,1107.6 L1634.4,1108.1 L1635.4,1107.0 L1636.4,1105.3 L1637.3,1107.3 L1638.3,1107.4 L1639.3,1106.6 L1640.3,1105.8 L1641.3,1106.1 L1642.3,1107.3 L1643.3,1105.4 L1644.3,1105.5 L1645.3,1104.8 L1645.7,1104.7 L1646.2,1104.4 L1647.2,1105.8 L1648.2,1104.6 L1649.2,1103.1 L1650.2,1103.9 L1651.2,1103.5 L1652.2,1103.6 L1653.2,1104.7 L1654.1,1102.9 L1655.1,1105.0 L1656.1,1105.9 L1657.1,1104.3 L1658.1,1104.3 L1659.1,1103.4 L1660.1,1103.4 L1661.1,1102.6 L1662.1,1101.6 L1663.1,1101.9 L1664.1,1103.7 L1665.1,1103.4 L1666.1,1102.2 L1667.1,1102.8 L1668.1,1101.5 L1669.1,1102.0 L1670.1,1100.8 L1671.1,1100.8 L1672.1,1101.2 L1673.1,1101.8 L1674.1,1101.7 L1674.7,1100.6 L1675.1,1100.4 L1676.1,1100.5 L1677.1,1101.0 L1678.1,1101.3 L1679.1,1101.9 L1680.1,1102.5 L1681.1,1100.5 L1682.1,1101.5 L1683.1,1101.1 L1684.1,1100.8 L1685.1,1100.8 L1686.1,1101.6 L1687.1,1100.7 L1688.1,1099.0 L1689.1,1100.1 L1690.1,1099.2 L1691.0,1100.5 L1692.0,1100.1 L1693.0,1098.8 L1694.0,1099.4 L1695.0,1098.9 L1696.0,1099.3 L1697.0,1100.7 L1698.0,1099.5 L1699.0,1099.7 L1700.0,1100.3 L1701.0,1099.1 L1702.0,1099.0 L1703.0,1096.9 L1704.0,1098.7 L1705.0,1098.9 L1706.0,1099.4 L1707.0,1098.3 L1708.0,1099.1 L1709.0,1099.3 L1710.0,1098.3 L1711.0,1097.7 L1712.0,1096.8 L1713.0,1098.2 L1714.0,1098.2 L1715.0,1097.1 L1716.0,1098.3 L1716.3,1098.0 L1717.0,1098.2 L1718.0,1099.9 L1719.0,1098.7 L1720.0,1097.1 L1721.0,1096.8 L1722.0,1098.2 L1723.0,1098.0 L1724.0,1098.4 L1725.0,1098.0 L1726.0,1098.8 L1727.0,1099.0 L1728.1,1098.8 L1729.1,1098.3 L1730.1,1098.2 L1731.1,1098.5 L1732.1,1098.6 L1733.1,1098.9 L1734.1,1096.6 L1735.1,1097.9 L1736.1,1099.3 L1737.1,1099.3 L1738.1,1098.7 L1739.1,1098.4 L1740.1,1098.9 L1741.1,1098.4 L1742.1,1099.9 L1743.1,1099.7 L1744.1,1099.2 L1745.1,1099.0 L1746.1,1098.4 L1747.1,1097.9 L1748.1,1098.2 L1749.1,1098.2 L1750.1,1097.6 L1751.1,1097.7 L1752.1,1098.0 L1753.1,1098.1 L1754.1,1098.0 L1755.1,1098.9 L1756.1,1098.5 L1757.1,1099.2 L1758.1,1098.6 L1759.1,1099.2 L1760.1,1098.6 L1761.1,1097.9 L1762.1,1099.0 L1763.1,1099.1 L1764.1,1098.7 L1765.1,1099.1 L1766.1,1099.1 L1767.1,1100.7 L1768.1,1099.1 L1769.1,1099.7 L1770.1,1099.7 L1771.1,1099.4 L1772.1,1099.2 L1773.1,1097.7 L1774.1,1099.5 L1775.1,1098.1 L1776.2,1099.4 L1777.2,1099.4 L1778.2,1099.9 L1779.2,1100.4 L1780.2,1100.4 L1781.2,1100.2 L1782.2,1100.2 L1783.2,1100.5 L1783.2,1101.9 L1784.2,1100.4 L1785.2,1099.8 L1786.2,1099.2 L1787.2,1099.3 L1788.2,1099.7 L1789.2,1100.5 L1790.2,1100.7 L1791.2,1100.4 L1792.2,1100.5 L1793.2,1101.8 L1794.2,1102.1 L1795.2,1101.9 L1796.2,1102.2 L1797.2,1101.4 L1798.2,1101.6 L1799.2,1099.5 L1800.2,1099.8 L1801.2,1099.7 L1802.2,1099.6 L1803.2,1100.5 L1804.2,1099.3 L1805.2,1101.8 L1806.2,1101.9 L1807.2,1101.0 L1808.2,1101.4 L1809.2,1101.9 L1810.2,1101.4 L1811.2,1100.9 L1812.2,1100.4 L1813.2,1099.8 L1814.2,1100.1 L1815.2,1099.7 L1816.2,1100.4 L1817.2,1099.9 L1818.2,1100.9 L1819.2,1100.0 L1820.2,1100.9 L1821.2,1101.6 L1822.2,1101.2 L1823.2,1102.4 L1824.2,1102.8 L1825.2,1102.9 L1826.2,1102.7 L1827.2,1101.8 L1828.2,1103.4 L1829.2,1103.0 L1830.2,1103.9 L1831.2,1102.0 L1832.2,1101.9 L1833.2,1102.0 L1834.2,1103.0 L1835.2,1103.3 L1836.2,1102.2 L1837.2,1102.2 L1837.4,1102.4 L1838.2,1102.5 L1839.2,1101.9 L1840.2,1101.6 L1841.2,1102.3 L1842.2,1102.9 L1843.2,1101.8 L1844.2,1102.7 L1845.2,1102.4 L1846.2,1102.3 L1847.2,1102.2 L1848.2,1102.5 L1849.2,1101.0 L1850.2,1101.1 L1851.3,1100.6 L1852.3,1101.5 L1853.3,1103.2 L1854.3,1101.8 L1855.3,1102.3 L1856.3,1103.1 L1857.3,1102.6 L1858.3,1103.0 L1859.3,1102.0 L1860.3,1101.7 L1861.3,1101.5 L1862.3,1103.0 L1863.3,1103.7 L1864.3,1103.2 L1865.3,1102.4 L1866.3,1102.3 L1867.3,1102.3 L1868.3,1102.6 L1869.3,1102.6 L1870.3,1103.3 L1871.3,1103.0 L1872.3,1102.9 L1873.3,1104.6 L1874.3,1103.5 L1875.3,1103.3 L1876.3,1104.7 L1877.3,1103.3 L1878.3,1103.8 L1879.3,1101.9 L1880.3,1104.1 L1881.3,1103.5 L1882.3,1103.6 L1883.3,1103.2 L1884.3,1101.6 L1885.3,1103.3 L1886.3,1104.0 L1887.3,1105.9 L1888.3,1103.9 L1889.3,1105.1 L1890.3,1104.3 L1891.3,1105.4 L1891.7,1104.1 L1892.3,1104.8 L1893.3,1103.7 L1894.3,1102.4 L1895.3,1103.6 L1896.3,1102.9 L1897.3,1103.6 L1898.3,1104.3 L1899.3,1104.2 L1900.3,1104.0 L1901.3,1104.8 L1902.3,1105.3 L1903.3,1105.6 L1904.3,1103.6 L1905.3,1104.5 L1906.3,1104.2 L1907.3,1103.6 L1908.3,1104.1 L1909.3,1104.6 L1910.3,1104.4 L1911.3,1104.6 L1912.3,1105.7 L1913.3,1104.9 L1914.3,1105.0 L1915.3,1105.6 L1916.3,1104.7 L1917.3,1104.0 L1918.4,1103.0 L1919.4,1102.6 L1920.4,1102.5 L1921.4,1103.2 L1922.4,1105.1 L1923.4,1104.1 L1924.4,1103.0 L1925.4,1103.2 L1926.4,1104.2 L1927.4,1104.1 L1928.4,1105.4 L1929.4,1104.7 L1930.0,1103.8 L1930.4,1104.3 L1931.4,1104.2 L1932.4,1105.7 L1933.4,1106.3 L1934.4,1105.5 L1935.4,1106.4 L1936.4,1104.4 L1937.4,1106.3 L1938.4,1105.7 L1939.4,1106.7 L1940.4,1105.9 L1941.4,1103.8 L1942.4,1104.7 L1943.4,1105.4 L1944.4,1105.0 L1945.4,1104.7 L1946.4,1105.4 L1947.4,1105.8 L1948.4,1106.4 L1949.4,1105.4 L1950.4,1105.8 L1951.4,1105.4 L1952.4,1105.0 L1953.4,1105.0 L1954.4,1106.8 L1955.4,1106.4 L1956.4,1106.2 L1957.4,1106.6 L1958.4,1106.4 L1959.4,1106.8 L1960.4,1106.8 L1961.4,1106.6 L1962.4,1107.2 L1963.4,1106.2 L1964.4,1107.2 L1965.4,1105.8 L1966.4,1106.7 L1967.4,1107.1 L1968.4,1106.9 L1969.4,1106.3 L1970.4,1106.0 L1971.4,1106.3 L1972.4,1106.4 L1973.4,1106.1 L1974.4,1106.7 L1975.4,1106.4 L1976.4,1107.3 L1977.4,1106.8 L1978.4,1107.2 L1979.4,1107.7 L1980.4,1107.2 L1981.4,1106.9 L1982.4,1105.8 L1983.4,1107.8 L1984.4,1107.2 L1985.4,1106.7 L1986.4,1108.3 L1987.4,1107.7 L1988.4,1106.9 L1989.4,1107.6 L1990.4,1108.3 L1991.4,1107.5 L1992.4,1107.6 L1993.4,1107.2 L1994.4,1108.6 L1995.5,1109.3 L1996.5,1109.1 L1997.5,1109.0 L1998.5,1108.9 L1999.5,1108.2 L2000.5,1109.5 L2001.5,1108.0 L2002.5,1108.4 L2003.5,1108.2 L2004.5,1107.9 L2005.5,1109.2 L2006.5,1108.0 L2007.5,1108.8 L2008.5,1106.9 L2009.5,1107.8 L2010.5,1109.0 L2011.5,1108.1 L2012.5,1108.2 L2013.5,1107.0 L2014.5,1109.0 L2015.5,1107.9 L2016.5,1109.0 L2017.5,1108.7 L2018.5,1109.5 L2019.5,1108.7 L2020.5,1109.6 L2021.5,1109.2 L2022.5,1109.1 L2023.5,1109.4 L2024.5,1107.8 L2025.5,1108.9 L2026.5,1108.9 L2027.5,1110.0 L2028.5,1110.4 L2029.5,1109.4 L2030.5,1109.0 L2031.5,1111.5 L2032.5,1109.1 L2033.5,1110.7 L2034.5,1110.2 L2035.5,1110.1 L2036.5,1108.2 L2036.5,1110.5 L2036.5,1111.5 L2036.6,1112.5 L2036.6,1113.5 L2036.6,1114.5 L2036.7,1115.5 L2036.7,1116.5 L2036.7,1117.5 L2036.7,1118.5 L2036.8,1119.5 L2036.8,1120.5 L2036.8,1121.5 L2036.9,1122.5 L2036.9,1123.5 L2036.9,1124.5 L2037.0,1125.5 L2037.0,1126.5 L2037.0,1127.5 L2037.1,1128.5 L2037.1,1129.5 L2037.1,1130.5 L2037.2,1131.5 L2037.2,1132.5 L2037.2,1133.5 L2037.3,1134.5 L2037.3,1135.5 L2037.4,1136.5 L2037.4,1137.5 L2037.4,1138.5 L2037.5,1139.5 L2037.5,1140.6 L2037.6,1141.6 L2037.6,1142.6 L2037.7,1143.6 L2037.7,1144.6 L2037.7,1145.6 L2037.8,1146.6 L2037.8,1147.6 L2037.9,1148.6 L2037.9,1149.6 L2038.0,1150.6 L2038.0,1151.6 L2038.1,1152.6 L2038.1,1153.6 L2038.2,1154.6 L2038.2,1155.6 L2038.3,1156.6 L2038.3,1157.6 L2038.4,1158.6 L2038.4,1159.6 L2038.5,1160.6 L2038.5,1161.6 L2038.6,1162.6 L2038.6,1163.6 L2038.7,1164.6 L2038.7,1165.6 L2038.8,1166.6 L2038.8,1167.6 L2038.9,1168.6 L2038.9,1169.6 L2039.0,1170.6 L2039.1,1171.6 L2039.1,1172.6 L2039.2,1173.6 L2039.2,1174.6 L2039.3,1175.6 L2039.3,1176.6 L2039.4,1177.6 L2039.4,1178.6 L2039.5,1179.6 L2039.6,1180.6 L2039.6,1181.6 L2039.7,1182.6 L2039.7,1183.6 L2039.8,1184.6 L2039.8,1185.6 L2039.9,1186.6 L2040.0,1187.6 L2040.0,1188.6 L2040.1,1189.6 L2040.1,1190.6 L2040.2,1191.6 L2040.3,1192.6 L2040.3,1193.6 L2040.4,1194.6 L2040.4,1195.6 L2040.5,1196.6 L2040.6,1197.6 L2040.6,1198.6 L2040.7,1199.6 L2040.7,1200.0 L2040.7,1200.6 L2040.8,1201.6 L2040.9,1202.6 L2040.9,1203.6 L2041.0,1204.6 L2041.1,1205.6 L2041.1,1206.6 L2041.2,1207.6 L2041.3,1208.6 L2041.4,1209.6 L2041.5,1210.6 L2041.5,1211.6 L2041.6,1212.6 L2041.7,1213.6 L2041.8,1214.6 L2041.8,1215.6 L2041.9,1216.6 L2042.0,1217.6 L2042.1,1218.6 L2042.2,1219.6 L2042.2,1220.0 L2042.2,1220.6 L2042.3,1221.5 L2042.4,1222.5 L2042.5,1223.5 L2042.6,1224.5 L2042.6,1225.5 L2042.7,1226.5 L2042.8,1227.5 L2042.9,1228.5 L2043.0,1229.5 L2043.1,1230.5 L2043.1,1231.5 L2043.2,1232.5 L2043.3,1233.5 L2043.4,1234.5 L2043.4,1235.5 L2043.5,1236.2 L2043.5,1236.5 L2043.6,1237.5 L2043.7,1238.5 L2043.7,1239.5 L2043.8,1240.5 L2043.9,1241.5 L2044.0,1242.5 L2044.0,1243.5 L2044.1,1244.5 L2044.2,1245.5 L2044.2,1246.5 L2044.3,1247.5 L2044.4,1248.5 L2044.4,1249.5 L2044.5,1250.5 L2044.6,1251.5 L2044.6,1252.5 L2044.7,1253.5 L2044.7,1254.5 L2044.8,1255.5 L2044.9,1256.5 L2044.9,1257.5 L2045.0,1258.5 L2045.1,1259.5 L2045.1,1260.5 L2045.2,1261.5 L2045.3,1262.5 L2045.3,1263.5 L2045.4,1264.5 L2045.5,1265.5 L2045.5,1266.5 L2045.6,1267.5 L2045.7,1268.5 L2045.7,1269.5 L2045.8,1270.5 L2045.9,1271.5 L2045.9,1272.5 L2046.0,1273.5 L2046.1,1274.5 L2046.2,1275.5 L2046.2,1276.5 L2046.3,1277.5 L2046.4,1278.5 L2046.5,1279.5 L2046.6,1280.5 L2046.6,1281.5 L2046.7,1282.5 L2046.8,1283.5 L2046.9,1284.5 L2047.0,1285.5 L2047.1,1286.5 L2047.1,1286.8 L2047.2,1287.5 L2047.3,1288.5 L2047.4,1289.5 L2047.5,1290.5 L2047.6,1291.5 L2047.7,1292.5 L2047.8,1293.5 L2047.9,1294.5 L2048.0,1295.5 L2048.1,1296.5 L2048.2,1297.5 L2048.3,1298.5 L2048.5,1299.5 L2048.6,1300.4 L2048.7,1301.4 L2048.8,1302.4 L2049.0,1303.4 L2049.1,1304.4 L2049.2,1305.4 L2049.3,1306.4 L2049.5,1307.4 L2049.6,1308.4 L2049.8,1309.4 L2049.9,1310.4 L2050.0,1311.4 L2050.2,1312.4 L2050.3,1313.4 L2050.5,1314.3 L2050.6,1315.3 L2050.7,1315.7 L2050.8,1316.3 L2051.0,1317.3 L2051.1,1318.3 L2051.3,1319.3 L2051.4,1320.3 L2051.6,1321.3 L2051.8,1322.2 L2052.0,1323.2 L2052.1,1324.2 L2052.3,1325.2 L2052.5,1326.2 L2052.7,1327.2 L2052.9,1328.2 L2053.1,1329.1 L2053.3,1330.1 L2053.5,1331.1 L2053.7,1332.1 L2053.9,1333.1 L2054.1,1334.1 L2054.3,1335.0 L2054.5,1336.0 L2054.8,1337.0 L2055.0,1338.0 L2055.2,1339.0 L2055.4,1339.9 L2055.6,1340.9 L2055.9,1341.9 L2056.1,1342.9 L2056.3,1343.8 L2056.6,1344.8 L2056.8,1345.8 L2057.1,1346.8 L2057.3,1347.7 L2057.5,1348.7 L2057.8,1349.7 L2057.9,1350.1 L2058.0,1350.6 L2058.3,1351.6 L2058.5,1352.6 L2058.8,1353.5 L2059.1,1354.5 L2059.4,1355.5 L2059.6,1356.4 L2059.9,1357.4 L2060.2,1358.4 L2060.5,1359.3 L2060.8,1360.3 L2061.1,1361.2 L2061.4,1362.2 L2061.7,1363.2 L2062.0,1364.1 L2062.4,1365.1 L2062.7,1366.0 L2063.0,1366.9 L2063.4,1367.9 L2063.7,1368.8 L2064.1,1369.7 L2064.2,1370.0 L2064.5,1370.7 L2064.8,1371.6 L2065.2,1372.5 L2065.6,1373.4 L2066.1,1374.3 L2066.5,1375.2 L2066.9,1376.1 L2067.4,1377.0 L2067.9,1377.9 L2068.3,1378.8 L2068.8,1379.7 L2069.3,1380.6 L2069.7,1381.4 L2070.2,1382.3 L2070.7,1383.2 L2071.2,1384.1 L2071.7,1385.0 L2072.1,1385.9 L2072.6,1386.8 L2073.1,1387.6 L2073.3,1388.1 L2073.5,1388.5 L2074.0,1389.4 L2074.4,1390.3 L2074.9,1391.3 L2075.3,1392.2 L2075.7,1393.1 L2076.2,1394.0 L2076.6,1394.9 L2077.0,1395.8 L2077.5,1396.8 L2077.9,1397.7 L2078.4,1398.6 L2078.8,1399.5 L2079.3,1400.3 L2079.8,1401.2 L2080.3,1402.1 L2080.8,1402.9 L2081.3,1403.8 L2081.9,1405.7 L2082.3,1407.0 L2082.4,1406.6 L2083.0,1407.5 L2083.6,1406.8 L2084.2,1407.6 L2084.9,1408.4 L2085.6,1409.4 L2086.3,1410.6 L2087.0,1411.8 L2087.7,1411.4 L2088.4,1412.1 L2089.2,1412.0 L2089.9,1413.1 L2090.7,1414.0 L2091.4,1415.2 L2092.2,1416.0 L2092.9,1416.8 L2093.7,1416.5 L2094.5,1416.7 L2095.0,1418.0 L2095.2,1416.6 L2096.0,1418.7 L2096.7,1419.1 L2097.5,1419.6 L2098.2,1422.2 L2099.0,1421.4 L2099.8,1422.1 L2100.5,1421.6 L2101.3,1423.6 L2102.1,1424.0 L2102.9,1423.7 L2103.7,1424.5 L2104.5,1424.8 L2105.3,1426.2 L2106.1,1426.4 L2106.9,1427.8 L2107.7,1427.4 L2108.5,1428.8 L2109.4,1428.6 L2110.2,1429.4 L2111.0,1431.8 L2111.3,1430.2 L2111.8,1431.7 L2112.7,1431.3 L2113.5,1432.7 L2114.4,1431.8 L2115.3,1434.0 L2116.1,1434.8 L2117.0,1435.0 L2117.9,1434.8 L2118.8,1434.8 L2119.7,1435.1 L2120.6,1436.5 L2121.5,1435.9 L2122.4,1435.9 L2123.3,1438.7 L2124.1,1437.5 L2125.0,1437.9 L2125.9,1438.0 L2126.8,1438.3 L2127.5,1438.1 L2127.6,1438.9 L2128.5,1438.9 L2129.3,1440.7 L2130.2,1441.8 L2131.0,1443.5 L2131.8,1442.2 L2132.7,1441.9 L2133.5,1441.5 L2134.3,1443.5 L2135.1,1445.5 L2136.0,1446.0 L2136.8,1446.9 L2137.7,1446.4 L2138.5,1447.1 L2139.4,1448.2 L2140.2,1447.1 L2140.3,1446.6 L2141.2,1447.3 L2142.1,1447.0 L2143.0,1448.6 L2144.0,1449.6 L2144.9,1449.0 L2145.8,1451.2 L2146.8,1450.6 L2147.7,1451.2 L2148.7,1451.5 L2149.6,1451.2 L2150.6,1450.9 L2151.6,1451.4 L2152.5,1451.2 L2153.5,1450.9 L2154.5,1453.0 L2155.5,1453.4 L2156.5,1453.4 L2157.4,1453.7 L2158.4,1454.0 L2159.4,1453.3 L2160.4,1453.5 L2161.3,1453.9 L2162.3,1453.5 L2163.3,1455.0 L2163.7,1455.0 L2164.2,1453.8 L2165.2,1454.9 L2166.2,1454.1 L2167.1,1455.2 L2168.1,1456.3 L2169.1,1457.9 L2170.0,1458.2 L2171.0,1458.7 L2171.9,1458.2 L2172.9,1459.5 L2173.9,1458.8 L2174.8,1457.9 L2175.8,1458.1 L2176.8,1458.9 L2177.8,1458.6 L2178.7,1459.2 L2179.7,1459.7 L2180.7,1460.2 L2181.6,1458.8 L2182.6,1459.9 L2183.6,1460.6 L2184.5,1461.2 L2185.5,1461.5 L2186.5,1461.5 L2187.5,1462.0 L2188.4,1462.3 L2189.4,1461.2 L2190.4,1460.0 L2190.8,1462.7 L2191.4,1462.5 L2192.3,1462.1 L2193.3,1462.9 L2194.3,1463.5 L2195.3,1463.8 L2196.2,1462.8 L2197.2,1464.0 L2198.2,1463.4 L2199.2,1463.8 L2200.1,1464.5 L2201.1,1464.2 L2202.1,1463.8 L2203.1,1464.0 L2204.0,1464.4 L2205.0,1464.5 L2206.0,1466.2 L2207.0,1465.2 L2208.0,1465.8 L2208.9,1465.2 L2209.9,1464.9 L2210.9,1467.3 L2211.9,1467.7 L2212.9,1468.3 L2213.9,1468.0 L2214.8,1469.7 L2215.8,1467.9 L2216.8,1468.9 L2217.8,1469.1 L2218.8,1467.9 L2219.8,1469.3 L2220.7,1467.8 L2221.7,1468.7 L2222.7,1469.0 L2223.7,1469.4 L2224.7,1469.1 L2225.7,1470.7 L2226.6,1471.3 L2227.0,1469.8 L2227.6,1470.6 L2228.6,1471.4 L2229.6,1470.2 L2230.6,1470.9 L2231.6,1469.8 L2232.6,1470.6 L2233.6,1471.6 L2234.6,1472.5 L2235.5,1471.2 L2236.5,1471.9 L2237.5,1472.8 L2238.5,1472.7 L2239.5,1472.3 L2240.5,1472.2 L2241.5,1471.6 L2242.5,1470.9 L2243.5,1471.9 L2244.5,1472.1 L2245.5,1472.6 L2246.5,1472.4 L2247.5,1472.7 L2248.4,1473.7 L2249.4,1472.4 L2250.4,1471.9 L2251.4,1473.9 L2252.4,1473.2 L2253.4,1473.0 L2254.4,1473.8 L2255.4,1473.9 L2256.4,1473.1 L2257.4,1472.9 L2258.4,1474.3 L2259.4,1474.7 L2260.4,1474.5 L2261.4,1474.2 L2262.4,1474.8 L2263.2,1474.2 L2263.4,1474.1 L2264.3,1474.8 L2265.3,1474.6 L2266.3,1476.3 L2267.3,1476.8 L2268.3,1476.7 L2269.3,1475.3 L2270.3,1474.2 L2271.3,1475.5 L2272.3,1476.4 L2273.3,1476.1 L2274.3,1476.9 L2275.3,1475.9 L2276.3,1477.7 L2277.3,1477.4 L2278.2,1479.0 L2279.2,1478.0 L2280.2,1475.4 L2281.2,1476.8 L2282.2,1475.9 L2283.2,1476.2 L2284.2,1477.6 L2285.2,1478.5 L2286.2,1478.5 L2287.2,1478.6 L2288.2,1477.2 L2289.2,1476.4 L2290.2,1476.8 L2291.2,1476.9 L2292.2,1477.6 L2293.2,1479.3 L2294.2,1479.0 L2295.2,1478.1 L2296.2,1479.6 L2297.1,1479.6 L2298.1,1479.3 L2299.1,1481.6 L2299.3,1480.3 L2300.1,1480.2 L2301.1,1481.3 L2302.1,1478.6 L2303.1,1479.9 L2304.1,1479.1 L2305.1,1478.5 L2306.1,1479.5 L2307.1,1479.3 L2308.1,1479.6 L2309.1,1478.6 L2310.1,1480.1 L2311.1,1479.6 L2312.1,1480.4 L2313.1,1480.7 L2314.1,1480.4 L2315.1,1481.0 L2316.1,1480.2 L2317.1,1480.2 L2318.1,1479.7 L2319.1,1479.7 L2320.1,1480.4 L2321.1,1479.6 L2322.1,1480.7 L2323.1,1480.9 L2324.1,1482.0 L2325.1,1480.0 L2326.1,1481.1 L2327.1,1480.9 L2328.1,1481.2 L2329.1,1481.0 L2330.1,1481.2 L2331.1,1481.2 L2332.1,1481.1 L2333.1,1481.8 L2334.1,1481.4 L2335.1,1482.7 L2335.5,1483.0 L2336.1,1480.1 L2337.1,1482.0 L2338.1,1481.9 L2339.1,1481.8 L2340.1,1481.0 L2341.1,1481.3 L2342.1,1482.6 L2343.1,1482.6 L2344.1,1482.5 L2345.1,1482.3 L2346.1,1481.8 L2347.1,1482.5 L2348.1,1482.4 L2349.1,1482.7 L2350.1,1481.5 L2351.1,1482.5 L2352.1,1482.1 L2353.1,1484.8 L2354.1,1484.5 L2355.1,1484.1 L2356.1,1483.7 L2357.1,1484.7 L2358.1,1484.0 L2359.1,1484.0 L2360.1,1483.7 L2361.0,1485.0 L2362.0,1483.5 L2363.0,1483.6 L2364.0,1485.8 L2365.0,1485.0 L2366.0,1484.4 L2367.0,1484.8 L2368.0,1486.1 L2369.0,1486.0 L2370.0,1485.6 L2371.0,1486.0 L2371.7,1486.2 L2372.0,1485.8 L2373.0,1486.3 L2374.0,1486.5 L2375.0,1486.2 L2376.0,1487.1 L2377.0,1486.8 L2378.0,1486.3 L2379.0,1486.1 L2380.0,1486.4 L2381.0,1486.5 L2382.0,1486.9 L2383.0,1486.1 L2384.0,1486.6 L2385.0,1487.9 L2386.0,1486.4 L2387.0,1486.0 L2388.0,1486.9 L2389.0,1486.6 L2390.0,1486.5 L2391.0,1487.0"/>
<path stroke="#0000ff" d="M340.0,1472.3 L617.3,1473.1 L618.2,1467.6 L1101.2,1467.6 L1102.3,1470.6 L1104.0,1471.2 L1105.0,1472.2 L1105.8,1471.0 L1106.8,1471.8 L1553.0,1473.5 L1554.0,1468.1 L2037.4,1468.5 L2038.4,1472.6 L2391.0,1473.4"/>
</g>
<line x1="621.3" y1="256.7" x2="621.3" y2="424.2" stroke="#000" stroke-width="2"/><path d="M611.4,423.2 L631.1999999999999,423.2 L621.3,461.2 Z" fill="#000"/>
<line x1="1101.2" y1="279.5" x2="1101.2" y2="463.8" stroke="#000" stroke-width="2"/><path d="M1091.3,462.8 L1111.1000000000001,462.8 L1101.2,500.8 Z" fill="#000"/>
<g font-family="'Liberation Sans', Arial, Helvetica, sans-serif" font-size="60.5" fill="#000000">
<text x="310.3" y="1621.1" text-anchor="end" letter-spacing="-0.6">0.0</text>
<text x="310.3" y="1402.2" text-anchor="end" letter-spacing="-0.6">0.5</text>
<text x="310.3" y="1183.4" text-anchor="end" letter-spacing="-0.6">1.0</text>
<text x="310.3" y="964.5" text-anchor="end" letter-spacing="-0.6">1.5</text>
<text x="310.3" y="745.7" text-anchor="end" letter-spacing="-0.6">2.0</text>
<text x="310.3" y="526.8" text-anchor="end" letter-spacing="-0.6">2.5</text>
<text x="310.3" y="308.0" text-anchor="end" letter-spacing="-0.6">3.0</text>
<text x="310.3" y="89.1" text-anchor="end" letter-spacing="-0.6">3.5</text>
<text x="418.9" y="1682.6" text-anchor="middle" letter-spacing="-1.3">250</text>
<text x="812.8" y="1682.6" text-anchor="middle" letter-spacing="-1.3">300</text>
<text x="1206.6" y="1682.6" text-anchor="middle" letter-spacing="-1.3">350</text>
<text x="1600.5" y="1682.6" text-anchor="middle" letter-spacing="-1.3">400</text>
<text x="1994.4" y="1682.6" text-anchor="middle" letter-spacing="-1.3">450</text>
<text x="2388.3" y="1682.6" text-anchor="middle" letter-spacing="-1.3">500</text>
</g>
<g font-family="'Liberation Sans', Arial, Helvetica, sans-serif" font-weight="bold" fill="#000000">
<text x="492.06 510.16 528.06 570.16 612.03 635.00 654.03 696.52" y="230.9" font-size="72" xml:space="preserve">light on</text>
<text x="973.96 992.06 1009.96 1052.19 1093.93 1117.00 1135.92 1177.76 1202.50" y="234.9" font-size="72" xml:space="preserve">light off</text>
<text x="826.2" y="433.0" font-size="72">a</text>
<text x="844.1" y="1056.8" font-size="72">b</text>
<text x="852.2" y="1457.2" font-size="72">c</text>
<text x="1234.38 1275.98 1293.35 1355.16 1393.00 1411.70 1434.94 1471.80" y="1796.9" font-size="72.5" xml:space="preserve">Time (s)</text>
<text transform="translate(114.2,1459.4) rotate(-90)" font-size="72.4">Photocurrent density <tspan dx="3">(10</tspan><tspan font-size="43.5" dy="-40">-5</tspan><tspan dy="40"> A</tspan><tspan dx="-3">/cm</tspan><tspan font-size="43.5" dy="-40">2</tspan><tspan dy="40">)</tspan></text>
</g>
</svg>
</body>
</html>
